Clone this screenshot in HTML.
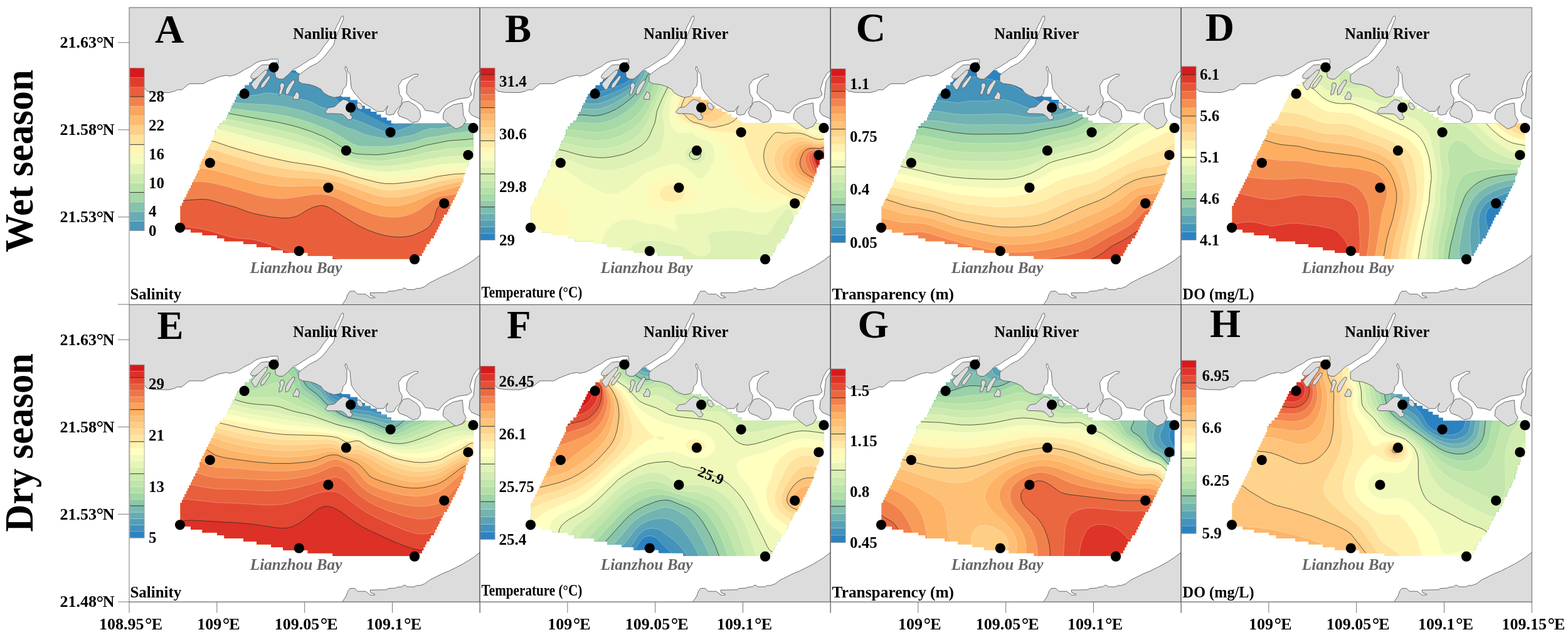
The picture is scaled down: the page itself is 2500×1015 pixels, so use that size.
<!DOCTYPE html>
<html><head><meta charset="utf-8"><title>Figure</title><style>html,body{margin:0;padding:0;background:#fff;overflow:hidden}svg{display:block}.l{stroke:#fff;stroke-opacity:.35;stroke-width:.8}</style></head><body>
<svg width="2500" height="1015" viewBox="0 0 2500 1015">
<defs>
<clipPath id="dc"><path d="M81.7 316.0 L81.7 353.5 L98.0 353.5 L98.0 353.6 L98.0 358.2 L116.7 358.2 L116.7 358.3 L116.7 362.9 L140.0 362.9 L140.1 363.0 L140.1 367.6 L151.7 367.6 L151.7 372.3 L182.0 372.3 L182.1 372.4 L182.1 377.0 L203.0 377.0 L203.1 377.0 L203.1 381.7 L226.4 381.7 L226.4 381.7 L226.4 386.4 L245.0 386.4 L245.1 386.4 L245.1 391.1 L284.7 391.1 L284.8 391.1 L284.8 395.8 L324.4 395.8 L324.4 395.8 L324.4 400.4 L462.1 400.4 L462.2 395.8 L466.8 395.8 L466.8 391.1 L466.9 391.1 L469.1 391.1 L469.1 386.4 L469.2 386.4 L471.5 386.4 L471.5 381.7 L473.8 381.7 L473.8 377.0 L473.9 377.0 L478.5 377.0 L478.5 372.3 L478.5 372.3 L480.8 372.3 L480.8 367.6 L485.5 367.6 L485.5 362.9 L485.5 362.9 L487.8 362.9 L487.8 358.3 L487.9 358.2 L490.1 358.2 L490.1 353.6 L490.2 353.5 L492.5 353.5 L492.5 348.9 L492.5 348.9 L494.8 348.9 L494.8 344.2 L494.9 344.2 L497.1 344.2 L497.1 339.5 L497.2 339.5 L499.5 339.5 L499.5 334.8 L501.8 334.8 L501.8 330.1 L501.9 330.1 L506.5 330.1 L506.5 325.4 L506.5 325.4 L508.8 325.4 L508.8 320.7 L511.2 320.7 L511.2 316.1 L511.2 316.0 L513.5 316.0 L513.5 311.3 L515.8 311.3 L515.8 306.7 L515.9 306.6 L518.2 306.6 L518.2 302.0 L518.2 301.9 L520.5 301.9 L520.5 297.3 L520.5 297.3 L522.8 297.3 L522.8 292.6 L525.2 292.6 L525.2 287.9 L525.2 287.9 L527.5 287.9 L527.5 283.2 L527.5 283.2 L529.8 283.2 L529.8 278.5 L529.9 278.5 L532.2 278.5 L532.2 269.2 L532.2 269.1 L534.5 269.1 L534.5 264.4 L536.8 264.4 L536.8 255.1 L536.9 255.1 L539.2 255.1 L539.2 250.4 L541.5 250.4 L541.5 241.0 L541.5 241.0 L548.5 241.0 L548.5 184.7 L417.8 184.7 L417.8 184.7 L417.8 180.0 L410.8 180.0 L410.8 175.3 L401.5 175.3 L401.5 175.3 L401.5 170.6 L394.5 170.6 L394.5 165.9 L385.1 165.9 L385.1 165.9 L385.1 161.2 L375.8 161.2 L375.8 161.2 L375.8 156.6 L368.8 156.6 L368.8 156.5 L368.8 151.9 L364.2 151.9 L364.1 151.8 L364.1 147.2 L352.5 147.2 L352.4 147.1 L352.4 142.5 L340.0 142.5 L340.0 142.4 L340.0 141.9 L337.5 141.3 L336.1 140.6 L336.1 137.8 L333.8 137.8 L333.8 140.2 L333.7 140.2 L326.3 141.5 L322.1 140.1 L322.1 137.8 L316.3 137.8 L312.8 135.7 L312.8 135.6 L312.8 133.1 L309.4 133.1 L308.1 131.4 L308.1 128.4 L305.9 128.4 L305.6 128.0 L301.1 125.7 L301.1 125.7 L301.1 123.7 L297.2 123.7 L296.8 123.5 L291.8 121.8 L291.8 121.8 L291.8 119.0 L276.3 119.0 L276.0 119.0 L271.0 118.0 L271.0 118.0 L271.9 105.6 L266.1 102.5 L266.1 100.3 L261.6 100.3 L254.0 99.0 L252.1 97.9 L252.1 95.6 L247.8 95.6 L242.8 92.8 L242.8 90.9 L239.3 90.9 L235.8 89.0 L235.7 86.2 L233.4 86.2 L233.4 88.2 L233.4 88.2 L226.0 90.9 L219.4 90.9 L219.4 93.3 L219.4 93.3 L213.1 95.6 L210.1 95.6 L210.1 99.1 L209.3 100.3 L207.7 100.3 L207.7 102.8 L206.4 105.0 L205.4 105.0 L205.4 106.6 L203.5 109.6 L200.7 109.7 L200.7 113.1 L199.3 114.3 L196.1 114.3 L196.1 117.1 L193.7 119.0 L191.4 119.0 L191.4 123.7 L184.4 123.7 L184.4 128.4 L184.4 128.4 L182.1 128.4 L182.1 133.1 L177.4 133.1 L177.4 137.8 L177.4 137.8 L172.7 137.8 L172.7 142.5 L172.7 142.5 L170.4 142.5 L170.4 147.2 L170.3 147.2 L168.1 147.2 L168.1 151.8 L168.0 151.9 L165.7 151.9 L165.7 156.5 L165.7 156.6 L163.4 156.6 L163.4 161.2 L163.3 161.2 L161.1 161.2 L161.1 165.9 L161.0 165.9 L158.7 165.9 L158.7 170.6 L158.7 170.6 L156.4 170.6 L156.4 175.3 L154.1 175.3 L154.1 180.0 L154.0 180.0 L149.4 180.0 L149.4 184.7 L149.3 184.7 L144.7 184.7 L144.7 189.3 L144.7 189.4 L140.1 189.4 L140.0 194.1 L140.0 194.1 L137.7 194.1 L137.7 203.4 L137.7 203.5 L135.4 203.5 L135.4 208.1 L135.3 208.2 L133.1 208.2 L133.1 212.8 L133.0 212.8 L130.7 212.8 L130.7 217.5 L128.4 217.5 L128.4 222.2 L128.3 222.2 L126.1 222.2 L126.0 226.9 L126.0 226.9 L123.7 226.9 L123.7 231.6 L123.7 231.6 L121.4 231.6 L121.4 236.3 L121.3 236.3 L119.0 236.3 L119.0 240.9 L119.0 241.0 L116.7 241.0 L116.7 245.6 L116.7 245.7 L114.4 245.7 L114.4 250.3 L114.3 250.4 L112.0 250.4 L112.0 259.7 L112.0 259.7 L109.7 259.7 L109.7 264.4 L109.7 264.4 L107.4 264.4 L107.4 269.1 L107.3 269.1 L105.0 269.1 L105.0 273.8 L102.7 273.8 L102.7 278.5 L102.7 278.5 L100.4 278.5 L100.4 283.2 L100.3 283.2 L98.0 283.2 L98.0 287.9 L98.0 287.9 L95.7 287.9 L95.7 292.5 L95.6 292.6 L93.4 292.6 L93.4 297.2 L93.3 297.3 L91.0 297.3 L91.0 301.9 L91.0 301.9 L88.7 301.9 L88.7 306.6 L88.6 306.6 L86.4 306.6 L86.4 311.3 L86.3 311.3 L84.0 311.3 L84.0 316.0 L84.0 316.0 L81.7 316.0Z"/></clipPath>
<clipPath id="fc"><rect x="0" y="0" width="559.4" height="473.5"/></clipPath>
<g id="land" fill="#dcdcdc" stroke="#5a5a5a" stroke-width="0.9" stroke-linejoin="round"><path d="M0.0 0.0 L559.4 0.0 L559.4 100.5 L553.5 105.0 L547.6 115.3 L543.0 130.0 L546.0 139.0 L540.2 143.5 L524.0 145.8 L510.6 151.2 L501.8 157.5 L493.0 168.5 L484.0 165.5 L472.2 164.0 L466.3 155.2 L457.4 149.3 L448.6 144.8 L442.0 136.0 L442.7 124.0 L447.0 116.8 L454.5 110.9 L459.7 109.4 L460.4 106.4 L454.5 106.4 L445.6 110.9 L435.3 115.3 L429.4 124.0 L430.8 137.5 L435.3 144.8 L433.8 155.2 L425.0 164.0 L422.0 170.0 L414.6 171.4 L410.0 170.0 L409.4 164.0 L412.4 156.7 L410.0 159.6 L405.7 165.5 L395.4 165.5 L383.6 158.0 L371.7 150.8 L362.9 140.4 L359.0 136.0 L354.4 128.6 L353.0 118.0 L352.2 106.4 L348.5 102.0 L346.3 94.6 L344.8 93.9 L344.0 97.6 L347.0 103.5 L347.0 118.0 L345.6 125.6 L341.0 130.0 L339.6 137.5 L335.0 142.0 L326.3 143.4 L317.5 140.4 L310.0 136.0 L305.6 130.0 L296.8 125.6 L288.0 122.7 L276.0 121.2 L270.0 118.0 L270.0 107.9 L277.6 102.0 L288.0 94.6 L299.7 88.7 L308.6 81.3 L314.5 74.0 L320.4 66.5 L326.3 59.0 L327.8 51.7 L330.8 44.3 L335.0 34.0 L338.0 26.6 L341.9 17.7 L341.0 13.3 L338.0 14.8 L335.0 22.0 L330.8 29.6 L326.3 40.0 L320.4 47.3 L316.0 54.7 L310.0 62.0 L304.0 71.0 L296.8 78.3 L288.0 82.8 L279.0 88.7 L270.0 94.6 L261.3 99.0 L252.4 108.0 L245.0 114.0 L239.0 114.0 L233.5 111.0 L232.5 103.5 L237.6 88.0 L237.6 85.3 L236.7 82.1 L225.9 82.1 L221.5 83.7 L210.7 84.8 L202.0 88.0 L193.4 94.0 L184.7 98.3 L176.0 103.8 L169.5 107.0 L160.8 109.2 L154.3 108.1 L145.7 109.7 L139.0 111.8 L130.7 115.2 L125.2 117.3 L118.3 121.4 L96.2 121.4 L92.1 124.2 L83.8 131.1 L76.2 131.1 L72.8 133.2 L63.1 135.6 L39.7 135.2 L28.7 133.2 L24.5 129.0 L0.0 129.0Z"/><path d="M339.5 474.0 L345.7 464.5 L348.8 456.2 L351.9 452.1 L359.2 451.9 L364.3 456.7 L376.8 456.7 L385.0 462.9 L391.8 462.4 L391.2 460.9 L385.0 459.0 L384.0 454.7 L410.9 454.2 L413.0 452.1 L424.3 451.6 L427.4 450.0 L434.7 449.5 L437.8 446.9 L440.9 447.5 L443.0 449.5 L454.3 449.5 L458.5 447.4 L463.7 447.4 L470.9 444.8 L479.2 438.6 L489.5 433.5 L499.9 428.3 L510.2 424.2 L520.5 419.0 L530.9 413.8 L541.2 407.6 L548.5 402.9 L559.4 394.5 L559.4 474.0Z"/><path d="M193.4 110.3 L195.5 106.0 L202.0 99.4 L210.7 91.8 L220.5 90.8 L223.7 93.0 L221.5 98.3 L210.7 107.0 L199.9 113.5 L194.4 112.4Z"/><path d="M195.5 124.4 L199.9 130.9 L203.0 130.3 L208.5 120.0 L219.4 104.8 L220.5 100.5 L217.2 99.4 L206.4 109.2 L197.7 117.9 L194.4 122.2Z"/><path d="M210.7 128.7 L215.0 126.5 L223.7 113.5 L225.3 109.7 L222.6 108.1 L217.2 114.6 L210.7 122.2 L209.6 126.5Z"/><path d="M238.9 139.5 L243.2 137.4 L244.3 133.0 L247.6 124.4 L246.5 120.6 L242.1 120.0 L240.0 124.4 L241.0 128.7 L238.9 135.2Z"/><path d="M249.7 139.5 L254.0 137.4 L258.4 128.7 L263.8 119.0 L263.8 115.7 L260.6 115.7 L254.0 123.3 L249.7 130.9 L249.2 136.3Z"/><path d="M261.6 146.0 L270.3 146.6 L271.4 139.5 L269.2 135.2 L266.0 134.1 L263.8 139.5 L261.1 142.8Z"/><path d="M312.4 166.5 L317.4 159.8 L327.5 158.1 L334.2 151.4 L340.9 146.4 L347.6 148.0 L352.0 153.0 L353.0 163.0 L352.6 171.5 L356.0 174.0 L354.3 178.2 L349.3 179.0 L344.2 173.2 L339.2 169.8 L327.5 169.0 L315.8 169.0Z"/><path d="M362.7 153.0 L366.0 151.4 L370.0 154.0 L372.7 160.0 L370.0 163.1 L365.0 161.0 L363.0 157.0Z"/><path d="M436.8 150.8 L445.6 149.3 L457.4 156.7 L463.4 164.0 L464.8 174.4 L460.4 181.8 L451.5 183.3 L442.7 177.4 L430.8 173.0 L427.9 167.0 L432.3 158.0Z"/><path d="M504.0 162.5 L516.5 155.0 L531.3 152.0 L532.8 171.4 L537.2 180.3 L531.3 189.2 L521.0 193.6 L510.6 186.2 L500.3 177.4 L501.0 168.5Z"/><path d="M559.4 106.4 L552.0 118.0 L550.5 130.0 L549.0 144.8 L543.0 153.7 L541.7 165.5 L546.0 171.4 L559.4 177.4Z"/></g>
<g id="dots" fill="#000"><circle cx="230.5" cy="95.3" r="8.1"/><circle cx="183.6" cy="137.4" r="8.1"/><circle cx="353.1" cy="159.4" r="8.1"/><circle cx="416.6" cy="198.8" r="8.1"/><circle cx="548.5" cy="191.9" r="8.1"/><circle cx="345.9" cy="227.9" r="8.1"/><circle cx="540.4" cy="235.0" r="8.1"/><circle cx="128.8" cy="247.5" r="8.1"/><circle cx="317.4" cy="287.1" r="8.1"/><circle cx="502.2" cy="312.1" r="8.1"/><circle cx="81.0" cy="350.8" r="8.1"/><circle cx="270.8" cy="388.0" r="8.1"/><circle cx="455.0" cy="401.2" r="8.1"/></g>
</defs>
<rect width="2500" height="1015" fill="#fff"/>
<g transform="translate(206,12)">
<g clip-path="url(#fc)">
<rect x="0" y="0" width="559.4" height="473.5" fill="#fff"/>
<g clip-path="url(#dc)"><rect x="60" y="70" width="510" height="350" fill="#2c82c0"/><path fill="#4a97b9" d="M70 90l0-2.2 12.5 4.1 25 9.2 45 18.4 7.5 2.4 7.5 1.5 7.5-.1 7.5-2 5-2.3 12.5-7.7 10-5.3 8.5-3.5 9-2.3 7.5-.6 6.5 .4 26.4 5 7.8 2.5 12.3 5 17 7.8 7.5 4.3 5 3.6 4.3 4.3 11.4 15 4.3 3.6 5 3.2 10 4.7 20 8 37.5 18.9 5 1.9 2.5 0 5-1.7 20-10.4 12.5-5.7 10-3.6 7.5-1.9 15-1.8 45-1.2 25-2.8 0 248.8-487.5 0z"/><path fill="#68adb3" class="l" d="M70 105l0-1.2 27.5 9.5 20 7.9 37.5 16.2 12.5 3.9 5 .7 7.5-.4 22.5-2.4 15-2.9 7.5-.2 25 3.7 17.3 5.2 15.2 2.7 10 3.8 10.4 6 17.1 5.6 22.5 10.3 27.5 9.1 32.5 13.6 5 1.7 5 1 5 .1 7.5-1.4 22.5-8.1 20-8.8 10-2.8 7.5-.7 12.5 .3 10-.4 35-2.6 15-2 0 235.1-487.5 0z"/><path fill="#86c2ac" class="l" d="M70 120l0-1.4 22.5 7.2 20 7.3 35 13.7 15 4.6 5 .7 17.5 1 32.5 1.5 22.5 2.2 10 1.6 27.5 6.7 7.5 2.2 17.5 6.9 20 6.2 17.5 8.3 7.5 2.9 12.5 3.8 15 6.5 7.5 2.1 25 5 5 .4 7.5-.2 30-5.5 5-1.5 15-6.7 10-2.8 2.5-.2 10 .8 22.5-4 42.5-4.7 0 222.9-487.5 0z"/><path fill="#a4d8a6" class="l" d="M70 132.5l22.5 6.4 48.2 16.1 16.8 4.7 10 1.7 70 8.9 17.5 3.5 20 5.1 15 5.1 25 9.5 15 7.8 25 15.3 7.5 3.1 5 1 10 .7 22.5 .3 10-.3 10-1 30-5.2 7.5-2 12.5-4.2 7.5-1.9 15-2.1 22.5-4.4 17.5-1.9 15-2.3 10-.6 0 211.7-487.5 0z"/><path fill="#bae3a9" stroke="#2a2a2a" stroke-opacity=".85" stroke-width=".9" d="M70 147.5l0-2 25 6.2 45 12.8 15 3.7 82.5 14.7 17.5 3.9 15 4 20 6.6 20 8.2 12.5 6.5 25 15.5 10 4.4 5 1.3 10 .7 22.5 .6 12.5-1 15-2.3 25-4.7 10-2.5 15-4.5 37.5-7.4 27.5-1.9 20-2.2 0 199.4-487.5 0z"/><path fill="#ceebaf" class="l" d="M70 160l0-1.9 20 4 62.5 14.8 85 18 27.5 6.8 22.5 7.1 17.5 6.7 12.5 5.8 22.5 11.9 10 4.6 7.5 2.5 10 2 27.5 2 7.5-.1 10-.9 32.5-5.4 32.5-7.6 27.5-4.8 10-1.1 25-1.3 17.5-2.3 0 186.7-487.5 0z"/><path fill="#e1f3b5" class="l" d="M70 172.5l0-2.1 25 3.9 25 4.7 135 32 25 6.8 20 6.5 12.5 4.9 27.5 12 12.5 4.6 12.5 3.3 15 2.3 20 1.6 10-.1 10-.8 27.5-4 32.5-6.5 15-2.4 15-1.6 27.5-1.6 20-3.1 0 174.6-487.5 0z"/><path fill="#f5fbbc" class="l" d="M70 185l0-2.4 15 1.6 30 3.9 22.3 4.4 57.7 15.5 97.5 24 15 4.6 37.3 13.4 15.2 4.7 15 3.3 20 3.1 15 .9 17.5-1.1 27.5-3.6 40-7.1 15-1.4 27.2-1.3 20.3-3.7 0 163.7-487.5 0z"/><path fill="#fff5b4" class="l" d="M70 197.5l0-2.3 15 .8 27.5 2.4 20 3.1 10 2.6 32.5 10 30 8.1 45 10.8 50 10.5 17.5 4.9 45 13.9 27.5 6.2 12.5 2.1 15 .6 20-1.7 27.5-3.7 22.5-4.6 10-1.6 20-1.9 20-.7 20-3.6 0 154.1-487.5 0z"/><path fill="#fee29e" stroke="#2a2a2a" stroke-opacity=".85" stroke-width=".9" d="M70 210l0-1.6 25 .5 20 1.1 15 2.1 7.5 1.9 20 6.9 17.5 5.3 37.5 10.2 42.5 9.4 37.5 5.6 15 2.8 32.5 8.1 17.5 6.1 10 2.9 27.5 7.1 12.5 2.2 15 .1 22.5-2.3 22.5-3.4 22.5-5.5 10-1.7 20-2.6 17.5-.6 20-2.8 0 145.7-487.5 0z"/><path fill="#fecf88" class="l" d="M76.3 222.5l31.2 0 10 .7 10 1.5 10 2.6 45 14.2 35 9.2 17.5 3.7 15 2.6 15 1.9 32.5 3 22.5 3.9 17.8 4.2 24.7 8.4 30 9.2 10 2.3 7.5 1 7.5 .3 10-.4 20-2.7 20-4.2 27.5-7.4 25-4.6 17.5-1.6 20-.7 0 137.9-487.5 0 0-184.8z"/><path fill="#fdbc72" class="l" d="M70 240l0-1.4 27.5-1.1 15 .5 12.5 1.6 15 3.6 55 16.3 17.5 4.4 15 3.1 12.5 2 15 1.5 45 2 12.5 1.5 12.5 2.3 15 4.1 50 17.8 12.5 3 10 1.2 15-.2 17.5-2.7 15-4 32.5-10.6 32.5-7.3 15-1.4 17.5 1.3 0 130-487.5 0z"/><path fill="#fba55d" class="l" d="M70 257.5l0-.5 10-.8 20-.8 12.5 .5 12.5 1.4 20 4.5 42.5 12.3 17.5 4.6 15 3.2 12.5 1.9 10 .9 12.5 .4 42.5-1.3 10 .6 10 1.4 10 2.2 12.5 4 35 14.4 12.5 4.5 12.5 3.3 12.5 1.8 7.5 .2 7.5-.4 10-1.5 7.5-1.8 12.5-4.4 23.2-10.6 9.3-3.6 37.5-9.8 5-.6 7.5 .2 17.5 2.7 0 121.1-487.5 0z"/><path fill="#f2824d" class="l" d="M90.3 277.5l22.2-.3 10 .8 10 1.5 20 4.8 52.5 15 12.5 2.7 12.5 1.8 12.5 .6 12.5-.6 32.5-5.4 10-1 10 .1 7.5 .9 10 2.6 10 3.8 35 17 15 6 15 4.3 15 2 10 0 7.5-.8 10-2.2 7.5-2.6 5-2.2 7.5-4.1 16.6-12.2 7.7-5 5.7-2.7 5-1.5 17.5-2.5 12.5-4 5-.8 10 .8 15 3.5 0 109.7-487.5 0 0-128.4z"/><path fill="#e95f3c" stroke="#2a2a2a" stroke-opacity=".85" stroke-width=".9" d="M70 307.5l7.5-.5 12.5 .2 25-1.8 10 .5 7.5 1.6 22.5 6.9 15 3.8 17.5 6.7 12.5 3.7 25 4.9 20 2 10-.3 10-1.9 5-2.1 14.3-8.7 8.2-3.9 10-2.8 5-.4 2.5 .3 5 1.5 6.1 2.8 36.4 22.9 10 5.5 12.5 6 12.5 4.6 15 4.2 12.5 2.1 10 .5 10-.4 10-1.9 7.5-2.7 10-4.4 7.5-4.3 5-5 5-7.5 1.9-4.6 2.2-10 2.1-5 3.7-5 4-2.5 3.6-.2 10 4 5 .5 5-.7 10-2.8 5-.9 7.5 .1 7.5 1.1 5 1.2 0 92.7-487.5 0z"/><path fill="#e03c2c" class="l" d="M550.2 345l7.3-.7 0 63.2-72.5 0 10.3-7.5 10.2-10 7.7-10 11.8-18.6 5.3-6.4 4.7-3.9 5-2.9 5-2zM70 347.5l0-2.1 25 4.5 20 2.8 15 3.5 25 7.6 10 2.5 10 1.5 20 1.5 7.5 1.4 15 4.4 40 15.2 12.5 3.7 12.5 3 12.5 1.7 25-.8 10 .6 15 3.2 17.8 5.8-292.8 0z"/><path fill="#d7191c" class="l" d="M70 385l0-1.1 65 15.1 40 8.5-105 0zM555.6 395l1.9-1.3 0 13.8-17.7 0z"/></g>
<use href="#land"/>
<use href="#dots"/>
<rect x=".9" y="340.35" width="23.2" height="15.55" fill="#4a97b9"/><rect x=".9" y="325.09" width="23.2" height="15.55" fill="#68adb3"/><rect x=".9" y="309.84" width="23.2" height="15.55" fill="#86c2ac"/><rect x=".9" y="294.59" width="23.2" height="15.55" fill="#a4d8a6"/><rect x=".9" y="279.34" width="23.2" height="15.55" fill="#bae3a9"/><rect x=".9" y="264.08" width="23.2" height="15.55" fill="#ceebaf"/><rect x=".9" y="248.83" width="23.2" height="15.55" fill="#e1f3b5"/><rect x=".9" y="233.58" width="23.2" height="15.55" fill="#f5fbbc"/><rect x=".9" y="218.32" width="23.2" height="15.55" fill="#fff5b4"/><rect x=".9" y="203.07" width="23.2" height="15.55" fill="#fee29e"/><rect x=".9" y="187.82" width="23.2" height="15.55" fill="#fecf88"/><rect x=".9" y="172.56" width="23.2" height="15.55" fill="#fdbc72"/><rect x=".9" y="157.31" width="23.2" height="15.55" fill="#fba55d"/><rect x=".9" y="142.06" width="23.2" height="15.55" fill="#f2824d"/><rect x=".9" y="126.81" width="23.2" height="15.55" fill="#e95f3c"/><rect x=".9" y="111.55" width="23.2" height="15.55" fill="#e03c2c"/><rect x=".9" y="96.30" width="23.2" height="15.55" fill="#d7191c"/><line x1=".9" x2="24.1" y1="340.35" y2="340.35" stroke="#fff" stroke-opacity="0.35" stroke-width="0.8"/><line x1=".9" x2="24.1" y1="325.09" y2="325.09" stroke="#fff" stroke-opacity="0.35" stroke-width="0.8"/><line x1=".9" x2="24.1" y1="309.84" y2="309.84" stroke="#fff" stroke-opacity="0.35" stroke-width="0.8"/><line x1=".9" x2="24.1" y1="294.59" y2="294.59" stroke="#333" stroke-width="1"/><line x1=".9" x2="24.1" y1="279.34" y2="279.34" stroke="#fff" stroke-opacity="0.35" stroke-width="0.8"/><line x1=".9" x2="24.1" y1="264.08" y2="264.08" stroke="#fff" stroke-opacity="0.35" stroke-width="0.8"/><line x1=".9" x2="24.1" y1="248.83" y2="248.83" stroke="#fff" stroke-opacity="0.35" stroke-width="0.8"/><line x1=".9" x2="24.1" y1="233.58" y2="233.58" stroke="#fff" stroke-opacity="0.35" stroke-width="0.8"/><line x1=".9" x2="24.1" y1="218.32" y2="218.32" stroke="#333" stroke-width="1"/><line x1=".9" x2="24.1" y1="203.07" y2="203.07" stroke="#fff" stroke-opacity="0.35" stroke-width="0.8"/><line x1=".9" x2="24.1" y1="187.82" y2="187.82" stroke="#fff" stroke-opacity="0.35" stroke-width="0.8"/><line x1=".9" x2="24.1" y1="172.56" y2="172.56" stroke="#fff" stroke-opacity="0.35" stroke-width="0.8"/><line x1=".9" x2="24.1" y1="157.31" y2="157.31" stroke="#fff" stroke-opacity="0.35" stroke-width="0.8"/><line x1=".9" x2="24.1" y1="142.06" y2="142.06" stroke="#333" stroke-width="1"/><line x1=".9" x2="24.1" y1="126.81" y2="126.81" stroke="#fff" stroke-opacity="0.35" stroke-width="0.8"/><line x1=".9" x2="24.1" y1="111.55" y2="111.55" stroke="#fff" stroke-opacity="0.35" stroke-width="0.8"/><rect x=".9" y="96.30" width="23.2" height="259.30" fill="none" stroke="#999" stroke-width="0.8"/>
<text x="31.0" y="150.4" font-family="'Liberation Serif','Times New Roman',serif" font-weight="bold" font-size="25">28</text>
<text x="31.0" y="196.1" font-family="'Liberation Serif','Times New Roman',serif" font-weight="bold" font-size="25">22</text>
<text x="31.0" y="241.9" font-family="'Liberation Serif','Times New Roman',serif" font-weight="bold" font-size="25">16</text>
<text x="31.0" y="287.6" font-family="'Liberation Serif','Times New Roman',serif" font-weight="bold" font-size="25">10</text>
<text x="31.0" y="333.4" font-family="'Liberation Serif','Times New Roman',serif" font-weight="bold" font-size="25">4</text>
<text x="31.0" y="363.9" font-family="'Liberation Serif','Times New Roman',serif" font-weight="bold" font-size="25">0</text>
<text x="41.0" y="55.6" font-family="'Liberation Serif','Times New Roman',serif" font-weight="bold" font-size="64">A</text>
<text x="261.3" y="49.5" font-family="'Liberation Serif','Times New Roman',serif" font-weight="bold" font-size="24.5" textLength="135" lengthAdjust="spacingAndGlyphs">Nanliu River</text>
<text x="192.8" y="422.6" font-family="'Liberation Serif','Times New Roman',serif" font-weight="bold" font-style="italic" font-size="25" fill="#666" textLength="146.6" lengthAdjust="spacingAndGlyphs">Lianzhou Bay</text>
<text x="1.5" y="465" font-family="'Liberation Serif','Times New Roman',serif" font-weight="bold" font-size="26" textLength="81.8" lengthAdjust="spacingAndGlyphs">Salinity</text>
</g>
</g>
<g transform="translate(765,12)">
<g clip-path="url(#fc)">
<rect x="0" y="0" width="559.4" height="473.5" fill="#fff"/>
<g clip-path="url(#dc)"><rect x="60" y="70" width="510" height="350" fill="#2c82c0"/><path fill="#2c82c0" d="M249.1 80l308.4 0 0 327.5-487.5 0 0-287.6 35 2 65 5.5 7.5 .1 5-.7 12.5-3.8 22.5-4.7 7.5-3 5-2.9 5-4.5 3.7-5.4z"/><path fill="#4091bc" class="l" d="M256.7 80l300.8 0 0 327.5-487.5 0 0-277.1 40 1.8 42.5 3 25 2.3 7.5-.4 37.5-12.7 9.4-4.4 5.6-3.7 3.7-3.8 3-5z"/><path fill="#559fb7" class="l" d="M264.1 80l293.4 0 0 327.5-487.5 0 0-266.8 30 .8 57.5 2.7 20 1.5 7.5-.3 7.5-1.6 20-7.7 12.5-5.4 10-5.2 7.9-5.5 2.5-2.5 2.1-3.4 11.2-24.1z"/><path fill="#69aeb3" class="l" d="M269.9 82.5l1.6-2.5 286 0 0 327.5-487.5 0 0-256.4 22.5 .1 42.5 1.5 27.5 0 17.5 .9 7.5-.4 10-2.5 12.5-5 15-7.5 12.5-7.5 7.6-5.7 2.6-2.5 3.6-5 11.2-22.3z"/><path fill="#7dbcae" class="l" d="M277.5 82.5l1.8-2.5 278.2 0 0 327.5-487.5 0 0-246.1 25-.2 42.5 1.2 25-1.1 20 1 10-1.2 10-3.1 12.5-5.6 15-9.1 10-7.2 10-8.6 4-5 11-20.8z"/><path fill="#92cbaa" stroke="#2a2a2a" stroke-opacity=".85" stroke-width=".9" d="M285.6 82.5l2-2.5 269.9 0 0 327.5-487.5 0 0-235.6 27.5-.7 45 1.3 7.5-.2 12.5-1.4 15 1.5 7.5 .1 10-1.6 12.5-4.4 10-4.7 10-6.5 12.5-9.7 15-14.6 4.2-6 8.6-17.5z"/><path fill="#a6d9a5" class="l" d="M294.3 82.5l2-2.5 229 0 9.7 6.1 7.5 3.6 7.5 2.3 7.5 .9 0 314.6-487.5 0 0-225 17.5-1 17.5-.2 37.5 2 20 0 15 1.4 7.5 .2 7.5-.7 5-1 7.5-2.2 7.5-2.9 10-4.9 10-6.3 10-8 7.5-7.8 12.7-16.1 2.9-5 5.1-12.5 3.7-7.5 10.3-15z"/><path fill="#b5e1a7" class="l" d="M303.4 82.5l2.2-2.5 193.2 0 26.2 24 10 7.7 5 2.8 5 2 5 1 7.5-.2 0 290.2-487.5 0 0-214 22.5-1.8 20 .1 42.5 4 22.5 2.9 7.5 .3 10-.8 10-1.9 7.5-2.2 7.5-3.1 11.4-6 11.1-6.8 7.4-5.7 4.4-5 10.7-15.1 9.3-17.4 2.3-5 5-15 3.6-7.5 8.2-12.5z"/><path fill="#c3e7ac" class="l" d="M313.1 82.5l2.5-2.5 162.3 0 13.5 12.5 31.1 33.8 10 9 7.5 4.2 5 1.4 5 .1 7.5-1.7 0 268.2-487.5 0 0-202.5 22.5-2.6 12.5-.4 10 .3 17.5 2.1 40 7 12.5 1.1 12.5-.9 12.5-2.2 10-3 8.7-3.9 8.8-5 10-7 7.5-6.6 5-5.8 12.8-23.1 9.9-20 6.6-17.5 4.6-10 8.3-12.5z"/><path fill="#d0ecb0" class="l" d="M323.6 82.5l3.1-2.5 131.3 0 12 9.8 10.6 10.2 11.3 12.5 25.6 30.6 7.5 7.8 5 4.3 7.5 4.4 5 1.2 2.5 .1 5-.8 7.5-3 0 250.4-487.5 0 0-190.1 12.5-2.3 12.5-1.6 10-.6 10 .2 15 1.9 37.5 8.4 12.5 1.4 10 .3 12.5-.9 12.5-2.3 12.5-3.8 10-4.6 7.5-4.6 7.5-5.9 5-5.2 5.9-7.8 5.9-10 6.8-17.5 24.6-52.5 4.7-7.5 5.8-7.5 6.3-6.9z"/><path fill="#ddf1b4" stroke="#2a2a2a" stroke-opacity=".85" stroke-width=".9" d="M336 82.5l3.9-2.5 96.9 0 8.1 5 6.8 5 14.2 12.5 14 15 30.1 35.5 9.2 9.5 8.5 7.5 7.3 4.6 2.5 .9 5 .6 7.5-1.7 7.5-3.8 0 236.9-487.5 0 0-176.2 12.5-3.2 12.5-2.3 12.5-1.1 10 .1 17.5 3.2 20 5.9 12.5 2.9 17.5 2.2 12.5 .4 12.5-1.3 17.5-3.8 10-3.4 12-5.9 7.9-5 5.1-4.4 4.7-5.6 3-5 8.5-20 1.3-5 2.5-15.2 8.3-19.8 12.3-25 4.4-8 5-7.4 7.5-8.8 7.5-7zM342.5 227.4l-2.5 .5-3.8 2.1-1.7 2.5-.4 2.5 .7 2.5 2.7 2.9 2.5 1.2 2.5 .5 2.5-.1 2.5-.7 2.5-1.6 1.7-2.2 .6-2.5-.4-2.5-1.9-2.6-2.5-1.6-2.5-.8z"/><path fill="#ebf7b9" class="l" d="M352.8 82.5l7-2.5 49.7 0 13 5 7.5 4 7.5 4.8 13.9 11.2 12.4 12.5 26.6 30 11.9 12.5 13.5 12.5 12.5 10 6.7 4 5 1 7.5-1.6 10-5.1 0 226.7-91.6 0 6-22.5 2.9-7.5 1.7-2.5 2.7-2.5 8.3-4.4 5-3.8 5-6.3 2.6-5.5 1.3-5 .5-5-.3-5-1-5-3.1-7.8-2.5-3.3-2.5-.8-2.5 .5-2.5 1.3-5.6 5.1-9.5 12.5-9.9 17.3-2.5 2.5-2.5 1.1-5 .6-5-.3-27.5-5.3-15-1.1-12.5 .4-12.5 1.2-7.5 1.1-5 1.9-2.8 3.1-.8 2.5-.1 2.5 3.2 12.5 .6 5-.3 2.5-1 2.5-2.5 2.5-3.8 2.1-2.5 .8-5 .3-4.4-.7-3.1-1.1-7.3-3.9-10.8-7.5-6.9-2.8-17.5-3.7-12.5-3.8-10-1-12.5 0-7.5 .7-7.5 2.2-6.8 3.4-6.7 5-4.7 5-3.3 5-3.3 7.5-1.9 7.5-155.8 0 0-159.7 15-5.1 12.5-3 10-1.3 10 .1 17.5 2.1 2.5 .7 25 10.3 7.5 2.6 10 2.7 15 2.6 12.5 0 12.5-1.7 15-4.1 27.8-11.2 15.2-7.5 7-4.9 2.5-2.5 1.5-2.6 1.9-5 2.9-17.5 1.3-12.5-.2-2.5-2.8-12.5-.2-5 .6-5 4.9-17.5 9.1-20 4-7.5 4.5-7.2 5-6.5 5-5.4 5-4.6 7.5-5.6 7.5-4.5zM335 222.4l-4.3 2.6-2.3 2.5-2 5 .5 5 1.1 2.5 2 2.6 2.9 2.4 4.6 2.3 5 1 2.5 0 5-1 2.5-1.1 4.5-3.7 1.7-2.5 1-2.5 .2-5-.7-2.5-1.5-2.5-2.4-2.5-5.3-3-5-1.1-5 .1z"/><path fill="#f8fcbd" class="l" d="M365.7 87.5l6.8-1.1 7.5-.5 12.5 .8 12.5 3 12.7 5.3 12.2 7.5 12 10 10 10 25.4 27.5 18.7 17.5 9.4 7.5 24.6 17.3 5 2.7 2.5 .5 5-.1 7.5-2.5 7.5-4.1 0 218.7-52.9 0 6.6-20 3.9-15 1.6-12.5-.5-12.5-1.6-7.5-1.7-5-2.5-5-3.4-5-9.5-10.7-2.5-.9-5-.4-5 .7-3.8 1.3-8.7 5.1-10 4.4-10 2.4-5 .3-7.5-.6-7.5-1.6-17.5-5-7.5-1.3-7.5-.5-10 .9-22.5 5.2-12.5 2.1-20 2.3-15 .3-5 .6-3.5 2.9-1.3 2.5-.4 2.5 .4 2.5 4.1 7.5 .5 2.5-.5 2.5-1.8 2.5-2.5 .4-2.5-.2-2.5-.8-10-5.6-5-1.7-7.5-1.5-15-2-20-5.6-7.5-.6-10 .5-5 .9-7.5 2.8-5 3-5 4.3-5 6.1-5 9.5-4.3 10.5-6.3 17.5-4.2 15-112.7 0 0-137.2 5.8-2.8 16.7-7.4 10-3.4 12.5-2.5 5-.4 5 .3 5 1.5 8.7 4.4 26.3 18.2 20 12.1 7.5 3.1 7.5 2.3 7.5 1.4 5 .2 5-.6 5-1.6 10-5.7 10-7.1 15-13.3 10-6.7 12.5-4.7 27.5-8 5-.3 2.5 .3 5 1.8 6.7 3.6 7.9 5 3.2 2.5 4.8 5 2.4 3.4 2.5 2 2.5 .3 3.3-.7 4.1-2.5 2.6-2.5 5-6.8 4.6-8.2 2.9-6.6 1.7-5.9 .8-5-.4-5-1.2-5-2.1-5-3.8-4.8-2.5-1.9-2.5-1.3-12.4-4.5-4.8-2.5-2.6-2.5-1.3-2.5-1.4-1.4-2.5-.5-10 1.6-5 .2-5-.6-5-2.3-5-4.8-2.7-4.7-2.3-10-.4-7.5 1.8-17.5 2.9-10 6.8-15 3.9-6.5 4.3-6 8.2-8.9 5-4.3 6.1-4.3 11.4-5.9 7.5-2.7z"/><path fill="#fff9b7" class="l" d="M362.2 97.5l10.3-1.7 12.5 .2 12.5 2.6 10.1 3.9 9.9 5.7 8.9 6.8 10.4 10 18.2 20.5 9.5 9.5 15 12.5 17.6 12.5 20.4 10.7 12.5 7.6 5 2.2 5 .9 5-.5 5-1.7 7.5-4 0 212.3-31.5 0 2.5-15 1.2-12.5 .2-12.5-.7-10-1.9-10-3.2-10-3.7-7.5-5.7-7.5-4.7-3.9-7.5-4.2-5-4.2-5-2-7.5-1.5-5-.3-17.5 1.8-5-.3-10-3.2-7.5-3.7-5-3.2-6-5.3-4.6-5-11.3-15-3.1-4.9-2.5-5.4-4.6-12.2-6.8-15-3.7-15-2.7-5-2.2-2.5-6.6-5-4.7-2.5-6.2-2.6-7.5-1.5-5-1.6-5-2.6-7.5-4.8-5-1.4-12.5-1.3-5.7-1.7-4.7-2.5-2.1-1.8-2.5-3.1-2.2-5.1-.8-5 .8-15 1-5 2.3-7.5 3.2-7.5 3.2-5.8 7.5-10.3 5-5.2 5-4.3 5-3.5 7.5-4.1 5-2.1zM293.7 270l8.8-1.4 7.5 .3 7.5 2.1 7.5 4.6 6.9 6.9 6.5 7.5 3.7 5 2.1 5 .2 2.5-.7 2.5-1.5 2.5-2.4 2.5-3.7 2.5-6.1 2.7-7.5 2-25 5.2-7.5 .3-5-.7-5-1.7-5-2.9-5-4.9-1.7-2.5-2.2-5-.5-2.5-.1-5 1.9-7.5 4.7-7.5 5.3-5 7.6-4.5zM89.2 302.5l8.3-1.7 5-.3 5 .5 5 1.6 12.5 6.2 5 3.4 5.5 5.3 2 2.6 2.8 4.9 2.4 7.5 .8 7.5 0 7.5-1 12.5-2 10-4.6 12.5-2.2 7.5-3.4 17.5-60.3 0 0-99.8z"/><path fill="#ffeca8" class="l" d="M359.8 107.5l10.2-1.7 7.5-.1 5 .5 6.3 1.3 6.2 2 10 5 10 7.5 7.5 7.6 6.4 7.9 13.6 19.1 8 8.4 4.5 3.5 6.4 4 28.6 15.1 6.3 2.4 18.7 5.6 15 7.5 7.5 2.6 5 .5 5-.9 10-4.8 0 207-15.1 0 .7-12.5-.1-12.5-1-12.5-1.5-10-2.4-10-3.3-10-3.4-7.5-4.4-7.5-7-8.5-7.5-6.4-2.5-1.4-5-1-7.5-2.8-25-12.4-15-9.9-5.7-5.1-4-5-3.1-5-13.8-27.5-6.5-17.5-2.3-7.5-2.4-10-2.2-4-2.5-1.9-2.5-.4-17.5 .3-22.5-2.1-7.5-1.2-5-1.6-12.5-5.6-10-2.5-7.5-3-8.3-5.5-4.9-5-1.8-4.2-.4-3.3 1.3-10 4.3-12.5 5.5-10 6.8-8.6 7.5-6.7 10-6.1zM299.9 282.5l5.1-.8 5 .3 5 1.6 5.7 3.9 3.9 5 1.4 5-.3 2.5-1 2.5-2.2 2.5-4 2.5-3.5 1.3-5 1-5 .3-7.5-.9-4.3-1.7-3.3-2.5-2-2.5-1-2.5-.4-2.5 .9-5 1.4-2.5 3.7-3.8 2.5-1.7z"/><path fill="#fedf99" stroke="#2a2a2a" stroke-opacity=".85" stroke-width=".9" d="M359.2 117.5l5.8-1.1 7.5-.2 7.5 .9 7.5 2.4 6.2 3 6.3 4.4 5.7 5.6 3.9 5 3 5 3.1 7.5 1.5 7.5-.1 5-1.3 5-2.9 5-4.2 5-3.7 3.3-7.8 4.2-7.8 2.5-14.4 3.2-7.5 .3-15-5.3-12.6-3.2-4.9-3-2.4-2-7.1-7.5-4.1-2.5-1.6-2.5 .2-2.5 2.5-9.2 4.9-10.8 5-7.5 5.1-5.5 7.5-5.9 7.5-3.9zM470.7 200l1.8-.8 2.5-.4 12.5 1.7 12.5-.8 10 .5 7.5 1.7 12.7 5.6 4.8 1.6 5 1.1 5-.1 2.5-.6 10-4.6 0 202.6-.8 0-.6-15-1.4-12.5-3.9-20-3-10-3.8-10-4.8-10-4.4-7.5-4.8-6.7-5-5.7-8.8-7.6-6.2-3.6-10-2.8-5-2.3-15-10.6-7-5.7-5.4-5-4.3-5-3.1-5-3.6-7.5-2.5-7.5-1.4-7.5 .1-7.5 1.3-7.5 2.8-7.5 2.9-5 7.7-10z"/><path fill="#fed28a" class="l" d="M353.1 130l6.9-1.9 5-.5 7.5 .6 5.9 1.8 4.9 2.5 6 5 3.7 5 2.2 5 1.1 5-.1 5-1.2 5-2.5 5-2.5 3.1-4.9 4.4-7.9 5-4.7 2.1-2.5 .7-5 0-17.5-3.6-5-1.6-3.6-2.6-2.4-2.5-3.8-5-3-5-.6-2.5 .6-5 1.9-5 3.4-5.8 3.5-4.2 4-3.8 5-3.5zM501.6 207.5l5.9-.9 7.5 .2 5 1.2 15 4.8 7.5 1.1 6.4-1.4 8.6-3.8 0 142-5.7-13.2-6.7-12.5-7.6-11.6-6.8-8.4-5.7-5.6-5.9-4.4-6.6-3.7-14.1-6.3-10.3-7.5-5.4-5-4.4-5-3.5-5-3.5-7.5-1.9-7.5-.2-7.5 1.5-7.5 3.6-7.5 3.8-5 5.8-5 8.6-4.5z"/><path fill="#fec57b" class="l" d="M353.5 142.5l6.5-1.2 5 .5 2.5 .9 3.9 2.3 2.3 2.5 1.5 2.5 .8 2.5 .2 2.5-.8 5-2.9 5-5 5-5 2.4-7.5 .5-2.9-.4-4.6-1.6-4.5-3.4-3.2-5-.3-5 .5-2.5 2.5-4.5 5-4.9zM512.2 212.5l7.8 .2 17.5 4 5 .4 5-1 10-4.1 0 119.7-12.1-19.2-7.5-10-5.4-6.2-5-4.5-5-3.4-17-8.4-7.5-5-7.6-7.5-3.6-5-2.5-5-2.2-7.5-.2-7.5 1.7-7.5 2.4-5 3.5-5 2.4-2.5 5.6-4.4 7.5-3.9z"/><path fill="#fdb86c" class="l" d="M557.3 215l.2 103.1-15-20.3-5-6-5-5.1-6.1-4.2-16.4-7.9-5-3.5-3.9-3.6-4-5-2.6-5-1.6-5-.6-5 .9-7.5 3.1-7.5 3.5-5 2.4-2.5 6.8-5 6-2.2 5-.7 5 .2 12.5 2.3 5 .4 5-1.2z"/><path fill="#fba85e" class="l" d="M551 220l6.5-2.4 0 89.5-15-18.7-7.5-8.2-3.9-2.7-15.9-7.5-6.3-5-2.1-2.5-3-5-2.1-7.5 .6-7.5 2.9-7.5 5.1-7.5 4.7-3.8 2.5-1.3 5-1.3 5-.2 15 1.6z"/><path fill="#f59053" stroke="#2a2a2a" stroke-opacity=".85" stroke-width=".9" d="M550.1 222.5l7.4-2.4 0 77.7-20.1-22.8-2.4-1.9-11.2-5.6-7.1-5-3.5-5-2.1-5-.5-2.5-.1-2.5 .7-5 2.5-7.5 2.8-5 3.5-3.2 5-2.2 5-.4 12.5 .4z"/><path fill="#ef7848" class="l" d="M557 222.5l.5-.1 0 67.3-16.6-17.2-3.4-2.8-7-4.7-5.3-5-3.1-5-2-5-1.3-5-.2-2.5 .7-5 .8-2.5 1.3-2.5 3.6-3.4 5-1.8 15-1.4z"/><path fill="#e9613d" class="l" d="M555.5 225l2-.4 0 58.1-25.3-22.7-3.3-5-3.1-7.5-1.5-5-.1-2.5 1.4-5 1.9-2.5 2.5-1.7 5-1.6 10-1.6z"/><path fill="#e34932" class="l" d="M552.7 227.5l4.8-.7 0 49.7-17.2-14-4.9-5-1.8-2.5-2.5-5-2.4-7.5 .4-5 1.3-2.5 3-2.5 7.7-2.5z"/><path fill="#dd3127" class="l" d="M548.4 230l9.1-1 0 42-10-7.2-7.5-6.4-3.7-4.9-3.3-7.5-.5-5 .7-2.5 1.8-2.5 4.5-2.5z"/><path fill="#d7191c" stroke="#2a2a2a" stroke-opacity=".85" stroke-width=".9" d="M544.9 232.5l5.1-1 7.5-.1 0 34.3-7.5-4.7-5-3.8-4.6-4.7-3-5-1.3-5 .1-2.5 1-2.5 2.6-2.5z"/></g>
<use href="#land"/>
<use href="#dots"/>
<rect x=".9" y="359.95" width="23.2" height="10.85" fill="#2c82c0"/><rect x=".9" y="349.41" width="23.2" height="10.85" fill="#4091bc"/><rect x=".9" y="338.86" width="23.2" height="10.85" fill="#559fb7"/><rect x=".9" y="328.32" width="23.2" height="10.85" fill="#69aeb3"/><rect x=".9" y="317.77" width="23.2" height="10.85" fill="#7dbcae"/><rect x=".9" y="307.22" width="23.2" height="10.85" fill="#92cbaa"/><rect x=".9" y="296.68" width="23.2" height="10.85" fill="#a6d9a5"/><rect x=".9" y="286.13" width="23.2" height="10.85" fill="#b5e1a7"/><rect x=".9" y="275.58" width="23.2" height="10.85" fill="#c3e7ac"/><rect x=".9" y="265.04" width="23.2" height="10.85" fill="#d0ecb0"/><rect x=".9" y="254.49" width="23.2" height="10.85" fill="#ddf1b4"/><rect x=".9" y="243.95" width="23.2" height="10.85" fill="#ebf7b9"/><rect x=".9" y="233.40" width="23.2" height="10.85" fill="#f8fcbd"/><rect x=".9" y="222.85" width="23.2" height="10.85" fill="#fff9b7"/><rect x=".9" y="212.31" width="23.2" height="10.85" fill="#ffeca8"/><rect x=".9" y="201.76" width="23.2" height="10.85" fill="#fedf99"/><rect x=".9" y="191.22" width="23.2" height="10.85" fill="#fed28a"/><rect x=".9" y="180.67" width="23.2" height="10.85" fill="#fec57b"/><rect x=".9" y="170.12" width="23.2" height="10.85" fill="#fdb86c"/><rect x=".9" y="159.58" width="23.2" height="10.85" fill="#fba85e"/><rect x=".9" y="149.03" width="23.2" height="10.85" fill="#f59053"/><rect x=".9" y="138.48" width="23.2" height="10.85" fill="#ef7848"/><rect x=".9" y="127.94" width="23.2" height="10.85" fill="#e9613d"/><rect x=".9" y="117.39" width="23.2" height="10.85" fill="#e34932"/><rect x=".9" y="106.85" width="23.2" height="10.85" fill="#dd3127"/><rect x=".9" y="96.30" width="23.2" height="10.85" fill="#d7191c"/><line x1=".9" x2="24.1" y1="359.95" y2="359.95" stroke="#fff" stroke-opacity="0.35" stroke-width="0.8"/><line x1=".9" x2="24.1" y1="349.41" y2="349.41" stroke="#fff" stroke-opacity="0.35" stroke-width="0.8"/><line x1=".9" x2="24.1" y1="338.86" y2="338.86" stroke="#fff" stroke-opacity="0.35" stroke-width="0.8"/><line x1=".9" x2="24.1" y1="328.32" y2="328.32" stroke="#fff" stroke-opacity="0.35" stroke-width="0.8"/><line x1=".9" x2="24.1" y1="317.77" y2="317.77" stroke="#333" stroke-width="1"/><line x1=".9" x2="24.1" y1="307.22" y2="307.22" stroke="#fff" stroke-opacity="0.35" stroke-width="0.8"/><line x1=".9" x2="24.1" y1="296.68" y2="296.68" stroke="#fff" stroke-opacity="0.35" stroke-width="0.8"/><line x1=".9" x2="24.1" y1="286.13" y2="286.13" stroke="#fff" stroke-opacity="0.35" stroke-width="0.8"/><line x1=".9" x2="24.1" y1="275.58" y2="275.58" stroke="#fff" stroke-opacity="0.35" stroke-width="0.8"/><line x1=".9" x2="24.1" y1="265.04" y2="265.04" stroke="#333" stroke-width="1"/><line x1=".9" x2="24.1" y1="254.49" y2="254.49" stroke="#fff" stroke-opacity="0.35" stroke-width="0.8"/><line x1=".9" x2="24.1" y1="243.95" y2="243.95" stroke="#fff" stroke-opacity="0.35" stroke-width="0.8"/><line x1=".9" x2="24.1" y1="233.40" y2="233.40" stroke="#fff" stroke-opacity="0.35" stroke-width="0.8"/><line x1=".9" x2="24.1" y1="222.85" y2="222.85" stroke="#fff" stroke-opacity="0.35" stroke-width="0.8"/><line x1=".9" x2="24.1" y1="212.31" y2="212.31" stroke="#333" stroke-width="1"/><line x1=".9" x2="24.1" y1="201.76" y2="201.76" stroke="#fff" stroke-opacity="0.35" stroke-width="0.8"/><line x1=".9" x2="24.1" y1="191.22" y2="191.22" stroke="#fff" stroke-opacity="0.35" stroke-width="0.8"/><line x1=".9" x2="24.1" y1="180.67" y2="180.67" stroke="#fff" stroke-opacity="0.35" stroke-width="0.8"/><line x1=".9" x2="24.1" y1="170.12" y2="170.12" stroke="#fff" stroke-opacity="0.35" stroke-width="0.8"/><line x1=".9" x2="24.1" y1="159.58" y2="159.58" stroke="#333" stroke-width="1"/><line x1=".9" x2="24.1" y1="149.03" y2="149.03" stroke="#fff" stroke-opacity="0.35" stroke-width="0.8"/><line x1=".9" x2="24.1" y1="138.48" y2="138.48" stroke="#fff" stroke-opacity="0.35" stroke-width="0.8"/><line x1=".9" x2="24.1" y1="127.94" y2="127.94" stroke="#fff" stroke-opacity="0.35" stroke-width="0.8"/><line x1=".9" x2="24.1" y1="117.39" y2="117.39" stroke="#fff" stroke-opacity="0.35" stroke-width="0.8"/><line x1=".9" x2="24.1" y1="106.85" y2="106.85" stroke="#333" stroke-width="1"/><rect x=".9" y="96.30" width="23.2" height="274.20" fill="none" stroke="#999" stroke-width="0.8"/>
<text x="31.0" y="125.7" font-family="'Liberation Serif','Times New Roman',serif" font-weight="bold" font-size="25">31.4</text>
<text x="31.0" y="210.1" font-family="'Liberation Serif','Times New Roman',serif" font-weight="bold" font-size="25">30.6</text>
<text x="31.0" y="294.4" font-family="'Liberation Serif','Times New Roman',serif" font-weight="bold" font-size="25">29.8</text>
<text x="31.0" y="378.8" font-family="'Liberation Serif','Times New Roman',serif" font-weight="bold" font-size="25">29</text>
<text x="40.0" y="54.8" font-family="'Liberation Serif','Times New Roman',serif" font-weight="bold" font-size="63">B</text>
<text x="261.3" y="49.5" font-family="'Liberation Serif','Times New Roman',serif" font-weight="bold" font-size="24.5" textLength="135" lengthAdjust="spacingAndGlyphs">Nanliu River</text>
<text x="192.8" y="422.6" font-family="'Liberation Serif','Times New Roman',serif" font-weight="bold" font-style="italic" font-size="25" fill="#666" textLength="146.6" lengthAdjust="spacingAndGlyphs">Lianzhou Bay</text>
<text x="2.6" y="462" font-family="'Liberation Serif','Times New Roman',serif" font-weight="bold" font-size="26" textLength="160.8" lengthAdjust="spacingAndGlyphs">Temperature (°C)</text>
</g>
</g>
<g transform="translate(1324,12)">
<g clip-path="url(#fc)">
<rect x="0" y="0" width="559.4" height="473.5" fill="#fff"/>
<g clip-path="url(#dc)"><rect x="60" y="70" width="510" height="350" fill="#2c82c0"/><path fill="#2c82c0" d="M429.9 82.5l3.1-2.5 124.5 0 0 327.5-487.5 0 0-310.4 25 3 20 1.5 20 .5 27.5-.3 10-.8 10-1.6 25-6.6 10-2 12.5-.9 12.5 .8 10 1.9 25 6 12.5 4.3 9.3 4.6 8.4 5 32.3 22.5 7.5 3.4 5 1 2.5-.1 2.5-.4 5-1.9 5-2.8 7.5-5.2z"/><path fill="#4393bb" class="l" d="M452.5 82.5l3.4-2.5 101.6 0 0 327.5-487.5 0 0-292.1 30 5.1 20 2.5 27.5 1.3 20 1.5 10 .2 7.5-.7 5-1.3 17.5-8.1 10-3.4 10-2.1 5-.4 5 .3 17.5 4.3 17.5 2.8 7.5 2.1 5 2.2 7.5 4.1 20 12 12.5 8.7 6.1 3.5 6.4 2.5 5 1.2 7.5 .8 5-.1 5-1.1 7.5-3.2 12.5-7.9 15.4-12.2 37.1-31.7z"/><path fill="#5aa3b6" class="l" d="M475.2 82.5l3.8-2.5 78.5 0 0 327.5-487.5 0 0-274.5 75 16.9 17.5-1.7 7.5 0 10 .7 22.5 3.1 22.5-3.3 25 .3 17.5-2.1 7.5-.1 7.5 1.3 7.5 2.2 10 3.6 17.5 7.3 10 3 5 .7 5 .1 15-1.1 10-1.8 7.5-2.4 9.7-4.7 8-5 16.9-12.5 45.4-36.8z"/><path fill="#71b4b1" class="l" d="M499.3 82.5l4.2-2.5 54 0 0 327.5-487.5 0 0-257.9 52.5 13 11.8 2.4 8.2 1 7.5 .3 12.5-1.3 5-.1 7.5 .8 22.5 4 15 1.1 22.5-.2 32.5-1.1 10 .1 10 .9 25 3.9 10 .8 12.5-.2 12.5-1.5 17.5-3.1 7.5-2.1 8.3-3.3 9.4-5 11.8-7.5 10.6-7.5 37.4-29.1 15-11.1 17.5-11.9z"/><path fill="#88c4ac" class="l" d="M526.1 82.5l4.9-2.5 26.5 0 0 327.5-487.5 0 0-242.5 37.5 9.1 17.5 3.3 27.5 2.8 17.5 .4 30 4.4 17.5 1.6 17.5 .4 35-.6 40 .7 10-.7 20-2.5 20-3.1 10-2.1 10-3.1 10-4.5 10.8-6.1 19.4-12.5 37.3-27.8 20-13.9 22.5-14z"/><path fill="#9fd5a7" stroke="#2a2a2a" stroke-opacity=".85" stroke-width=".9" d="M557.1 82.5l.4-.2 0 325.2-487.5 0 0-228 30 6.8 17.5 3.2 17.5 1.6 12.5-.9 47.5 8.6 17.5 2.1 15 1 60-.4 15-.6 12.5-1.5 20-4.4 30-5 10-2.2 7.5-2.3 7.5-3.1 7.5-3.9 25-14.8 42.5-30.6 25-16.2 15-8.7 17.5-9.3z"/><path fill="#b3e0a6" class="l" d="M556.4 97.5l1.1-.5 0 310.5-487.5 0 0-214.3 22.5 4.9 17.5 3.2 17.5 2 22.5 1.1 37.5 8.1 12.5 1.9 12.5 1.3 25 1 45-.6 20-1.1 15-2.2 7.5-1.7 22.5-6.4 35-7.9 7.5-2.4 7.5-3.3 12.5-6.9 15-9.1 40-28.6 25-15.8 15-8.5 17.5-9.1z"/><path fill="#c2e6ab" class="l" d="M555.5 112.5l2-.8 0 295.8-487.5 0 0-201.1 40 7.7 40 5.3 37.5 8.3 17.5 2.2 30 1.2 45-.6 20-1.3 20-3.1 12.5-3.1 15-6.1 10-3.4 32.5-7.3 10.2-3.7 14-7.5 15.8-9.7 35-25.6 22.5-14.2 15-8.3 17.5-8.8z"/><path fill="#d1ecb0" class="l" d="M554.5 127.5l3-1.2 0 281.2-487.5 0 0-188.4 32.5 6.4 42.5 7.6 35 8 17.5 2.5 27.5 1.5 40 .2 22.5-1 17.5-2.4 12.5-2.8 12.5-3.7 7.5-2.7 15-6.7 7.5-2.7 10-2.6 25-5.4 7.5-2.5 6.6-2.8 13.4-7 12.5-7.6 30.5-22.9 19.5-12.2 15-8.1 17.5-8.7 17.5-7.9z"/><path fill="#e0f3b5" class="l" d="M554 142.5l3.5-1.3 0 266.3-487.5 0 0-175.8 67.5 13.7 37.5 8.7 17.5 2.7 27.5 2 42.5 .9 20-.7 15-2 12.5-3 10-3.4 10-4.2 17.5-8.4 10-3.8 45-11.3 9.1-2.9 8.4-3.4 10-5 10-6.1 10-7.1 20-15.5 12.5-7.9 17.5-9 17.5-8.3 17.5-7.6z"/><path fill="#f0f9ba" stroke="#2a2a2a" stroke-opacity=".85" stroke-width=".9" d="M554.5 157.5l3-1.1 0 251.1-487.5 0 0-163.5 37.5 7.9 65 14.9 20 3.2 25 2.3 40 1.5 20-.1 15-1.6 15-3.5 12.5-4.5 10-5 17.5-10.5 5-2.3 10-2.9 50-12.3 7.5-2.2 7.5-3 10-4.9 12.5-7.7 27.1-20.8 5.4-3.4 40-18.8z"/><path fill="#ffffbf" class="l" d="M557.2 172.5l.3 235-487.5 0 0-151.4 105 23.5 25 4.3 22.5 2.2 37.5 1.9 17.5-.3 17.5-2 15-3.3 12.5-4.3 11.2-5.6 18.8-11.3 8.4-3.7 9.1-2.6 45-10.7 10-3.1 7.5-3.1 10-4.8 12.5-7.3 27.5-19.1 11.2-6.8 33.8-15.9z"/><path fill="#fff0ae" class="l" d="M557 190l.5-.2 0 217.7-487.5 0 0-139.6 30 7.2 55 11.7 30 7.2 25 4.5 37.5 3.3 17.5 .8 17.5-.8 20-2.5 15-3.1 12.5-4.2 10.2-4.5 22.3-11.5 10-4 12.5-3.4 25-5.3 12.5-4.3 15-7.1 17.7-9.4 39.8-23 15-8 27.5-13.8z"/><path fill="#fee29d" class="l" d="M553.5 212.5l4-2 0 197-487.5 0 0-128.1 12.5 2.6 47.5 11.6 27.5 5.9 40 10.3 17.5 3.3 37.5 4 15 .9 17.5-.5 25-2.5 12.5-2.3 10-2.8 12.5-4.7 25-11.5 10-4.1 10-3.2 22.5-5.8 8.7-3.1 10.2-5 28.6-16.1 15-7.5 17.5-7.7 27.5-10 8.8-3.7z"/><path fill="#fed38c" class="l" d="M557.3 235l.2 172.5-487.5 0 0-116.7 20 3.8 37.5 10.6 37.5 8.3 35 10.3 15 3.4 37.5 5.3 17.5 1.7 20 0 25-1.8 12.5-2 12.5-3.7 12.5-5.1 35-16 27.5-9.4 10-3.9 12.5-6.2 30-17.8 17.5-7.8 12.5-3.9 27.5-4.9 10-3 10-5.3z"/><path fill="#fec47b" stroke="#2a2a2a" stroke-opacity=".85" stroke-width=".9" d="M555.9 255l1.6-.9 0 153.4-487.5 0 0-104.8 10 1.2 7.5 1.4 27.5 8.9 12.5 3.5 37.5 7.6 12.5 3.8 25 8.6 12.5 2.8 40.1 7 14.9 2.1 22.5 .5 27.5-1.7 12.5-1.7 13.3-4.2 17.9-7.5 33.8-15.6 30-11.6 10-4.7 7.5-4.2 25.1-16.4 7.4-3.9 7.5-3.4 12.5-3.8 27.5-4.1 10-2.1 7.5-3z"/><path fill="#fdb56a" class="l" d="M554.1 270l3.4-1.5 0 139-487.5 0 0-91 15 2.5 25 7.3 10 2.4 27.5 4.1 10 2 10 2.8 25 8.8 10 3.1 17.5 4.2 32.5 6.8 15 2.5 15 1.2 17.5-.1 17.5-1.2 10-1.2 10-1.8 20-6 23.2-8.9 44.3-19.1 15-6.9 12.1-6.5 7.9-5.3 15.7-12.2 6.8-4.1 5-2.4 10-3.2 15-2.4 7.5-1.7 20.7-6.2z"/><path fill="#faa05b" class="l" d="M552.2 282.5l5.3-1.6 0 126.6-487.5 0 0-74.7 42.5 9.1 10 1 20 .6 9.8 1.5 8.8 2.5 26.4 9.2 12.5 3.7 32.5 8.5 25 5.2 15 2.3 12.5 .9 15 0 17.5-1.2 17.5-2.4 20-4.5 22.5-6.4 20-7.3 17.5-7.7 36.5-17.8 9.4-5 9.1-6.2 13.7-13.8 7.7-5 3.6-1.5 5-1.2 12.5-.6 5-.9 17.5-8.2z"/><path fill="#f3854e" class="l" d="M550.6 295l6.9-1.8 0 114.3-487.5 0 0-56.8 30 6.4 12.5 1.8 7.5 .1 20-1.8 10 .8 10 2.6 30 9.3 35 9.6 20 4.6 17.5 3.1 15 1.9 15 .9 17.5-.5 17.5-1.6 20-3 27.5-5.7 15-4.2 15-5.5 12.5-5.9 20-10.9 22.5-11.4 10-5.7 5-3.5 5-4.4 10.4-12.7 2.6-2.5 4.5-3.2 5-1.6 12.5 .5 5-.6 6.9-2.6 13.1-6.8z"/><path fill="#ec6a42" class="l" d="M555.8 307.5l1.7-.5 0 100.5-487.5 0 0-39.2 25 4.9 15 2 10 .2 22.5-1.4 12.5 1 12.5 2.6 52.5 13.7 17.5 4 20 3.5 25 3.1 20 .7 22.5-1.1 27.5-2.9 27.5-4.6 17.5-4.5 15-5.9 10-5.4 20-12.4 25-13 7.5-4.7 7.6-5.6 5.6-5 11.8-12.4 5-3.4 5-1.3 10-1.1 7.5-1.7 20-7.4z"/><path fill="#e54f35" stroke="#2a2a2a" stroke-opacity=".85" stroke-width=".9" d="M550 325l7.5-2.5 0 85-163.7 0 18.7-5.1 7.5-3 7.5-4 7.5-5 13.7-10.4 18.8-9.6 10-6 12.5-8.9 15-11.8 7.5-4.9 8.3-3.8zM70 387.5l0-2.2 20 3.2 15 1.7 12.5 .6 25-.2 15 1.1 20 3.5 54.9 12.3-162.4 0z"/><path fill="#de3429" class="l" d="M556.5 340l1-.3 0 67.8-110.1 0 10.1-5.5 45-34 15-10.4 15-8.1zM70 402.5l0-.9 20 2.6 17.5 1.5 45.7 1.8-83.2 0z"/><path fill="#d7191c" class="l" d="M554.5 360l3-1.3 0 48.8-75.1 0 25.8-20 14.3-10.2 15-9.1z"/></g>
<use href="#land"/>
<use href="#dots"/>
<rect x=".9" y="362.36" width="23.2" height="12.34" fill="#2c82c0"/><rect x=".9" y="350.32" width="23.2" height="12.34" fill="#4393bb"/><rect x=".9" y="338.28" width="23.2" height="12.34" fill="#5aa3b6"/><rect x=".9" y="326.24" width="23.2" height="12.34" fill="#71b4b1"/><rect x=".9" y="314.20" width="23.2" height="12.34" fill="#88c4ac"/><rect x=".9" y="302.17" width="23.2" height="12.34" fill="#9fd5a7"/><rect x=".9" y="290.13" width="23.2" height="12.34" fill="#b3e0a6"/><rect x=".9" y="278.09" width="23.2" height="12.34" fill="#c2e6ab"/><rect x=".9" y="266.05" width="23.2" height="12.34" fill="#d1ecb0"/><rect x=".9" y="254.01" width="23.2" height="12.34" fill="#e0f3b5"/><rect x=".9" y="241.97" width="23.2" height="12.34" fill="#f0f9ba"/><rect x=".9" y="229.93" width="23.2" height="12.34" fill="#ffffbf"/><rect x=".9" y="217.89" width="23.2" height="12.34" fill="#fff0ae"/><rect x=".9" y="205.85" width="23.2" height="12.34" fill="#fee29d"/><rect x=".9" y="193.81" width="23.2" height="12.34" fill="#fed38c"/><rect x=".9" y="181.77" width="23.2" height="12.34" fill="#fec47b"/><rect x=".9" y="169.73" width="23.2" height="12.34" fill="#fdb56a"/><rect x=".9" y="157.70" width="23.2" height="12.34" fill="#faa05b"/><rect x=".9" y="145.66" width="23.2" height="12.34" fill="#f3854e"/><rect x=".9" y="133.62" width="23.2" height="12.34" fill="#ec6a42"/><rect x=".9" y="121.58" width="23.2" height="12.34" fill="#e54f35"/><rect x=".9" y="109.54" width="23.2" height="12.34" fill="#de3429"/><rect x=".9" y="97.50" width="23.2" height="12.34" fill="#d7191c"/><line x1=".9" x2="24.1" y1="362.36" y2="362.36" stroke="#fff" stroke-opacity="0.35" stroke-width="0.8"/><line x1=".9" x2="24.1" y1="350.32" y2="350.32" stroke="#fff" stroke-opacity="0.35" stroke-width="0.8"/><line x1=".9" x2="24.1" y1="338.28" y2="338.28" stroke="#fff" stroke-opacity="0.35" stroke-width="0.8"/><line x1=".9" x2="24.1" y1="326.24" y2="326.24" stroke="#fff" stroke-opacity="0.35" stroke-width="0.8"/><line x1=".9" x2="24.1" y1="314.20" y2="314.20" stroke="#333" stroke-width="1"/><line x1=".9" x2="24.1" y1="302.17" y2="302.17" stroke="#fff" stroke-opacity="0.35" stroke-width="0.8"/><line x1=".9" x2="24.1" y1="290.13" y2="290.13" stroke="#fff" stroke-opacity="0.35" stroke-width="0.8"/><line x1=".9" x2="24.1" y1="278.09" y2="278.09" stroke="#fff" stroke-opacity="0.35" stroke-width="0.8"/><line x1=".9" x2="24.1" y1="266.05" y2="266.05" stroke="#fff" stroke-opacity="0.35" stroke-width="0.8"/><line x1=".9" x2="24.1" y1="254.01" y2="254.01" stroke="#333" stroke-width="1"/><line x1=".9" x2="24.1" y1="241.97" y2="241.97" stroke="#fff" stroke-opacity="0.35" stroke-width="0.8"/><line x1=".9" x2="24.1" y1="229.93" y2="229.93" stroke="#fff" stroke-opacity="0.35" stroke-width="0.8"/><line x1=".9" x2="24.1" y1="217.89" y2="217.89" stroke="#fff" stroke-opacity="0.35" stroke-width="0.8"/><line x1=".9" x2="24.1" y1="205.85" y2="205.85" stroke="#fff" stroke-opacity="0.35" stroke-width="0.8"/><line x1=".9" x2="24.1" y1="193.81" y2="193.81" stroke="#333" stroke-width="1"/><line x1=".9" x2="24.1" y1="181.77" y2="181.77" stroke="#fff" stroke-opacity="0.35" stroke-width="0.8"/><line x1=".9" x2="24.1" y1="169.73" y2="169.73" stroke="#fff" stroke-opacity="0.35" stroke-width="0.8"/><line x1=".9" x2="24.1" y1="157.70" y2="157.70" stroke="#fff" stroke-opacity="0.35" stroke-width="0.8"/><line x1=".9" x2="24.1" y1="145.66" y2="145.66" stroke="#fff" stroke-opacity="0.35" stroke-width="0.8"/><line x1=".9" x2="24.1" y1="133.62" y2="133.62" stroke="#333" stroke-width="1"/><line x1=".9" x2="24.1" y1="121.58" y2="121.58" stroke="#fff" stroke-opacity="0.35" stroke-width="0.8"/><line x1=".9" x2="24.1" y1="109.54" y2="109.54" stroke="#fff" stroke-opacity="0.35" stroke-width="0.8"/><rect x=".9" y="97.50" width="23.2" height="276.90" fill="none" stroke="#999" stroke-width="0.8"/>
<text x="31.0" y="129.9" font-family="'Liberation Serif','Times New Roman',serif" font-weight="bold" font-size="25">1.1</text>
<text x="31.0" y="214.2" font-family="'Liberation Serif','Times New Roman',serif" font-weight="bold" font-size="25">0.75</text>
<text x="31.0" y="298.4" font-family="'Liberation Serif','Times New Roman',serif" font-weight="bold" font-size="25">0.4</text>
<text x="31.0" y="382.7" font-family="'Liberation Serif','Times New Roman',serif" font-weight="bold" font-size="25">0.05</text>
<text x="40.5" y="53.6" font-family="'Liberation Serif','Times New Roman',serif" font-weight="bold" font-size="66">C</text>
<text x="261.3" y="49.5" font-family="'Liberation Serif','Times New Roman',serif" font-weight="bold" font-size="24.5" textLength="135" lengthAdjust="spacingAndGlyphs">Nanliu River</text>
<text x="192.8" y="422.6" font-family="'Liberation Serif','Times New Roman',serif" font-weight="bold" font-style="italic" font-size="25" fill="#666" textLength="146.6" lengthAdjust="spacingAndGlyphs">Lianzhou Bay</text>
<text x="2.6" y="465" font-family="'Liberation Serif','Times New Roman',serif" font-weight="bold" font-size="26" textLength="194.4" lengthAdjust="spacingAndGlyphs">Transparency (m)</text>
</g>
</g>
<g transform="translate(1883,12)">
<g clip-path="url(#fc)">
<rect x="0" y="0" width="559.4" height="473.5" fill="#fff"/>
<g clip-path="url(#dc)"><rect x="60" y="70" width="510" height="350" fill="#2c82c0"/><path fill="#2c82c0" d="M70 80l487.5 0 0 238.3-10-2.1-10-1.1-10 .1-7.5 .9-10 2.3-7.5 2.9-2.5 1.6-2.1 2.1-1.5 2.5-.7 2.5 0 5 1.7 5 4.4 10 2.4 7.5 11.4 50-445.6 0z"/><path fill="#4594ba" class="l" d="M70 80l487.5 0 0 225-10-1.3-10-.5-10 .8-7.5 1.5-10 3.3-12.5 5.8-5 3.6-3.6 4.3-1.4 2.5-1.6 5-.2 7.5 4 17.5 3 22.5 5 30-427.7 0z"/><path fill="#5fa6b5" class="l" d="M70 80l487.5 0 0 213.9-10-1-10-.2-10 1-10 2.2-12.5 4.8-12.5 6.5-6.9 5.3-4.2 5-2.9 5-1.9 5-1.6 7.5-.4 7.5 2 32.5 4.8 32.5-411.4 0z"/><path fill="#78b9af" class="l" d="M70 80l487.5 0 0 203.9-12.5-1-10 .1-10 1.2-12.5 3-12.5 4.8-10 5.1-7.7 5.4-7.4 7.5-4.8 7.5-4.2 10-2.4 10-1.7 12.5-1.1 15 .1 10 1.1 10 2.7 15 .7 7.5-395.3 0z"/><path fill="#92cbaa" class="l" d="M70 80l487.5 0 0 194.7-15-1.1-10 .2-12.5 1.7-15 3.5-12.5 4.6-10 5.3-8.1 6.1-6.9 7.1-5.4 7.9-4.7 10-4.3 12.5-3.6 15-4.3 22.5-1.5 12.5-.1 12.5 1.8 12.5-375.4 0z"/><path fill="#abdda4" stroke="#2a2a2a" stroke-opacity=".85" stroke-width=".9" d="M70 80l487.5 0 0 186.1-17.5-1-7.5 0-22.5 2.3-15 2.9-10 3.1-10 4.7-7.5 5.1-7.5 6.9-5 6.3-3.3 6.1-6.5 17.5-3.8 12.5-11.8 47.5-2.7 17.5 .2 5 .9 5-358 0z"/><path fill="#bce4a9" class="l" d="M70 80l487.5 0 0 177.9-52.5-.6-20 .9-12.6 1.8-11.4 2.5-6 2.4-5 3.7-3.3 3.9-4.2 6.6-2.7 5.9-2.5 7.5-5.2 30-12.1 52.5-2.2 17.5-.1 15-347.7 0z"/><path fill="#cdebaf" class="l" d="M70 80l487.5 0 0 169.7-20 .4-10-.6-15-2.3-20.1-4.7-9.9-3.3-8.5-4.2-6.3-5-12.7-12.5-3.4-2.5-4.1-2.1-5-1-2.5 .1-5 1.7-2.5 2-2.5 3-2.5 4.8-2.6 9-.1 7.5 2.6 15 0 10-1.1 7.5-3.8 15.8-.1 21.7-1.3 12.5-8.4 40-2.1 12.5-1.1 12.5-.6 20-338.9 0z"/><path fill="#ddf1b4" class="l" d="M70 80l216.2 0-8.7 4.8-7.5 5.9-7.5 7.3-8.1 9.5-2.8 5-.4 2.5 .5 2.5 1.3 2.5 2.3 2.5 3.3 2.5 3.9 2.2 5 1.4 5 .2 22.5-2.5 15 .4 12.5 2 25 7.1 7.5 1.1 2.5-.2 3.8-1.7 2-2.5 .7-2.5 .1-2.5-.8-5-1.9-5-2.5-5-6.8-10-9.4-10-9.8-7.5-9.6-5 234.2 0 0 161.1-17.5 1.2-7.5-.3-5-1.1-7.5-2.3-14.1-6.1-10.9-6.2-8.5-6.3-6.5-6-13.5-14-6.5-5.7-7.5-5.1-10-4.8-7.5-2.1-7.5-.3-5 1.5-2.5 1.6-2.5 2.3-2.5 3.3-2 4.3-1.1 5-.4 5 .4 30 .6 5.2 2.9 14.8 .8 10-.6 7.5-3 17.5-.1 22.5-1.6 12.5-6.2 30-2.6 15-1.3 12.5-.7 17.5-.7 7.5-329.4 0z"/><path fill="#eef8ba" class="l" d="M70 80l167.8 0-4.5 10-3.3 4.2-2.5 1.2-2.5 .3-10-.4-2.5 .2-2.5 1-1.3 1-1.5 2.5-.2 2.5 .9 2.5 8.8 12.5 5.8 6.5 7.5 6.2 10 6 5 2.2 7.5 2.5 10 1.9 17.5 .8 7.5 .9 10 2 12.5 3.9 15 6.1 25 12 21.9 9 8.1 4.8 5 4.4 4.7 5.8 2.8 4.7 3.5 7.8 2.4 7.5 2.5 10 3.3 17.5 2.7 17.5 .6 10-.5 7.5-2.1 15-.7 17.5-.8 7.5-9.8 50-2.1 15-3 27.5-318.5 0zM379 80l178.5 0 0 151.5-7.5 0-12.5 .9-5-1-10-4.5-10-5.5-10-6.6-7.5-5.8-7.5-6.9-22.5-22.5-28.8-24.6-10.3-10-10.1-12.5-23.3-34.8z"/><path fill="#ffffbf" stroke="#2a2a2a" stroke-opacity=".85" stroke-width=".9" d="M70 80l92.8 0 2.4 7.5 3.7 7.5 5.2 7.5 4.5 5 5.5 5 6.7 5 21.7 13.3 12.5 11.7 7.4 5 5.5 2.5 7.1 2 10 1.1 15-.2 7.5 1.9 7.6 2.7 47.4 20.5 25 12 12.5 7.3 5 3.8 4 3.9 4.2 5 4.3 7.1 3.4 7.9 4.1 11.9 1.9 10.6 2 17.5 .3 7.5-2.3 17.5-1.5 20-10.6 50-6.3 37.5-1.2 10-307.3 0zM407.6 80l149.9 0 0 141.6-27.5-5.3-7.5-2.7-5-2.7-9.1-5.9-10.9-8.9-10.8-11.1-20-22.5-21-25-12.5-17.5z"/><path fill="#ffefac" class="l" d="M70 80l46.2 0 3.7 7.5 4.5 7.5 9.3 12.5 4.7 5 6.6 6.1 5 3.9 7.5 4.7 10 4.4 17.5 5.4 6.5 3 11 6.4 17.5 12.7 10 5 5 1.5 7.5 1.3 25 1 5 1.1 7.5 2.8 25 11.9 27.5 11.7 20.7 9.6 6.8 3.7 5 3.4 7.5 6.8 4.6 6.1 2.9 4.9 2.5 5.4 2.5 7.2 2.5 15.9 1 16.6-1.7 25-1.2 10-2.8 15-8 35-6 32.5-2.1 15-296.7 0zM430 80l127.5 0 0 133.2-20-4.1-10-3.4-6.2-3.2-6.3-4.3-6.9-5.7-5.2-5-6.8-7.5-10.1-12.5-20.1-27.5-14.4-22.5z"/><path fill="#fedf99" class="l" d="M70 80l.4 0 7.4 12.5 7.1 10 8.1 10 9.2 10 10.5 10 14.8 12.4 15 11.2 10 6.4 5 2.4 5 1.5 20 2.1 10 2.1 10 3.5 17.5 7.3 7.5 2.4 7.5 1 25 .8 7.5 1.2 7.5 2 25 10.3 20 7.4 10 4.5 23.9 11.5 3.6 2.5 5 4.9 3.6 5.1 2.6 5 3.2 10 4.1 30 .4 15-1 12.5-2.2 15-9.2 40-4.7 25-3.1 20-286.2 0zM449.3 80l108.2 0 0 125.6-15-2.5-7.5-2.4-5-2.4-5.2-3.3-6.3-5-9.7-10-13.2-17.5-14.4-22.5-14.1-25z"/><path fill="#fece87" class="l" d="M466.9 80l90.6 0 0 117.9-12.5-1.4-7.5-2.7-5-3.2-5-4.1-5-5-5.5-6.5-10.4-15-12.7-22.5-12.3-25zM70 135l0-.6 16.8 13.1 18.8 12.5 25.7 15 9.3 5 9.4 4.2 10 2.8 22.5 2.1 10 1.7 32.5 9.3 7.5 .9 25 1.3 10 1.5 7.5 1.9 32.5 10.7 12.5 4.9 12.5 7 12.5 8 4.4 3.7 3.1 3.9 2.1 3.6 3.7 10 6.3 27.5 .8 7.5 .1 7.5-1 12.5-1.8 12.5-10.8 45-6.6 37.5-275.3 0z"/><path fill="#fdbe74" class="l" d="M483.9 80l73.6 0 0 109-10-.9-2.5-.7-4.6-2.4-7.9-7-8.2-10.5-9.1-15-8.7-17.5-9.8-22.5zM70 170l0-1 17.8 8.5 19.1 7.5 38.1 12.9 10 2.9 10 1.8 25 3.2 32.5 7.9 32.5 3.6 12.5 1.8 12.5 2.5 12.5 3.2 15 4.9 10 4.1 10 5.7 7 5.5 4.7 5 3.3 4.7 5 10.8 3.1 9.5 2.7 10 1.5 10 .3 7.5-.7 10-2.1 12.5-2.9 12.5-8.9 32.5-6.7 37.5-263.8 0z"/><path fill="#fdae61" stroke="#2a2a2a" stroke-opacity=".85" stroke-width=".9" d="M500.9 80l56.6 0 0 96.9-7.5-1.9-4.4-2.5-3.1-2.5-5-5.5-6.4-9.5-6.5-12.5-7.1-16.2-7.1-18.8zM70 200l0-1.2 15 4.5 15 3.2 32.5 4.5 17.5 5.3 10 2.2 27.5 2.6 22.5 5.7 10 2 65 8.4 12.5 3.3 12.5 4.2 7.5 3.5 5 3.2 3.8 3.6 4.1 5 3.1 5 4 8.3 2.6 6.7 2.1 7.5 1.3 7.5 .4 7.5-1 10-5.3 25-6.5 20-3.3 12.5-6.5 37.5-251.3 0z"/><path fill="#f59053" class="l" d="M518.8 80l38.7 0 0 77.9-5-3.4-5-5.1-4.8-6.9-4.1-7.5-3.6-7.8-5-12.7zM70 230l22.5 5.5 15 2.6 25 2 27.5 3.5 25 .7 7.5 .7 45 8 30 2 12.5 1.5 12.5 2.4 10 2.6 7.5 2.9 5 3 5.6 5.1 5.1 7.5 2.5 7.5 .6 7.5-1.3 9.2-5.2 18.3-1.7 7.5-12.9 77.5-237.7 0z"/><path fill="#ee7245" class="l" d="M539.3 80l18.2 0 0 43.9-5-8.5-3.6-7.9-3.9-10zM70 262.5l37.5 7.8 27.5 2.9 22.5 .9 32.5-2.4 15 .7 27.5 4.4 22.5 1.6 7.5 1.1 10 2.9 7.5 3.9 4.7 3.7 2.4 2.5 5.4 7.6 4.7 9.9 2.2 10 1.7 20-.1 15-2.2 25-4.6 27.5-224.2 0z"/><path fill="#e65538" class="l" d="M70 295l17.5 .9 7.5 .8 27.5 6.5 15 2.2 7.5 .2 10-.6 10-1.6 20-4.1 10-.7 27.5 2.2 27.5 1.5 10 2.3 7.5 3.2 5 3.4 5 5.7 4.2 8.1 1.2 5 2.1 32.7 .5 17.3-1 10-3.5 17.5-211 0z"/><path fill="#df372a" class="l" d="M97.5 342.5l10-1 7.5 .3 10 1.8 15 4.2 5 .5 27.5-4.2 7.5-.4 7.5 .2 30 3.9 22.5 4.4 5 2 4.7 3.3 10.3 11.4 2.5 3.6 2.6 5 .8 2.5 .6 5 1 2.2 2.5 1.6 .6 1.2-.2 2.5-7.6 15-192.8 0 0-64.3 12.5 1.5 5-.4z"/><path fill="#d7191c" stroke="#2a2a2a" stroke-opacity=".85" stroke-width=".9" d="M109.4 387.5l8.1-1 10 .1 22.5 2.4 10 1.9 7.5 2.7 6.8 3.9 5.9 5 4.3 5-114.5 0 0-11.9 12.5-2z"/></g>
<use href="#land"/>
<use href="#dots"/>
<rect x=".9" y="357.33" width="23.2" height="13.47" fill="#2c82c0"/><rect x=".9" y="344.16" width="23.2" height="13.47" fill="#4594ba"/><rect x=".9" y="330.99" width="23.2" height="13.47" fill="#5fa6b5"/><rect x=".9" y="317.81" width="23.2" height="13.47" fill="#78b9af"/><rect x=".9" y="304.64" width="23.2" height="13.47" fill="#92cbaa"/><rect x=".9" y="291.47" width="23.2" height="13.47" fill="#abdda4"/><rect x=".9" y="278.30" width="23.2" height="13.47" fill="#bce4a9"/><rect x=".9" y="265.13" width="23.2" height="13.47" fill="#cdebaf"/><rect x=".9" y="251.96" width="23.2" height="13.47" fill="#ddf1b4"/><rect x=".9" y="238.79" width="23.2" height="13.47" fill="#eef8ba"/><rect x=".9" y="225.61" width="23.2" height="13.47" fill="#ffffbf"/><rect x=".9" y="212.44" width="23.2" height="13.47" fill="#ffefac"/><rect x=".9" y="199.27" width="23.2" height="13.47" fill="#fedf99"/><rect x=".9" y="186.10" width="23.2" height="13.47" fill="#fece87"/><rect x=".9" y="172.93" width="23.2" height="13.47" fill="#fdbe74"/><rect x=".9" y="159.76" width="23.2" height="13.47" fill="#fdae61"/><rect x=".9" y="146.59" width="23.2" height="13.47" fill="#f59053"/><rect x=".9" y="133.41" width="23.2" height="13.47" fill="#ee7245"/><rect x=".9" y="120.24" width="23.2" height="13.47" fill="#e65538"/><rect x=".9" y="107.07" width="23.2" height="13.47" fill="#df372a"/><rect x=".9" y="93.90" width="23.2" height="13.47" fill="#d7191c"/><line x1=".9" x2="24.1" y1="357.33" y2="357.33" stroke="#fff" stroke-opacity="0.35" stroke-width="0.8"/><line x1=".9" x2="24.1" y1="344.16" y2="344.16" stroke="#fff" stroke-opacity="0.35" stroke-width="0.8"/><line x1=".9" x2="24.1" y1="330.99" y2="330.99" stroke="#fff" stroke-opacity="0.35" stroke-width="0.8"/><line x1=".9" x2="24.1" y1="317.81" y2="317.81" stroke="#fff" stroke-opacity="0.35" stroke-width="0.8"/><line x1=".9" x2="24.1" y1="304.64" y2="304.64" stroke="#333" stroke-width="1"/><line x1=".9" x2="24.1" y1="291.47" y2="291.47" stroke="#fff" stroke-opacity="0.35" stroke-width="0.8"/><line x1=".9" x2="24.1" y1="278.30" y2="278.30" stroke="#fff" stroke-opacity="0.35" stroke-width="0.8"/><line x1=".9" x2="24.1" y1="265.13" y2="265.13" stroke="#fff" stroke-opacity="0.35" stroke-width="0.8"/><line x1=".9" x2="24.1" y1="251.96" y2="251.96" stroke="#fff" stroke-opacity="0.35" stroke-width="0.8"/><line x1=".9" x2="24.1" y1="238.79" y2="238.79" stroke="#333" stroke-width="1"/><line x1=".9" x2="24.1" y1="225.61" y2="225.61" stroke="#fff" stroke-opacity="0.35" stroke-width="0.8"/><line x1=".9" x2="24.1" y1="212.44" y2="212.44" stroke="#fff" stroke-opacity="0.35" stroke-width="0.8"/><line x1=".9" x2="24.1" y1="199.27" y2="199.27" stroke="#fff" stroke-opacity="0.35" stroke-width="0.8"/><line x1=".9" x2="24.1" y1="186.10" y2="186.10" stroke="#fff" stroke-opacity="0.35" stroke-width="0.8"/><line x1=".9" x2="24.1" y1="172.93" y2="172.93" stroke="#333" stroke-width="1"/><line x1=".9" x2="24.1" y1="159.76" y2="159.76" stroke="#fff" stroke-opacity="0.35" stroke-width="0.8"/><line x1=".9" x2="24.1" y1="146.59" y2="146.59" stroke="#fff" stroke-opacity="0.35" stroke-width="0.8"/><line x1=".9" x2="24.1" y1="133.41" y2="133.41" stroke="#fff" stroke-opacity="0.35" stroke-width="0.8"/><line x1=".9" x2="24.1" y1="120.24" y2="120.24" stroke="#fff" stroke-opacity="0.35" stroke-width="0.8"/><line x1=".9" x2="24.1" y1="107.07" y2="107.07" stroke="#333" stroke-width="1"/><rect x=".9" y="93.90" width="23.2" height="276.60" fill="none" stroke="#999" stroke-width="0.8"/>
<text x="30.0" y="115.4" font-family="'Liberation Serif','Times New Roman',serif" font-weight="bold" font-size="25">6.1</text>
<text x="30.0" y="181.2" font-family="'Liberation Serif','Times New Roman',serif" font-weight="bold" font-size="25">5.6</text>
<text x="30.0" y="247.1" font-family="'Liberation Serif','Times New Roman',serif" font-weight="bold" font-size="25">5.1</text>
<text x="30.0" y="312.9" font-family="'Liberation Serif','Times New Roman',serif" font-weight="bold" font-size="25">4.6</text>
<text x="30.0" y="378.8" font-family="'Liberation Serif','Times New Roman',serif" font-weight="bold" font-size="25">4.1</text>
<text x="38.8" y="53.0" font-family="'Liberation Serif','Times New Roman',serif" font-weight="bold" font-size="64">D</text>
<text x="261.3" y="49.5" font-family="'Liberation Serif','Times New Roman',serif" font-weight="bold" font-size="24.5" textLength="135" lengthAdjust="spacingAndGlyphs">Nanliu River</text>
<text x="192.8" y="422.6" font-family="'Liberation Serif','Times New Roman',serif" font-weight="bold" font-style="italic" font-size="25" fill="#666" textLength="146.6" lengthAdjust="spacingAndGlyphs">Lianzhou Bay</text>
<text x="2.6" y="465" font-family="'Liberation Serif','Times New Roman',serif" font-weight="bold" font-size="26" textLength="114.0" lengthAdjust="spacingAndGlyphs">DO (mg/L)</text>
</g>
</g>
<g transform="translate(206,485.5)">
<g clip-path="url(#fc)">
<rect x="0" y="0" width="559.4" height="473.5" fill="#fff"/>
<g clip-path="url(#dc)"><rect x="60" y="70" width="510" height="350" fill="#2c82c0"/><path fill="#2c82c0" d="M70 80l233.7 0 7.5 20 4.3 10 11.8 22.5 2.7 3.5 1.8 1.5 4.4 2.5 11.3 4.8 12.5 4.4 12.5 3 25 4.8 5 .6 5-.3 5-1.3 7.5-3.3 7.5-4.2 25-15.9 42.5-29.3 12.5-7.6 10-5.3 12.5-5.9 10.9-4.5 16.6 0 0 327.5-487.5 0z"/><path fill="#4090bc" class="l" d="M70 80l224.4 0 11.9 30 11.2 19 5.2 11 2.3 3 5 3 20 9.4 5 1.9 10.5 2.7 19.5 2.9 15 4.6 5 .6 2.5-.1 5-1.3 5-2.1 7.5-4.3 30-18.3 40-27.3 17.5-10.6 10-5.2 12.5-5.5 22.5-8 0 322.1-487.5 0z"/><path fill="#539eb7" class="l" d="M70 80l215.4 0 4.5 10 6.4 17.5 3.5 7.5 3.3 5 9.4 11.7 7 13.3 3 3.1 24.2 14.4 8.3 3.7 6.1 1.3 21.4 2.5 17.5 5.5 5 1 7.5-.9 7.5-3.1 42.6-25 37.4-25.2 17.5-10.3 10-4.9 10-4.2 20-6.6 0 311.2-487.5 0z"/><path fill="#67acb3" class="l" d="M70 80l206.3 0 6.2 12.1 7.5 20.4 3.7 7.5 4 5 10.8 10 2 2.5 5.7 10 5.1 5 18 12.5 8.2 4.8 5 2.1 5 1.2 25 3.5 17.5 4.9 7.5 1.4 7.5-.3 2.5-.8 5-2.4 12.5-7.8 22.5-11.6 13.3-7.5 34.2-22.9 15-8.7 17.5-7.8 20-6.2 0 300.6-487.5 0z"/><path fill="#7abaaf" class="l" d="M70 80l196.3 0 5.2 7.5 4.1 7.5 3.3 7.5 5.1 15 4.1 7.5 4.4 4.6 12.5 9.5 10 13.4 11.9 10 11.3 7.5 11.8 6.1 5 1.3 27.5 4.7 30 8 5-.4 5-1.9 10-7.1 5-3 22.6-10.2 12.4-6.3 12.5-7.6 25-17.1 12.5-7.1 7.5-3.4 10-3.9 17.5-4.8 0 290.2-487.5 0z"/><path fill="#8ec8aa" stroke="#2a2a2a" stroke-opacity=".85" stroke-width=".9" d="M70 80l184.1 0 8.4 8.9 5.9 8.6 4.8 10 5 15 4.3 6.7 5 4.9 12.5 8.9 11.2 12 11.5 10 11.3 7.5 9.5 5 6 2.5 18 3.5 25 6.2 15 6.6 2.5 .6 7.5 0 6.9-1.9 4.1-2.5 9.3-7.5 24.5-10 15.2-7.1 12.5-7.4 25-17.2 12.5-6.7 15-5.6 15-3.5 0 280-487.5 0z"/><path fill="#a1d6a6" class="l" d="M70 80l57.6 0 14.9 5.5 12.5 3.9 10 2.3 7.5 .7 7.5-.6 5-1.1 21.2-8.2 9.9-2.5 13.6 0 7.8 2.2 5.7 2.8 6.8 4.7 5 4.6 5 5.6 3.6 5.1 2.8 5 6.1 17.5 2.5 4.1 2.8 3.4 5.6 5 14.1 9.7 14.8 12.8 9.9 7.5 12.9 7.5 11.7 5 18.2 4.2 12.5 3.4 14.4 4.9 13.1 5.9 7.5 1.7 7.5-.2 7.5-2 5-2.5 7.5-5.1 5-2.6 37.5-15.6 12.3-7.1 22.7-16 12.5-6.7 12.5-4.3 15-2.8 0 269.8-487.5 0z"/><path fill="#b1e0a6" class="l" d="M70 80l16.4 0 28.6 11.7 50 22.6 10 3.6 7.5 1.6 7.5-.6 7.5-3.2 5-3.4 12.5-10.9 7.5-4.5 5-1.4 2.5-.2 5 1 5 2.2 5 3.1 5 4 5 5.1 2.5 3.4 1.8 3.4 3.5 10 2.4 5 3.4 5 3.9 4.1 5 4 17.5 10.7 23.1 16.2 9.4 5.4 12.5 5.5 7.5 2.5 22.5 5.7 9.5 3.4 23 9.8 10 2.4 10 .1 5-.9 5-1.6 20-9.7 31.6-12.6 8.4-3.8 7.5-4.7 20-14.3 10-5.6 5-2 7.5-2.2 7.5-1.2 7.5-.6 0 259.4-487.5 0z"/><path fill="#bee5aa" class="l" d="M70 90l0-1.6 25 9.7 20 8.8 42.5 20.3 25 9.9 7.5 .6 7.5-.9 12.5-3.4 20-7.8 5-.5 5 1 5 3.1 13 13.3 9.5 7.7 8.3 4.8 19.2 9.3 28.1 15.7 9.4 4.1 7.5 2.6 27.5 7.4 8.5 3.4 16.5 7.9 12.5 4.4 7.5 1.7 7.5 .6 5-.1 5-.6 7.5-2 25-10.6 32.5-12.8 10.7-6 19.3-13.5 7.5-4.1 5-1.9 7.5-1.5 5-.3 7.5 .6 0 248.2-487.5 0z"/><path fill="#cbeaae" class="l" d="M70 102.5l0-.5 7.5 2.7 20 8 52.5 23.7 7.5 2.8 22.5 7 7.5 1.6 7.5 .7 7.5 .1 25-1.5 7.5 .8 5 1.3 7.5 3.1 17.5 8.5 27.5 9.6 32.5 14.6 12.5 4.3 17.5 4.3 10 2.9 8.6 3.5 11.4 6.5 5 2.1 15 5.1 10 2.2 10 .8 7.5-.4 7.5-1.5 7.5-2.4 61.2-24.9 9.7-5 11.6-8.3 7.5-3.9 5-1.1 5 .1 5 1.5 3.3 1.7 1.7 1.3 0 233.7-487.5 0z"/><path fill="#d8efb3" stroke="#2a2a2a" stroke-opacity=".85" stroke-width=".9" d="M70 115l22.5 8.2 45.6 19.3 14.4 5.3 5 1.4 10 1.7 12.5 3.9 10 2.3 12.5 1.6 25 1.6 12.5 2.4 22.5 7.4 20 4.3 10 2.8 37.5 13.4 10 2.7 12.5 2.7 10 2.9 10 4 10 6.1 7.5 3.4 17.5 5.7 12.5 2.6 7.5 .7 7.5-.1 8.2-1.3 9.5-2.5 22.3-8 22.5-10.2 32.5-9.1 4.2-2.7 3.3-3.6 2.5-1.9 2.5-.7 2.5 .7 1.5 3-.9 2.5-3.3 2.5-1.4 2.5 .7 2.5 2.4 2.5 3.5 1.5 5 .5 5-1 0 209-487.5 0z"/><path fill="#e5f5b7" class="l" d="M70 127.5l0-.5 20 6.9 47.5 18.3 15 4.5 15 3.2 22.5 5.7 10 1.7 30 3.7 30 6.8 27.5 4.6 12.5 3.1 30 8.8 25 5.7 10 3 5 2 12.5 7.5 7.5 3.3 20 6.6 12.5 2.9 7.5 .9 7.5 .1 7.5-.7 10-1.8 12.5-3.3 10-3.3 25-10.7 10-2.5 10-2 10-.6 15 2.5 5 .3 5-.4 0 203.7-487.5 0z"/><path fill="#f2fabb" class="l" d="M70 140l0-1.4 10 3 47.5 16.4 14.2 4.5 43.3 10.3 12.5 2.5 30 4.5 29.7 5.2 35.3 4.7 67.5 15.1 10 3.5 12.5 7.5 10 4.3 22.5 7.5 7.5 1.9 7.5 1.3 15 .6 17.5-1.8 10-2 9.1-2.6 25.9-10.4 17.5-5.1 7.5-1.3 5-.4 20 .3 0 199.4-487.5 0z"/><path fill="#ffffbf" class="l" d="M70 150l0-.4 17.5 4.9 50 15.5 52.5 12.1 57.5 9.2 40 3.8 15 2 25 4.5 20 4.7 15 2.6 7.5 2.6 12.5 7.7 10 4.4 27.5 9.7 15 3 10 .9 12.5 .1 10-.7 10.4-1.6 7.1-1.6 7.5-2.5 22.5-9.9 20-7.5 10-1.5 12.5 .3 0 195.2-487.5 0z"/><path fill="#fff3b1" class="l" d="M70 162.5l0-2.2 25 6.2 42.5 12 42.5 9.7 20 3.9 25 4 20 2.6 50 3.3 20 2.1 17.5 2.9 15 4.6 17.5 1.4 5 1.9 10 6.6 5 2.6 15.4 5.9 14.6 6.2 7.5 2.6 7.5 1.8 17.5 2.9 10 .7 10-.1 10-.8 10-1.8 5-1.4 5-2 41.7-20.6 3.3-1 5-.5 10 .5 0 191-487.5 0z"/><path fill="#fee6a2" stroke="#2a2a2a" stroke-opacity=".85" stroke-width=".9" d="M70 172.5l0-1.7 15 2.9 20 4.6 30 8 42.5 9.8 15 3 27.5 4.6 15 2 15 1.3 52.5 1.4 17.5 1.3 7.5 1.1 6.6 1.7 10.9 6.1 2.5 .7 2.5 0 10-2.2 5-.1 2.5 .6 10 6.5 7.5 4.1 15 5.8 17.5 8.3 7.5 2.5 12.5 3.2 17.5 3 10 .5 7.5-.3 10-1.1 10-2.1 5-1.7 17.5-9.5 14.8-6.8 12.7-8.2 2.5-1 2.5-.3 10 .7 0 186.3-487.5 0z"/><path fill="#feda94" class="l" d="M70 182.5l0-1.3 30 5 80 19.2 17.5 3.3 22.5 3.6 17.5 2 15 .8 25 .1 30-.7 12.5 .6 7.5 1.4 5 1.9 12.4 9.1 2.6 .4 2.8-.4 9.7-4 5-.6 5 1.8 12.5 7 15 6.3 15 8 7.5 3.2 20 6.1 7.5 1.6 10 1.3 7.5 .4 10-.5 10-1.4 7.5-1.9 7.5-2.9 17.5-9.8 17.5-7.9 10-6.1 5-1.5 7.5 0 0 180.9-487.5 0z"/><path fill="#fecd85" class="l" d="M70 192.5l0-.7 12.5 1.3 27.5 4 20 4.5 32.5 8.9 15 3.6 22.5 4.3 22.5 3.2 17.5 1.5 17.5 .5 22.5-.6 30-2.3 7.5 0 5 .6 7.5 2.3 10.4 6.4 4.6 2 6 .5 11.5-2.2 2.5 0 5 1.2 23.4 11 16.6 9.4 10 4.6 10 3.5 10 2.8 10 2 7.5 .8 7.5 .2 10-.6 10-1.7 7.5-2.1 10-4.3 16.5-9.6 8.5-4.3 22.5-9.2 7.5-1.2 0 174.7-487.5 0z"/><path fill="#fdc177" class="l" d="M70 205l0-2.2 25 1.6 17.5 2.1 16 3.5 29 9.2 17.5 4.4 25 4.6 25 3.2 20 1.1 22.5-.2 20-1.5 25-3.7 10 .2 7.5 1.9 15 6.7 5 1 12.5 .2 7.5 1.6 13.2 6.3 21.8 13.3 12.5 5.9 10 3.6 10 2.8 7.5 1.5 10 1.2 7.5 .2 10-.6 10-1.7 7.5-2 12.5-5.4 20-12.3 7.5-3.9 17.5-6.2 10-2 0 168.1-487.5 0z"/><path fill="#fdb468" class="l" d="M70 215l0-.4 5 0 22.2 .4 10.3 .7 10 1.3 10 2.5 22.5 9.1 12.5 3.5 32.5 6 30 3.4 22.5 .9 25-.8 20-2.4 22.5-5.6 7.5-.5 5 .6 5 1.2 12.5 5.1 17.5 3.9 7.5 3 9 5.6 11 9 5 3.4 7.5 3.9 7.5 3.1 12.5 4.3 10 2.7 10 2 10 1.1 7.5 .2 10-.8 10-1.7 10-2.8 7.5-3 5-2.7 22.5-15.1 7.5-4.2 5-1.9 7.5-2 12.5-2 0 161.5-487.5 0z"/><path fill="#faa35c" stroke="#2a2a2a" stroke-opacity=".85" stroke-width=".9" d="M80.2 227.5l22.3 0 12.5 .9 7.5 1.8 12.5 8.3 5 2.2 7.5 2.1 10 1.9 40 5.5 30 2.6 27.5 .2 25-2 10-1.5 8.7-2 13.8-5.6 6.2-1.9 6.3-.8 7.5 .5 10 4.2 10.3 3.6 10.4 5 4.3 3.1 4.8 4.4 10.6 12.5 3.6 2.5 5 2.5 13.5 5 20 5.7 12.5 2.6 12.5 1.4 10 .1 7.5-.7 10-1.9 12.5-3.4 7.5-3.3 7.5-4.5 22.5-17 7.5-4.7 5-1.7 5-.9 12.5-1.3 0 154.6-487.5 0 0-179.6z"/><path fill="#f48c51" class="l" d="M70 245l0-1.5 7.5-.3 12.5 .2 10 1.1 5 1.1 5 1.9 12.5 6.9 5 2.1 10 2.2 35 2.3 37.5 3.3 22.5 1 25-.8 12.5-1.3 12.5-1.8 10-2.2 7.5-2.3 17.5-8 5-1.8 5-.9 5 .2 5 1.7 9.7 4.4 8.1 5 7.2 6.8 12.9 15.7 4.6 3.9 7.5 4.6 12.5 5.2 20 6 17.5 3.7 15 1.6 10-.1 10-1.1 10-2.1 10-3.4 5-2.6 7.5-5.2 20.4-18 9.6-7.3 7.5-3.1 7.5-1.1 7.5-.4 0 146.9-487.5 0z"/><path fill="#ee7546" class="l" d="M324.9 257.5l5.1-.7 5 .8 5 2 4.8 2.9 7.7 7 10.6 13 7 7.5 9.9 7.7 10 5.5 15 6.1 20 6.2 17.5 3.8 15 1.8 12.5 0 10-1.1 10-2.2 7.5-2.9 4.1-2.4 3.4-2.9 19.3-22.1 5.7-5.8 5-4.3 5-3.3 5-2.1 5-1.2 7.5-.6 0 137.3-487.5 0 0-145.4 12.5 .2 10 1.3 10 2.5 20 6.4 15 2.8 12.5 .9 30 .9 32.5 2 20 .3 12.5-.5 12.5-1.2 12.5-1.8 12.5-2.5 17.5-5.1 20-9.1z"/><path fill="#e95e3c" class="l" d="M324.7 275l2.8-.3 5 .5 5 2 2.5 1.6 5 4 14.7 14.7 8.6 7.5 11.7 8.1 12.5 6.7 20 8.4 22.5 7.6 15 3.8 7.5 1.2 7.5 .7 10-.4 10-1.8 10-3.5 7.5-4 7.5-5.4 5-4.7 5.7-6.7 11.8-15.8 7.5-7.9 7.5-5.1 5-1.9 5-1.1 0 124.3-487.5 0 0-123.3 10 0 10 .9 32.5 6.2 17.5 2.2 37.5 1.1 35 1.9 17.5 0 17.5-1.4 20-3.6 20-5.2 30-9.5z"/><path fill="#e34731" class="l" d="M314.1 297.5l10.9-.1 5 .9 5 1.9 5 2.7 5 3.5 15 11.9 10 7.3 10 6.3 12.5 6.7 27.5 12.6 20 8.2 15 4.7 10 1.4 10-.6 10-2.5 12.5-5.5 10-6.2 7.5-5.7 8.1-7.5 6.9-7.5 12.5-15.2 5-5.2 5-4 5-2.9 0 104.8-487.5 0 0-96.7 12.5-.9 10 .2 47.5 5.2 37.5 1.3 37.5 2.6 17.5 0 10-.9 12.5-2.5 12.5-3.9 30-10.9 7.5-2z"/><path fill="#dd3027" stroke="#2a2a2a" stroke-opacity=".85" stroke-width=".9" d="M307.5 322.5l5-1.2 5 .2 5 1 5 1.9 9.9 5.6 15.1 11.3 10 6.8 10 6.1 10 5.3 37.5 17.2 17.5 7.2 17.5 5.7 10 1.7 10-1.2 10-3.1 10-4.5 12.5-7.4 10-7.2 9.4-7.9 23.1-22.9 7.5-6.9 0 77.3-487.5 0 0-54.3 6.6-.7 3.4-1.2 5.2-6.3 7.3-1.3 10-.1 67.5 3.7 28.9 2.7 36.1 5.5 7.5 .5 7.5-.1 5-.8 5-1.6 10-4.9 10-6.7 18.2-14.4 4.3-2.7z"/><path fill="#d7191c" class="l" d="M555 362.5l2.5-2.2 0 47.2-68.5 0 13.5-5.8 15.5-9.2 16.7-12.5zM115.8 387.5l14.2-1 12.5-.2 12.5 .4 15 1.3 22.5 3.4 50 10.2 12.5 1.8 10 .8 12.5 .2 32.5-1.2 32.5 1.7 7.5-.5 20-2.5 12.5-.4 17.5 1.6 24.4 4.4-354.4 0 0-16.6 17.5-.5z"/></g>
<use href="#land"/>
<use href="#dots"/>
<rect x=".9" y="361.29" width="23.2" height="10.51" fill="#2c82c0"/><rect x=".9" y="351.07" width="23.2" height="10.51" fill="#4090bc"/><rect x=".9" y="340.86" width="23.2" height="10.51" fill="#539eb7"/><rect x=".9" y="330.64" width="23.2" height="10.51" fill="#67acb3"/><rect x=".9" y="320.43" width="23.2" height="10.51" fill="#7abaaf"/><rect x=".9" y="310.21" width="23.2" height="10.51" fill="#8ec8aa"/><rect x=".9" y="300.00" width="23.2" height="10.51" fill="#a1d6a6"/><rect x=".9" y="289.78" width="23.2" height="10.51" fill="#b1e0a6"/><rect x=".9" y="279.57" width="23.2" height="10.51" fill="#bee5aa"/><rect x=".9" y="269.35" width="23.2" height="10.51" fill="#cbeaae"/><rect x=".9" y="259.14" width="23.2" height="10.51" fill="#d8efb3"/><rect x=".9" y="248.92" width="23.2" height="10.51" fill="#e5f5b7"/><rect x=".9" y="238.71" width="23.2" height="10.51" fill="#f2fabb"/><rect x=".9" y="228.49" width="23.2" height="10.51" fill="#ffffbf"/><rect x=".9" y="218.28" width="23.2" height="10.51" fill="#fff3b1"/><rect x=".9" y="208.06" width="23.2" height="10.51" fill="#fee6a2"/><rect x=".9" y="197.85" width="23.2" height="10.51" fill="#feda94"/><rect x=".9" y="187.63" width="23.2" height="10.51" fill="#fecd85"/><rect x=".9" y="177.42" width="23.2" height="10.51" fill="#fdc177"/><rect x=".9" y="167.20" width="23.2" height="10.51" fill="#fdb468"/><rect x=".9" y="156.99" width="23.2" height="10.51" fill="#faa35c"/><rect x=".9" y="146.77" width="23.2" height="10.51" fill="#f48c51"/><rect x=".9" y="136.56" width="23.2" height="10.51" fill="#ee7546"/><rect x=".9" y="126.34" width="23.2" height="10.51" fill="#e95e3c"/><rect x=".9" y="116.13" width="23.2" height="10.51" fill="#e34731"/><rect x=".9" y="105.91" width="23.2" height="10.51" fill="#dd3027"/><rect x=".9" y="95.70" width="23.2" height="10.51" fill="#d7191c"/><line x1=".9" x2="24.1" y1="361.29" y2="361.29" stroke="#fff" stroke-opacity="0.35" stroke-width="0.8"/><line x1=".9" x2="24.1" y1="351.07" y2="351.07" stroke="#fff" stroke-opacity="0.35" stroke-width="0.8"/><line x1=".9" x2="24.1" y1="340.86" y2="340.86" stroke="#fff" stroke-opacity="0.35" stroke-width="0.8"/><line x1=".9" x2="24.1" y1="330.64" y2="330.64" stroke="#fff" stroke-opacity="0.35" stroke-width="0.8"/><line x1=".9" x2="24.1" y1="320.43" y2="320.43" stroke="#333" stroke-width="1"/><line x1=".9" x2="24.1" y1="310.21" y2="310.21" stroke="#fff" stroke-opacity="0.35" stroke-width="0.8"/><line x1=".9" x2="24.1" y1="300.00" y2="300.00" stroke="#fff" stroke-opacity="0.35" stroke-width="0.8"/><line x1=".9" x2="24.1" y1="289.78" y2="289.78" stroke="#fff" stroke-opacity="0.35" stroke-width="0.8"/><line x1=".9" x2="24.1" y1="279.57" y2="279.57" stroke="#fff" stroke-opacity="0.35" stroke-width="0.8"/><line x1=".9" x2="24.1" y1="269.35" y2="269.35" stroke="#333" stroke-width="1"/><line x1=".9" x2="24.1" y1="259.14" y2="259.14" stroke="#fff" stroke-opacity="0.35" stroke-width="0.8"/><line x1=".9" x2="24.1" y1="248.92" y2="248.92" stroke="#fff" stroke-opacity="0.35" stroke-width="0.8"/><line x1=".9" x2="24.1" y1="238.71" y2="238.71" stroke="#fff" stroke-opacity="0.35" stroke-width="0.8"/><line x1=".9" x2="24.1" y1="228.49" y2="228.49" stroke="#fff" stroke-opacity="0.35" stroke-width="0.8"/><line x1=".9" x2="24.1" y1="218.28" y2="218.28" stroke="#333" stroke-width="1"/><line x1=".9" x2="24.1" y1="208.06" y2="208.06" stroke="#fff" stroke-opacity="0.35" stroke-width="0.8"/><line x1=".9" x2="24.1" y1="197.85" y2="197.85" stroke="#fff" stroke-opacity="0.35" stroke-width="0.8"/><line x1=".9" x2="24.1" y1="187.63" y2="187.63" stroke="#fff" stroke-opacity="0.35" stroke-width="0.8"/><line x1=".9" x2="24.1" y1="177.42" y2="177.42" stroke="#fff" stroke-opacity="0.35" stroke-width="0.8"/><line x1=".9" x2="24.1" y1="167.20" y2="167.20" stroke="#333" stroke-width="1"/><line x1=".9" x2="24.1" y1="156.99" y2="156.99" stroke="#fff" stroke-opacity="0.35" stroke-width="0.8"/><line x1=".9" x2="24.1" y1="146.77" y2="146.77" stroke="#fff" stroke-opacity="0.35" stroke-width="0.8"/><line x1=".9" x2="24.1" y1="136.56" y2="136.56" stroke="#fff" stroke-opacity="0.35" stroke-width="0.8"/><line x1=".9" x2="24.1" y1="126.34" y2="126.34" stroke="#fff" stroke-opacity="0.35" stroke-width="0.8"/><line x1=".9" x2="24.1" y1="116.13" y2="116.13" stroke="#333" stroke-width="1"/><line x1=".9" x2="24.1" y1="105.91" y2="105.91" stroke="#fff" stroke-opacity="0.35" stroke-width="0.8"/><rect x=".9" y="95.70" width="23.2" height="275.80" fill="none" stroke="#999" stroke-width="0.8"/>
<text x="31.0" y="134.6" font-family="'Liberation Serif','Times New Roman',serif" font-weight="bold" font-size="25">29</text>
<text x="31.0" y="216.4" font-family="'Liberation Serif','Times New Roman',serif" font-weight="bold" font-size="25">21</text>
<text x="31.0" y="298.1" font-family="'Liberation Serif','Times New Roman',serif" font-weight="bold" font-size="25">13</text>
<text x="31.0" y="379.8" font-family="'Liberation Serif','Times New Roman',serif" font-weight="bold" font-size="25">5</text>
<text x="44.5" y="54.0" font-family="'Liberation Serif','Times New Roman',serif" font-weight="bold" font-size="63">E</text>
<text x="261.3" y="51.1" font-family="'Liberation Serif','Times New Roman',serif" font-weight="bold" font-size="24.5" textLength="135" lengthAdjust="spacingAndGlyphs">Nanliu River</text>
<text x="192.8" y="422.6" font-family="'Liberation Serif','Times New Roman',serif" font-weight="bold" font-style="italic" font-size="25" fill="#666" textLength="146.6" lengthAdjust="spacingAndGlyphs">Lianzhou Bay</text>
<text x="1.5" y="466" font-family="'Liberation Serif','Times New Roman',serif" font-weight="bold" font-size="26" textLength="81.8" lengthAdjust="spacingAndGlyphs">Salinity</text>
</g>
</g>
<g transform="translate(765,485.5)">
<g clip-path="url(#fc)">
<rect x="0" y="0" width="559.4" height="473.5" fill="#fff"/>
<g clip-path="url(#dc)"><rect x="60" y="70" width="510" height="350" fill="#2c82c0"/><path fill="#2c82c0" d="M70 80l487.5 0 0 327.5-262.2 0-5-7.5-12.8-16.9-2.5-2.2-2.5-1.4-2.5-.6-2.5-.1-2.5 .7-2.5 1.9-3 3.6-5.5 10-5 12.5-179 0z"/><path fill="#4393bb" class="l" d="M70 80l186.6 0 3.4 3.6 5 3.4 2.5 .9 5 .7 7.5-.9 20-4.8 15.1-2.9 242.4 0 0 327.5-242.4 0-5.1-7.1-4.8-5.4-12.7-11.9-10-10.5-5-3.1-2.5-.8-5-.5-5 1-2.5 1.2-2.5 1.7-2.9 2.9-13.5 20-7.2 12.5-166.4 0z"/><path fill="#5aa3b6" class="l" d="M70 80l175.1 0 4.6 7.5 5.3 6 5.5 4 4.5 1.8 2.5 .4 5-.3 22.5-6.6 17.5-3.1 20-2 57.5-3.8 30-.4 77.5 3.2 60 .5 0 320.3-222.7 0-4.8-8.5-6.2-9-6.3-7.2-7.5-7.1-7.5-5.8-15-10.7-5-2-7.5-1-5 .5-5 1.5-5 2.6-5 4-4.3 5.2-6.1 10-14.6 17.5-6.5 10-153.5 0z"/><path fill="#71b4b1" class="l" d="M70 80l166.8 0 3.2 6.7 2.5 4.2 3.1 4.1 4.4 4.6 5 4 5 2.9 2.5 1 5 .9 5-.8 17.5-6.2 7.5-1.6 10-1.4 12.5-.8 32.5-.6 37.5-1.4 15 0 15 .6 50 4.1 25 1.5 62.5 1.3 0 304.4-204.8 0-6.9-15-8.3-14.7-10-14.5-7.1-8.3-7.9-7-7.5-4.5-7.5-2.6-7.5-.7-10 1-10 2.6-10 4.5-7.5 5.3-6.2 6.4-11.3 15.7-15.1 16.8-5.5 7.5-4.5 7.5-139.9 0z"/><path fill="#88c4ac" class="l" d="M70 80l159.9 0 2.6 6.5 3.1 6 3.5 5 4.6 5 6.3 5.2 7.5 4.4 5 1.8 5 .8 2.5-.3 12.5-4.7 10-2.6 10-1.2 10-.2 37.5 2 37.5-.6 15 .3 17.5 1.5 40 5.2 22.5 2.2 27.5 1.4 47.5 1.1 0 288.7-188.5 0-6.9-17.5-8.5-17.5-9.9-17.5-8.7-12.1-7.5-7.2-9.3-5.7-11.1-5-4.6-1.4-5-.7-5 .3-5 1-16.4 5.8-13.6 6.5-10 6.9-7.5 7.2-13.9 16.9-16.1 17.9-7.5 10.5-6.3 11.6-126.2 0z"/><path fill="#9fd5a7" stroke="#2a2a2a" stroke-opacity=".85" stroke-width=".9" d="M70 80l153.8 0 3.7 9.6 2.7 5.4 3.2 5 4.1 4.6 6.5 5.4 7.6 5 5.9 2.8 5 1.3 5 .2 2.5-.4 12.5-4.2 7.5-1.6 7.5-.5 7.5 .1 10 1 25 4 10 1.1 10 .3 27.5-.6 17.5 1.1 15 2.2 35 6.7 22.5 2.8 22.5 1.2 57.5 1.8 0 273.2-173.4 0-8.3-22.5-8.3-17.9-11.2-19.6-5.4-7.5-4.2-5-8.3-7.5-5.9-3.6-28.2-11.4-4.3-1-5-.2-7.5 .8-7.5 1.9-17.5 6.9-12.5 6.6-10.3 7.5-9.7 9.4-30 33.3-8.5 12.3-4.1 7.5-4.6 10-112.8 0z"/><path fill="#b3e0a6" class="l" d="M70 80l148.3 0 3.7 10 3.3 7.5 3 5 4.2 5 6.3 5 11.2 7.2 5 2.5 5 1.5 7.5 .2 12.5-4 5-1 5-.4 7.5 .3 12.5 2.2 27.5 7.6 12.5 2.3 10 .4 25-1.3 7.5 .3 10 1.2 12.5 2.7 32.5 9 17.5 2.9 17.5 1.3 40 .7 35 1.4 0 258-159.1 0-9.9-27.5-8.9-20-5.6-10-4.8-7.5-5.8-7.5-5.9-6.2-5-4.3-6.6-4.5-10.7-5-32.7-10.7-7.5-1.5-7.5-.4-7.5 .6-7.5 1.6-15 5.5-7.5 3.8-6 3.6-6.5 4.6-6.5 5.4-8.5 8.3-23 24.2-11 12.5-5.3 7.5-4.4 7.5-3.8 7.7-5.2 12.3-99.8 0z"/><path fill="#c2e6ab" class="l" d="M70 80l143.2 0 7.8 20 2.6 5 3.9 5 5 4.1 15 9.8 5 2.8 5 1.9 5 .8 5-.3 5-1.5 7.5-3 2.5-.4 5 0 5 .5 12.5 3.4 27.5 11.5 12.5 4.2 5 1 5 .3 5-.3 20-2.8 7.5-.1 7.5 .9 7.5 1.8 7.5 2.6 27.5 11.2 7.5 2.2 10 1.8 10 .8 10 .2 30-1 15-.1 37.5 2 0 243.2-144.8 0-12.7-35.5-3.9-9.5-4.8-10-5.8-10-5.2-7.5-6.4-7.5-5.2-5-6.2-4.8-5-3.2-5-2.6-7.5-2.9-27.5-6.7-22.5-7.6-7.5-1.6-7.5-.5-7.5 .5-7.5 1.5-7.5 2.4-7.5 3.3-12.5 7.4-7.5 5.8-7.2 6.5-37.3 37.5-10.5 12.2-5.1 7.8-3.9 7.5-8.9 22.5-87.1 0z"/><path fill="#d1ecb0" class="l" d="M70 80l138.4 0 9.1 23.4 2.5 5 2.8 4.1 4.7 4.2 10 6 12.5 8.8 7.5 3.6 2.5 .6 5 .4 5-.7 12.5-3.7 7.5 .8 6.9 2.5 5.2 2.5 17.9 10 10 4.9 10 3.9 10 2.7 2.5 .3 5-.2 22.5-4.4 5-.2 5 .8 6.4 2.2 6.1 2.9 25 16.2 5 2.2 7.5 1.8 10 .8 10-.4 17.5-1.5 22.5-2.8 15-.8 15 .5 27.5 2.4 0 228.7-129.7 0-5-12.5-10.3-30-7.7-17.5-5.6-10-5.1-7.5-6.6-8-7.5-7.2-6.3-4.8-6.2-3.7-5-2.5-7.5-2.7-10-2.4-20-2-7.5-1.4-7.5-2.7-12.5-6.3-7.5-3.1-7.5-1.8-7.5-.6-10 1.2-10 2.9-10 4.4-10 6-12.5 10.1-30 29.7-21.8 19.9-8.2 9.1-5.3 8.4-3.3 7.5-9.5 27.5-74.4 0z"/><path fill="#e0f3b5" class="l" d="M70 80l133.8 0 11.2 28 2.5 5.1 2.5 3.6 5 4.1 11.3 6.7 13.7 11.6 5 3.4 5 2.2 5 .9 5 .2 10-.7 7.5 1.1 7.5 3.5 12.5 7.8 7.5 3.8 10 3.6 10 2.6 10 1.9 7.5 .8 25 0 5 .7 5 1.4 5.3 2.7 6.6 5 4.9 5 10.8 12.5 4.9 3.3 5 1.7 7.5 .7 10-.9 50-10.9 17.5-2.5 15 .1 32.5 3.7 0 214.8-112.1 0-3.1-5-3.4-7.5-11.9-35-5.2-12.5-5-10-5.9-10-5.9-8.3-7.5-8.7-7.5-7-7.5-5.5-7.5-4.1-7.5-3.2-7.5-2.2-7.5-1.4-7.5-.6-20 1.2-5-.1-2.5-.5-3.9-2.1-13.6-11-5-3.2-7.5-2.8-10-1-10 1-12.5 3.7-12.5 5.6-12.5 7.6-10 8.2-26.9 26.9-10.6 9.8-7.5 6.1-18.9 14.1-5.6 5-4.2 5-3.7 7.5-4.8 22.5-2.8 8.8-3.6 8.7-61.4 0z"/><path fill="#f0f9ba" stroke="#2a2a2a" stroke-opacity=".85" stroke-width=".9" d="M70 80l129.3 0 13.2 31.6 2.5 5 2.3 3.4 2.7 2.5 14.4 10 5 5 10.6 11.9 5 4.5 7.5 3.9 20 7.1 15 8.2 5 2.3 7.5 1.7 15 2.5 30 2.8 12.5 2.6 10 3.3 5 2.7 5 4 20 21.6 5 3.5 7.5 2.9 7.5 .7 12.5-2.2 15-4.3 32.5-11 10-2.7 10-1.9 7.5-.6 10 .5 32.5 4.4 0 201.6-68.8 0-8.7-9.5-4.1-3-3.4-1-5-.3-3.7-1.2-2.6-2.5-3-5-7.1-15-18.7-37.5-9.9-17.4-5.2-7.6-6-7.5-6.3-6.7-7.5-7-10-7.3-7.5-4-7.5-3-36.8-12-13.2-1.9-15-6.4-5-1.6-2.5-.3-20 1.5-12.5 2.2-7.5 2.6-7.5 3.2-15 8.1-10 6.4-8.2 6.2-29.3 28.9-15 13.2-10 6.9-23.3 13.5-6.8 5-4.9 5-2.5 4.2-1.1 3.3-.3 2.5 1.4 12.5-.2 5-.8 5-3.2 10-6.6 12.5-46.7 0z"/><path fill="#ffffbf" class="l" d="M70 80l124.8 0 15.2 34.1 3.1 5.9 4.4 5.1 9.2 7.4 5.4 5 6 7.5 9.4 13.4 5 5.6 5 4.6 7.5 5.6 7.5 4.6 10 4.9 10 4 30 9.3 7.5 1.7 17.5 2.3 7.5 2.2 5 2.3 5 3.3 2.5 2.3 3.3 3.9 1.5 2.5 1.1 2.5 1.2 5-.3 5-.9 2.5-3.4 4.6-3.7 2.9-6.3 2.8-7.5 1.6-7.5 .1-7.5-1.1-7.5-2.3-15-6.2-7.5-1-25 2.3-12.5 2-10 3.4-10 5.1-17.5 11.5-15 11.3-7.5 6.6-25 23.9-15 12.1-12.5 7.6-21.5 10.3-8.5 4.5-5 3.3-5.4 4.7-3.7 5-2 5-.5 2.5 .6 7.5 3.5 12.5-.9 5-2.1 5-4.4 7.5-11.7 15-25.9 0zM505.7 215l9.3-1.1 10 .2 32.5 4.9 0 188.5-36.9 0-18.1-21.6-10-10.8-10-9.3-12.5-9.4-7.5-6.6-6.2-7.3-6.3-10-4.9-10-8.4-20-4.2-8.3-4.6-6.7-10.2-12.5-3.5-5-2.8-5-1.7-5-.2-5 .8-2.5 1.6-2.5 2.7-2.5 4.2-2.5 11.2-4 20-4.2 7.5-2.3 7.5-3 24.2-11.5 8.3-2.9z"/><path fill="#fff0ae" class="l" d="M70 80l120.3 0 18 37.5 2.9 5 3.8 4.7 10.5 10.3 5.9 7.5 16.1 28.4 12.5 18.5 10 11.5 7.5 6.3 1.7 .3-2.8 2.5-3.9 1.4-7.5 4.4-10 7.5-42.5 36.2-27.5 25.3-15 11.8-7.5 4.9-10 5.4-31.7 13.1-10.6 5-12.2 7.5-9.5 7.5-5.1 5-3.2 5-1.7 7.5-.6 12.5-1 7.5-2.4 7.5-4.5 8.9zM282.5 210l5-.4 3.9 .4 3.6 2.3 0 .8-1.1 1.9-1.4 .4-4.7-.4-6.6-2.5zM336.4 215l3.6-.9 5-.2 5 1.1 4.6 2.5 2.5 2.5 1.4 2.5 .5 2.5-.2 2.5-1 2.5-2.2 2.5-3.1 2-5 1.4-2.5 .1-5-.7-6-2.8-2.8-2.5-1.7-2.5-.9-2.5 0-2.5 .9-2.5 2.2-2.5zM510.2 227.5l7.3-.8 7.5 .3 32.5 5.5 0 175-6.4 0-16.1-14.2-34.7-33.3-9.3-7.5-13.5-9-5-4.1-5-5.3-4.5-6.6-2.4-5-2.5-7.5-1.4-7.5-.3-5 1-10 2.4-7.5 5-10 2.9-12.5 3.2-7.5 3.4-5 4.4-5 8.8-7.5 7.5-4.7 5-2.3z"/><path fill="#fee29d" class="l" d="M70 80l115.7 0 9.3 17.1 12.8 25.4 3.5 5 12.6 15 5.7 10 5 12.5 4.9 15 2.5 10 1.3 10-.5 7.5-2.2 7.5-3.9 7.5-5.3 7.5-9 10-12.8 12.5-19.6 18.3-12.5 10.5-12.5 8.8-12.5 7-15 6.4-32.5 11-10 4.1-12.9 6.4-7.1 4.6-5 3.9zM507.5 242.5l7.5-2.2 7.5-.2 7.5 1.1 27.5 5.6 0 139.3-20-13.4-29.8-22.7-23.6-15-4.1-3.6-3.4-3.9-3.1-5-2-5-1.1-5-.3-5 .5-5 1.1-5 2.9-7.5 10.4-22.4 5-9 5-6.6 5-4.8z"/><path fill="#fed38c" class="l" d="M70 80l110.8 0 14.2 24 11.2 21 11 15 5.6 10 3.6 10 2.4 10 1.3 10 .3 10-.6 10-2 10-2.8 7.5-4.2 7.5-7.7 10-11.8 12.5-12.8 12.5-11 9.1-15.8 10.9-9.2 5.1-7.5 3.5-17.5 6.5-40 12-10 3.9-7.5 3.8zM517.2 257.5l5.3-.5 5 .3 30 4.7 0 102.2-17.5-8-10-5.5-20-12.2-17.5-8.7-5.8-4.8-2-2.5-2.7-5-.8-2.5-.6-5 1.1-7.5 2.9-7.5 5.4-10.3 7.5-11.1 7.5-8.5 7.5-5.8z"/><path fill="#fec47b" stroke="#2a2a2a" stroke-opacity=".85" stroke-width=".9" d="M70 80l105.7 0 19.3 30 9.8 17.5 6.8 10 4 7.5 3 7.5 2 7.5 1 7.5 .4 7.5-.7 10-2.6 15-3 10-3.3 7.5-4.9 7.5-6.2 7.5-13.8 14.6-8.5 7.9-10 7.5-11.5 7.5-9.2 5-8.3 3.7-15 5.2-40 10.1-15 5.1zM515 277.5l7.5-1.6 17.5-.4 10 1.1 7.5 1.8 0 65.9-12.5-2.2-15-5-20-9.1-10-3.3-5-3.1-3.5-4.1-1.8-5 .1-5 1.6-5 4.1-7.5 4.5-6.5 5-4.9 5-3.7z"/><path fill="#fdb56a" class="l" d="M70 80l100.2 0 9.8 13.3 17.5 25.7 10.4 18.5 3.4 7.5 2.3 7.5 1.3 7.5 .4 7.5-.9 10-2.9 12.5-4 11.7-5 10.1-5 7.2-7.5 8.6-10 9.9-10 8.7-19 13.8-8.5 4.9-7.5 3.4-12.5 3.8-37.5 7.9-15 4.1zM515.6 290l4.4-1.3 5-.6 10 .6 7.5 1.9 4.5 1.9 4.2 2.5 3 2.5 3.3 3.8 0 17.5-2.5 2.3-5 2.6-5 1.4-7.5 .5-5-.4-7.5-1.4-17.5-4.5-5-1.9-2.9-2.4-1.3-2.5-.4-2.5 1.4-5 3.2-5 4.8-5 3.4-2.5z"/><path fill="#faa05b" class="l" d="M70 80l94 0 13.5 16.5 17.5 23.2 3.5 5.3 5 10 2.9 7.5 2 7.5 1 10-.5 7.5-2 10-2.5 7.5-4.4 9.6-5 8.2-5 6.3-5 5.1-7.5 6.4-23.4 16.9-16.6 13.9-6 3.6-8.9 2.5-15.1 2.2-12.5 2.4-25 6.6zM522.4 305l3 0-.4 .9z"/><path fill="#f3854e" class="l" d="M70 80l87.1 0 15.4 16.9 23.3 28.1 2.8 5 3.5 10 1.5 7.5 .4 7.5-.3 5-1.4 7.5-2.4 7.5-3.5 7.5-3.9 6.3-5 6.3-5 4.8-5 3.9-7.5 4.4-7.5 3.4-20 7.9-20 6.7-6.5 3.8-8.5 6-7.5 4.3-10.8 4.7-19.2 7z"/><path fill="#ec6a42" class="l" d="M70 80l78.9 0 18.6 18 17.1 19.5 7.9 7.3 2.5 3.3 1.9 4.4 1.6 7.5 .6 7.5-.5 7.5-1 5-2.5 7.5-2.6 5.3-2.9 4.7-4.6 5.8-7.5 6.6-7.5 4.4-5 2-17.5 5.4-30.4 10.8-11.2 5-20.9 10.4-15 6.6z"/><path fill="#e54f35" stroke="#2a2a2a" stroke-opacity=".85" stroke-width=".9" d="M70 80l68.8 0 23.7 20.2 10 9.7 10 11.2 7.5 5.7 2.9 3.2 1.2 5 .4 5-.8 10-1.2 5-1.9 5-3.1 5.8-2.8 4.2-7.2 7.5-5 3.6-5 2.5-7.5 2.5-15 3.3-10 4-25 8-40 15.8z"/><path fill="#de3429" class="l" d="M70 80l55.7 0 6.8 4.8 17.5 12.8 12.5 10.1 7.5 6.8 9.7 10.5 6.4 5 2.2 2.5 .8 5-1.5 10-2.6 6.9-3.4 5.6-4.1 5-5 4.4-5 3.1-5 2.2-7.5 2.1-14.5 3.2-36.5 10-34 10.7z"/><path fill="#d7191c" class="l" d="M70 80l37.1 0 25.4 15.4 15 9.8 10 7.2 6.1 5.1 6.4 6.7 6.8 8.3 2.2 5 .2 5-1.3 5-2.7 5-2.7 3.3-5 4.5-5 3-5 2.1-8.3 2.1-54.2 10.6-25 5.8z"/></g>
<use href="#land"/>
<use href="#dots"/>
<rect x=".9" y="361.80" width="23.2" height="12.30" fill="#2c82c0"/><rect x=".9" y="349.80" width="23.2" height="12.30" fill="#4393bb"/><rect x=".9" y="337.80" width="23.2" height="12.30" fill="#5aa3b6"/><rect x=".9" y="325.80" width="23.2" height="12.30" fill="#71b4b1"/><rect x=".9" y="313.80" width="23.2" height="12.30" fill="#88c4ac"/><rect x=".9" y="301.80" width="23.2" height="12.30" fill="#9fd5a7"/><rect x=".9" y="289.80" width="23.2" height="12.30" fill="#b3e0a6"/><rect x=".9" y="277.80" width="23.2" height="12.30" fill="#c2e6ab"/><rect x=".9" y="265.80" width="23.2" height="12.30" fill="#d1ecb0"/><rect x=".9" y="253.80" width="23.2" height="12.30" fill="#e0f3b5"/><rect x=".9" y="241.80" width="23.2" height="12.30" fill="#f0f9ba"/><rect x=".9" y="229.80" width="23.2" height="12.30" fill="#ffffbf"/><rect x=".9" y="217.80" width="23.2" height="12.30" fill="#fff0ae"/><rect x=".9" y="205.80" width="23.2" height="12.30" fill="#fee29d"/><rect x=".9" y="193.80" width="23.2" height="12.30" fill="#fed38c"/><rect x=".9" y="181.80" width="23.2" height="12.30" fill="#fec47b"/><rect x=".9" y="169.80" width="23.2" height="12.30" fill="#fdb56a"/><rect x=".9" y="157.80" width="23.2" height="12.30" fill="#faa05b"/><rect x=".9" y="145.80" width="23.2" height="12.30" fill="#f3854e"/><rect x=".9" y="133.80" width="23.2" height="12.30" fill="#ec6a42"/><rect x=".9" y="121.80" width="23.2" height="12.30" fill="#e54f35"/><rect x=".9" y="109.80" width="23.2" height="12.30" fill="#de3429"/><rect x=".9" y="97.80" width="23.2" height="12.30" fill="#d7191c"/><line x1=".9" x2="24.1" y1="361.80" y2="361.80" stroke="#fff" stroke-opacity="0.35" stroke-width="0.8"/><line x1=".9" x2="24.1" y1="349.80" y2="349.80" stroke="#fff" stroke-opacity="0.35" stroke-width="0.8"/><line x1=".9" x2="24.1" y1="337.80" y2="337.80" stroke="#fff" stroke-opacity="0.35" stroke-width="0.8"/><line x1=".9" x2="24.1" y1="325.80" y2="325.80" stroke="#fff" stroke-opacity="0.35" stroke-width="0.8"/><line x1=".9" x2="24.1" y1="313.80" y2="313.80" stroke="#333" stroke-width="1"/><line x1=".9" x2="24.1" y1="301.80" y2="301.80" stroke="#fff" stroke-opacity="0.35" stroke-width="0.8"/><line x1=".9" x2="24.1" y1="289.80" y2="289.80" stroke="#fff" stroke-opacity="0.35" stroke-width="0.8"/><line x1=".9" x2="24.1" y1="277.80" y2="277.80" stroke="#fff" stroke-opacity="0.35" stroke-width="0.8"/><line x1=".9" x2="24.1" y1="265.80" y2="265.80" stroke="#fff" stroke-opacity="0.35" stroke-width="0.8"/><line x1=".9" x2="24.1" y1="253.80" y2="253.80" stroke="#333" stroke-width="1"/><line x1=".9" x2="24.1" y1="241.80" y2="241.80" stroke="#fff" stroke-opacity="0.35" stroke-width="0.8"/><line x1=".9" x2="24.1" y1="229.80" y2="229.80" stroke="#fff" stroke-opacity="0.35" stroke-width="0.8"/><line x1=".9" x2="24.1" y1="217.80" y2="217.80" stroke="#fff" stroke-opacity="0.35" stroke-width="0.8"/><line x1=".9" x2="24.1" y1="205.80" y2="205.80" stroke="#fff" stroke-opacity="0.35" stroke-width="0.8"/><line x1=".9" x2="24.1" y1="193.80" y2="193.80" stroke="#333" stroke-width="1"/><line x1=".9" x2="24.1" y1="181.80" y2="181.80" stroke="#fff" stroke-opacity="0.35" stroke-width="0.8"/><line x1=".9" x2="24.1" y1="169.80" y2="169.80" stroke="#fff" stroke-opacity="0.35" stroke-width="0.8"/><line x1=".9" x2="24.1" y1="157.80" y2="157.80" stroke="#fff" stroke-opacity="0.35" stroke-width="0.8"/><line x1=".9" x2="24.1" y1="145.80" y2="145.80" stroke="#fff" stroke-opacity="0.35" stroke-width="0.8"/><line x1=".9" x2="24.1" y1="133.80" y2="133.80" stroke="#333" stroke-width="1"/><line x1=".9" x2="24.1" y1="121.80" y2="121.80" stroke="#fff" stroke-opacity="0.35" stroke-width="0.8"/><line x1=".9" x2="24.1" y1="109.80" y2="109.80" stroke="#fff" stroke-opacity="0.35" stroke-width="0.8"/><rect x=".9" y="97.80" width="23.2" height="276.00" fill="none" stroke="#999" stroke-width="0.8"/>
<text x="30.5" y="130.1" font-family="'Liberation Serif','Times New Roman',serif" font-weight="bold" font-size="25">26.45</text>
<text x="30.5" y="214.1" font-family="'Liberation Serif','Times New Roman',serif" font-weight="bold" font-size="25">26.1</text>
<text x="30.5" y="298.1" font-family="'Liberation Serif','Times New Roman',serif" font-weight="bold" font-size="25">25.75</text>
<text x="30.5" y="382.1" font-family="'Liberation Serif','Times New Roman',serif" font-weight="bold" font-size="25">25.4</text>
<text x="43.0" y="53.3" font-family="'Liberation Serif','Times New Roman',serif" font-weight="bold" font-size="63">F</text>
<text x="261.3" y="51.1" font-family="'Liberation Serif','Times New Roman',serif" font-weight="bold" font-size="24.5" textLength="135" lengthAdjust="spacingAndGlyphs">Nanliu River</text>
<text x="192.8" y="422.6" font-family="'Liberation Serif','Times New Roman',serif" font-weight="bold" font-style="italic" font-size="25" fill="#666" textLength="146.6" lengthAdjust="spacingAndGlyphs">Lianzhou Bay</text>
<text x="2.6" y="463" font-family="'Liberation Serif','Times New Roman',serif" font-weight="bold" font-size="26" textLength="160.8" lengthAdjust="spacingAndGlyphs">Temperature (°C)</text>
<text transform="translate(365.6,279.7) rotate(21.4)" font-family="'Liberation Serif','Times New Roman',serif" font-weight="bold" font-size="24" text-anchor="middle">25.9</text>
</g>
</g>
<g transform="translate(1324,485.5)">
<g clip-path="url(#fc)">
<rect x="0" y="0" width="559.4" height="473.5" fill="#fff"/>
<g clip-path="url(#dc)"><rect x="60" y="70" width="510" height="350" fill="#2c82c0"/><path fill="#2c82c0" d="M70 80l310.7 0 26.8 6 47.5 8.7 17.5 4.1 12.5 3.9 10 3.8 10 4.7 10.7 6.3 6.9 5 7.4 6.4 5.8 6.1 5.9 7.5 4.6 7.5 3.6 7.5 2.7 7.5 2.2 10 1 12.5-.7 20 .5 5 1.9 6.8 0 188.2-487.5 0z"/><path fill="#4292bb" class="l" d="M70 80l202.4 0 5.1 3.3 5 1.2 5-.4 15-2.4 7.5-.8 10-.2 10 .7 10 1.5 10 2.2 32.5 9.2 15 3.6 52.5 9 20 4.3 12.5 3.7 10 3.7 10 4.7 10 6.1 10 8 7.1 7.6 5.4 7.5 5.1 10 3.1 10 1.1 10-.4 7.5-3.3 15-.2 5 .3 2.5 3.1 7.5 8.5 15 1.9 2.5 3.3 2.8 0 167.2-487.5 0z"/><path fill="#58a2b6" class="l" d="M70 80l180.9 0 6.6 4.7 4.7 5.3 2.6 5 2.7 7.6 2.5 3.2 2.5 .6 2.5-.7 15-8.3 5-2.1 7.5-2.2 12.5-1.5 7.5 .1 7.5 .8 7.5 1.4 10 2.6 30 10.2 15 4.1 15 2.8 40 6 24.6 5.4 10.4 3.2 10 3.9 7.5 3.8 6.6 4.1 8.4 6.6 7.8 8.4 4.8 7.5 2.4 5 1.7 5 1.3 7.5-.3 7.5-1.3 5-4.6 10-1.4 5 .1 5 1.7 5 3.6 5 9.9 10 5.1 10 4.2 3.3 7.5 3 0 158.7-487.5 0z"/><path fill="#6eb1b1" class="l" d="M70 80l31.9 0 23.1 8 17.5 5.3 15 3.5 10 1.1 5 0 7.5-1 22.5-5.9 12.5-2.2 12.5-.5 10 1.1 7.5 2.1 5 2.5 2.5 1.7 2.5 2.5 1.1 1.8 2.8 7.5 1.7 2.5 1.9 1.9 2.5 1.5 5 1.2 2.5-.2 5-1.4 15-7.4 10-3.2 10-1.2 12.5 .9 7.5 1.5 10 3 32.5 13.1 12.5 3.8 10 1.9 42.5 6.1 17.3 3.5 12.7 3.2 10 3.2 7.5 2.9 6.5 3.2 6 3.6 7.5 6 5 5.4 5 7.5 3 7.5 .9 5 0 5-1.4 4.3-4.1 8.2-1.7 7.5 .7 7.5 2.6 6.3 2.7 3.7 12.3 10 2.5 3 4.1 7 2.2 2.5 4.2 2.5 12 4.4 0 153.1-487.5 0z"/><path fill="#84c1ad" class="l" d="M70 85l75.3 27.5 17.2 5.5 12.5 2.8 5 .2 5-.8 5-1.9 15-7.9 7.5-2.1 7.5-.9 10 .1 7.5 1.6 5 2.3 12.5 8 5 1.8 5 .8 5-.2 5-1.2 15-6.7 10-2.9 10-1 10 .9 7.5 1.7 10 3.5 10 4.4 20 10 11.7 4.5 10.8 2.2 32.5 3.6 17.5 3.6 17.5 4.8 15 4.9 10 4 7.5 4.2 5 3.8 3.8 3.9 1.9 2.5 2.5 5 .8 2.5 .5 5-2 12.5 .3 7.5 3.4 10 5.3 10 4.5 5 9 5.5 5 4 8.1 10.5 4.4 2.7 15 6.1 0 148.7-487.5 0z"/><path fill="#9ad1a8" stroke="#2a2a2a" stroke-opacity=".85" stroke-width=".9" d="M70 102.5l0-2 45.4 17 28.5 10 28.6 9.1 5 1.3 5 .6 10-1.1 20-6.6 10-1.7 10 0 22.5 2 10-.4 10-2.6 12.5-6.2 5-1.7 10-1.6 10 .5 10 2.4 10 3.8 10 4.9 22.5 12.4 10 4.3 5 1.2 5 .6 17.5 .7 10 .9 15 3 10 3.1 12.5 4.9 12.7 6.2 8.4 5 6.8 5 2.7 2.5 2 2.5 .9 2.5-.1 2.5-3.4 6.9-.6 3.1 .4 2.5 2 2.5 8.2 5.4 5 4.3 12 15.3 4.7 5 3.8 2.5 7 3.5 5 3.4 10 10.9 7.5 4.2 12.5 5.8 0 144.7-487.5 0z"/><path fill="#afdea5" class="l" d="M70 117.5l0-1.8 42.5 15.1 30 9.2 25 6 10 1.7 7.5 .7 12.5-.3 25-3.3 35-3.1 7.5-1.5 7.5-2.2 20-8.5 7.5-1.2 7.5 .3 10 2.3 10 3.9 12.5 6.2 25 13.8 7.5 3.1 7.5 1.3 20-.6 12.5 1.3 7.5 1.8 7.5 2.6 7.5 3.2 9.4 5 8.1 5.6 6.8 6.9 3.3 5 6.5 12.5 4.3 5 4.1 2.8 10 5.4 5 3.5 16.7 15.8 3.3 2.2 12.5 6.4 5 4.2 4.3 4.7 3.2 2.7 7.5 4.8 12.5 6.7 0 140.8-487.5 0z"/><path fill="#bde4aa" class="l" d="M70 132.5l0-2.3 40 13.2 15 4.2 15 3.5 17.5 2.9 40 4.1 10 0 12.5-.6 27.5-2.9 17.5-3.7 27.5-9.3 7.5-1.2 7.5 .4 7.5 1.7 10 3.6 34.5 16.4 10.5 4 7.5 1.1 20-1 10 .9 5 1.2 7.5 2.6 12.5 6.2 10 6.1 5 3.9 5 4.8 12.9 15.2 5.9 5 18.7 11.4 17.5 13.8 17.5 8.9 5 3.9 10 9 7.5 5.1 10 5.9 0 137-487.5 0z"/><path fill="#cceaaf" class="l" d="M70 145l0-.9 37.5 11.3 15 3.8 12.5 2.5 17.5 2.1 22.5 .6 20 3.3 12.5 1.2 17.5-.1 20-2 17.5-3.5 30-8.3 7.5-.9 7.5 .3 7.5 1.3 7.5 2.1 32.4 12.2 10.1 3.1 10 1.4 20-.8 7.5 .5 5 1.2 5 1.7 10 4.9 12.5 7 7.5 5 17.8 16 10.1 7.5 19.6 11.9 17.5 11.8 15 6.7 5 2.9 15 13.3 15 10.4 0 133-487.5 0z"/><path fill="#daf0b3" class="l" d="M70 160l0-2.4 37.5 10.3 15 3.3 12.5 2.2 12.5 1.3 27.5 .6 22.5 3.6 10 1 17.5 .3 20-1.7 17.5-2.9 27.5-6.5 7.5-1.1 7.5-.3 7.5 .6 10 1.8 30 7.9 10 2.2 12.5 1.1 17.5-.9 5 .1 7.5 1.7 5 2.3 10 6 17.5 8.9 17.2 13.1 7.3 5 15.5 9.8 26.1 15.2 6.4 3.2 12.5 4.7 5 2.7 2.7 1.9 7.3 7.7 5 4.5 15 11.4 0 128.9-487.5 0z"/><path fill="#e9f6b8" stroke="#2a2a2a" stroke-opacity=".85" stroke-width=".9" d="M70 172.5l0-1.6 37.5 9.4 30 5.4 10 1 27.5 1 32.5 3.8 17.5 .2 20-1.5 20-2.9 27.5-5.7 15-1.2 15 1 40 6.4 12.5 .6 20-.8 5 .8 2.5 1.1 15 9.7 15.2 5.8 19.1 12.5 29.9 17.5 23.3 11.9 17.5 6 5 2.4 2.7 2.2 7.3 8.4 5 4.8 15 12.3 0 124.5-487.5 0z"/><path fill="#f8fcbd" class="l" d="M70 185l0-1 37.5 8.6 30 5.2 70 5.6 17.5 0 20-1.6 20-2.9 30-5.7 17.5-1.5 17.5 .6 37.5 3.6 22.5 .3 5 .7 5 1.7 12.5 7.1 20 8.2 42.5 23.2 7.5 3.7 22.5 9.9 15 4.1 6.7 2.7 2.8 2.5 10.5 12.1 17.5 15.6 0 119.8-487.5 0z"/><path fill="#fff8b7" class="l" d="M70 197.5l0-.4 42.5 8.9 27.5 4.5 40 3.8 25 1.5 20-.4 20-1.9 17.5-2.7 35-6.7 20-2.1 12.5-.3 12.5 .4 45 3.5 10 2.6 30 12.6 30 13.9 17.5 8.7 12.5 5.2 15 5.5 20 4.6 2.5 1.2 2.5 2 12.5 14.3 17.5 16.6 0 114.7-487.5 0z"/><path fill="#feeaa6" class="l" d="M70 212.5l0-2.1 45 8.7 42.5 6.8 25 2.4 20 .8 20-.7 20-2.4 17.5-3.1 37.5-8.1 22.5-3.2 12.5-.8 10-.2 26 1.9 16.5 2.4 12.5 3.5 55 22.2 25 10.6 15 5.4 10 2.4 15 2.1 4.6 1.4 2.9 1.8 2.5 2.4 12.5 14.3 17.5 17.5 0 109-487.5 0z"/><path fill="#fedc96" class="l" d="M329.5 220l13-.8 12.5 .5 15 2 15 3.1 15 4.8 32.6 12.9 54.9 19.6 10 2.3 17.5 .8 5 1.4 5 3.3 32.5 35 0 102.6-487.5 0 0-183.6 90 17 20 2.2 20 .6 17.5-.9 20-2.8 20-4.4 37.5-9.8 17.5-3.3z"/><path fill="#fece86" stroke="#2a2a2a" stroke-opacity=".85" stroke-width=".9" d="M323.8 230l13.7-1.8 10-.2 10 .9 12.5 2.2 20 5.4 41.7 16 23.3 6.7 32.5 10.5 5 1.2 5 .6 12.5-.9 5 .4 4.5 1.5 3 1.8 7.5 7 27.5 30.9 0 95.3-487.5 0 0-169.5 47.5 8.9 32.5 8.2 12.5 2.7 20 2.5 17.5 .4 15-1.2 15-2.8 17.5-5 45-15 12.5-3.1z"/><path fill="#fdc075" class="l" d="M334.9 237.5l7.6-.4 7.5 .3 16 2.6 21.5 6.3 40 14.9 50.9 13.8 14.1 2.8 20-.3 5 1.2 5 2.8 5 4.3 10 10.7 20 24.4 0 86.6-284.6 0 2.4-2.5 3.4-5 2.4-5 1.5-5 .8-5 0-5-.9-4.5-1.2-3-1.3-2.5-4.2-5-3.3-3-5-3.4-5-2.7-7.5-2.9-5-1.3-5-.5-5 .4-2.5 .8-5 3-2.5 2.7-2.5 4.3-2.5 8.2-.8 6.9 0 5 .6 5 1.2 5 3.3 7.5 3.2 4.5 2.9 3-165.4 0 0-154.7 27.5 5.5 17.5 4.1 40 12.5 17.5 4.7 17.5 3.4 7.5 .7 7.5 .1 10-1.4 10-3.2 10-4.6 33.1-17.1 14.4-6.5 10-3.9 10-3.2 10-2.5 12.5-2.5z"/><path fill="#fdb265" class="l" d="M328.3 247.5l14.2-.9 7.5 .5 7.5 1.2 15.4 4.2 39.6 14.4 20 5.9 37.5 8.6 12.5 2.4 10 1 15-.3 5 .5 5 1.5 5 2.9 7.5 6.7 8 8.9 9.6 12.5 9.9 14.2 0 75.8-264.4 0 2.4-10 1.6-12.5-.1-5-.8-5-2.6-7.5-3.6-6.5-5-6.4-7.5-7.6-16-14.5-8.9-10-4.3-7.5-1.5-5-.4-5 .8-5 1.7-5 2.7-5 5.7-7.5 7.8-7.5 10.1-7.5 12.3-7.1 12.5-5.5 15-4.7zM70 270l0-1.3 25 5.7 15 4.5 15 5.7 16.7 7.9 13.9 7.5 12 7.5 6.4 5 2.4 2.5 4.8 7.5 2.6 7.5 1.2 7.5 2.3 22.5 2 10 2.6 10 5 15 6.2 12.5-133.1 0z"/><path fill="#f89b58" class="l" d="M325.6 257.5l11.9-1.1 12.5 1.1 7.5 1.8 7.5 2.3 37.5 14 25 6.9 27.5 5.5 20 3.2 12.5 1.1 17.5 0 5 .4 5 1.2 5 2.4 7.5 6 8.8 10.2 8.6 12.5 12.6 20.8 0 61.7-246.9 0 1.5-12.5-.1-10-1.6-10-2.5-7.5-3.6-7.5-5-7.5-17.1-20-7.3-10-2.6-5-1.9-5-1-5-.1-5 1.4-7.5 3.7-7.5 5.6-7 6-5.5 9-6.1 10-5 10-3.8zM70 287.5l0-1.5 15 3.8 12.5 4.2 10 4.3 7.7 4.2 7.6 5 7.2 5.8 6.5 6.7 5.4 7.5 4.9 10 3.1 10 4.8 22.5 2.6 7.5 6.8 12.5 10.9 17.5-105 0z"/><path fill="#f1814c" class="l" d="M329 267.5l6-.4 5 .3 10 2.1 8.1 3 16.9 7.9 10 3.9 12.5 3.7 17.5 3.9 27.5 5 25 3.4 15 .9 25 .1 7.5 1.8 5 2.6 2.5 1.9 5 4.9 7.1 10 7.2 12.5 15.7 30.3 0 42.2-228 0 .6-10-.9-12.5-2.3-10-3.6-10-3.9-7.5-4.9-7.5-17.2-20-5.4-7.5-2.8-5-1.9-5-1.2-7.5 1-7.5 2.1-5 3.3-5 4.8-5 6.8-5 9-5 7-2.8zM70 307.5l0-1.9 6.8 1.9 10.7 3.8 7.5 3.6 5 3.1 6.1 4.5 5.4 5 3.5 4 5.9 8.5 5.4 10 4.4 10 10.8 27.5 4.9 10 5.5 10-81.9 0z"/><path fill="#eb6740" stroke="#2a2a2a" stroke-opacity=".85" stroke-width=".9" d="M325 282.5l5-1.8 2.5-.2 5 .6 4.3 1.4 9.2 5 11.5 8.5 5 3 5 1.8 7.5 1.7 80 9.3 17.5 .7 27.5-.4 5 .4 5 1.5 2.5 1.6 4.3 4.4 6.4 10 5 10 15.7 35 8.6 16.9 0 15.6-207.8 0 .7-12.5-1.3-12.5-3-12.5-4.7-12.5-4-7.5-5.4-7.5-4.5-5-12.5-11.7-5.5-5.8-2-2.7-2.5-4.8-1.3-5-.1-5 .6-2.5 3.3-5 5.8-5zM70 332.5l0-2.2 10 4 8.1 5.7 9.4 5.6 5 4.5 10.8 14.9 3 5 16.3 37.5-62.6 0z"/><path fill="#e44d34" class="l" d="M401.8 325l8.2-1 12.5 .1 42.5 4.3 10 .3 22.5-.2 5 .6 5 1.6 2.5 1.6 2.5 2.4 5 7.5 16.1 37.8 14.2 27.5-177.1 0 1.2-12.5 1.7-32.5 1.1-7.5 3.1-12.5 2.5-5 4.7-5.1 7.5-4.5zM70 362.5l0-1.7 7.5 2 12.5 1.4 2.5 1.3 2.1 2 3.7 5 4.1 7.5 11.5 27.5-43.9 0z"/><path fill="#de3328" class="l" d="M427.5 350l7.5 0 7.5 1.2 7.5 2.3 8.1 4 6.5 5 9.2 10 3.2 2.5 18 6 7.5 4.6 5 4.3 5 5.3 9.6 12.3-127.7 0 5.4-27.5 2.7-8.7 2.8-6.3 4.7-6.9 5-4.2 5-2.4zM70 385l0-1.2 5 2.7 4.7 3.5 2.5 2.5 5.3 7.2 4.5 7.8-22 0z"/><path fill="#d7191c" class="l" d="M440.8 400l4.2-.8 7.5 1.1 5 2.1 8.5 5.1-34.3 0 4.5-5z"/></g>
<use href="#land"/>
<use href="#dots"/>
<rect x=".9" y="367.38" width="23.2" height="11.83" fill="#2c82c0"/><rect x=".9" y="355.85" width="23.2" height="11.83" fill="#4292bb"/><rect x=".9" y="344.32" width="23.2" height="11.83" fill="#58a2b6"/><rect x=".9" y="332.80" width="23.2" height="11.83" fill="#6eb1b1"/><rect x=".9" y="321.27" width="23.2" height="11.83" fill="#84c1ad"/><rect x=".9" y="309.75" width="23.2" height="11.83" fill="#9ad1a8"/><rect x=".9" y="298.22" width="23.2" height="11.83" fill="#afdea5"/><rect x=".9" y="286.70" width="23.2" height="11.83" fill="#bde4aa"/><rect x=".9" y="275.17" width="23.2" height="11.83" fill="#cceaaf"/><rect x=".9" y="263.65" width="23.2" height="11.83" fill="#daf0b3"/><rect x=".9" y="252.12" width="23.2" height="11.83" fill="#e9f6b8"/><rect x=".9" y="240.60" width="23.2" height="11.83" fill="#f8fcbd"/><rect x=".9" y="229.07" width="23.2" height="11.83" fill="#fff8b7"/><rect x=".9" y="217.55" width="23.2" height="11.83" fill="#feeaa6"/><rect x=".9" y="206.02" width="23.2" height="11.83" fill="#fedc96"/><rect x=".9" y="194.50" width="23.2" height="11.83" fill="#fece86"/><rect x=".9" y="182.97" width="23.2" height="11.83" fill="#fdc075"/><rect x=".9" y="171.45" width="23.2" height="11.83" fill="#fdb265"/><rect x=".9" y="159.92" width="23.2" height="11.83" fill="#f89b58"/><rect x=".9" y="148.40" width="23.2" height="11.83" fill="#f1814c"/><rect x=".9" y="136.87" width="23.2" height="11.83" fill="#eb6740"/><rect x=".9" y="125.35" width="23.2" height="11.83" fill="#e44d34"/><rect x=".9" y="113.82" width="23.2" height="11.83" fill="#de3328"/><rect x=".9" y="102.30" width="23.2" height="11.83" fill="#d7191c"/><line x1=".9" x2="24.1" y1="367.38" y2="367.38" stroke="#fff" stroke-opacity="0.35" stroke-width="0.8"/><line x1=".9" x2="24.1" y1="355.85" y2="355.85" stroke="#fff" stroke-opacity="0.35" stroke-width="0.8"/><line x1=".9" x2="24.1" y1="344.32" y2="344.32" stroke="#fff" stroke-opacity="0.35" stroke-width="0.8"/><line x1=".9" x2="24.1" y1="332.80" y2="332.80" stroke="#fff" stroke-opacity="0.35" stroke-width="0.8"/><line x1=".9" x2="24.1" y1="321.27" y2="321.27" stroke="#333" stroke-width="1"/><line x1=".9" x2="24.1" y1="309.75" y2="309.75" stroke="#fff" stroke-opacity="0.35" stroke-width="0.8"/><line x1=".9" x2="24.1" y1="298.22" y2="298.22" stroke="#fff" stroke-opacity="0.35" stroke-width="0.8"/><line x1=".9" x2="24.1" y1="286.70" y2="286.70" stroke="#fff" stroke-opacity="0.35" stroke-width="0.8"/><line x1=".9" x2="24.1" y1="275.17" y2="275.17" stroke="#fff" stroke-opacity="0.35" stroke-width="0.8"/><line x1=".9" x2="24.1" y1="263.65" y2="263.65" stroke="#333" stroke-width="1"/><line x1=".9" x2="24.1" y1="252.12" y2="252.12" stroke="#fff" stroke-opacity="0.35" stroke-width="0.8"/><line x1=".9" x2="24.1" y1="240.60" y2="240.60" stroke="#fff" stroke-opacity="0.35" stroke-width="0.8"/><line x1=".9" x2="24.1" y1="229.07" y2="229.07" stroke="#fff" stroke-opacity="0.35" stroke-width="0.8"/><line x1=".9" x2="24.1" y1="217.55" y2="217.55" stroke="#fff" stroke-opacity="0.35" stroke-width="0.8"/><line x1=".9" x2="24.1" y1="206.02" y2="206.02" stroke="#333" stroke-width="1"/><line x1=".9" x2="24.1" y1="194.50" y2="194.50" stroke="#fff" stroke-opacity="0.35" stroke-width="0.8"/><line x1=".9" x2="24.1" y1="182.97" y2="182.97" stroke="#fff" stroke-opacity="0.35" stroke-width="0.8"/><line x1=".9" x2="24.1" y1="171.45" y2="171.45" stroke="#fff" stroke-opacity="0.35" stroke-width="0.8"/><line x1=".9" x2="24.1" y1="159.92" y2="159.92" stroke="#fff" stroke-opacity="0.35" stroke-width="0.8"/><line x1=".9" x2="24.1" y1="148.40" y2="148.40" stroke="#333" stroke-width="1"/><line x1=".9" x2="24.1" y1="136.87" y2="136.87" stroke="#fff" stroke-opacity="0.35" stroke-width="0.8"/><line x1=".9" x2="24.1" y1="125.35" y2="125.35" stroke="#fff" stroke-opacity="0.35" stroke-width="0.8"/><line x1=".9" x2="24.1" y1="113.82" y2="113.82" stroke="#fff" stroke-opacity="0.35" stroke-width="0.8"/><rect x=".9" y="102.30" width="23.2" height="276.60" fill="none" stroke="#999" stroke-width="0.8"/>
<text x="31.0" y="145.2" font-family="'Liberation Serif','Times New Roman',serif" font-weight="bold" font-size="25">1.5</text>
<text x="31.0" y="225.8" font-family="'Liberation Serif','Times New Roman',serif" font-weight="bold" font-size="25">1.15</text>
<text x="31.0" y="306.5" font-family="'Liberation Serif','Times New Roman',serif" font-weight="bold" font-size="25">0.8</text>
<text x="31.0" y="387.2" font-family="'Liberation Serif','Times New Roman',serif" font-weight="bold" font-size="25">0.45</text>
<text x="43.5" y="52.8" font-family="'Liberation Serif','Times New Roman',serif" font-weight="bold" font-size="63.5">G</text>
<text x="261.3" y="51.1" font-family="'Liberation Serif','Times New Roman',serif" font-weight="bold" font-size="24.5" textLength="135" lengthAdjust="spacingAndGlyphs">Nanliu River</text>
<text x="192.8" y="422.6" font-family="'Liberation Serif','Times New Roman',serif" font-weight="bold" font-style="italic" font-size="25" fill="#666" textLength="146.6" lengthAdjust="spacingAndGlyphs">Lianzhou Bay</text>
<text x="2.6" y="466" font-family="'Liberation Serif','Times New Roman',serif" font-weight="bold" font-size="26" textLength="194.4" lengthAdjust="spacingAndGlyphs">Transparency (m)</text>
</g>
</g>
<g transform="translate(1883,485.5)">
<g clip-path="url(#fc)">
<rect x="0" y="0" width="559.4" height="473.5" fill="#fff"/>
<g clip-path="url(#dc)"><rect x="60" y="70" width="510" height="350" fill="#2c82c0"/><path fill="#2c82c0" d="M70 80l487.5 0 0 327.5-487.5 0zM412.5 114.9l-7.5 1.1-5 2.1-5 3.3-5 4.9-4 6.2-2.1 5-1.3 7.5 .4 5 2.4 7.5 11.1 25 2.8 5 2 2.5 6.2 4.9 7.5 3.4 5 1 7.5-.4 5-1.5 5-3.2 3.5-4.2 2.2-5 1.6-7.5 .5-7.5-.3-10-1.4-10-1.8-7.5-2.8-7.5-2.6-5-3.9-5.4-5-4.7-5-2.9-5-1.6z"/><path fill="#4393bb" class="l" d="M70 80l487.5 0 0 327.5-487.5 0zM407.5 92.3l-5 1.4-5 2-7.5 4.4-7.5 6.5-6.8 8.4-5.3 10-2.9 8.5-2 11.5 .4 7.5 1.6 3.8 2.6 3.7 7.4 7.6 5 6 9.3 16.4 3.2 4.1 2.5 2.4 5 3.4 5 2.8 10 3.7 5 .9 5 .3 7.5-.7 7.5-2.7 5-3.7 2.4-3 1.3-2.5 1.7-5 2.1-12.5 1.2-20-.5-17.5-2-12.5-3.1-10-3.1-6.5-5-7.2-5-4.9-7.5-4.5-7.5-2.4-7.5-.6z"/><path fill="#5aa3b6" class="l" d="M70 80l319.5 0-9.5 7.1-7.5 7.5-6 7.9-5.6 10-3.4 8.6-2.5 10.1-2.6 18.8 .1 7.5 1 2.5 1.5 2.3 2.6 2.7 17.4 12.5 2.5 2.6 6.5 9.9 4.1 5 4.4 4.2 4.3 3.3 8.2 5 10 4.4 10 2.5 7.5 .5 7.5-.7 7.5-2.4 6.7-4.3 3.3-3.8 2.5-5.8 1.3-5.4 4.6-32.5 1.6-15 .6-12.5-.5-12.5-1.6-10-2.9-10-3.1-6.8-5-7.6-5.5-5.6 108 0 0 327.5-487.5 0z"/><path fill="#71b4b1" class="l" d="M70 80l297.3 0-7.3 9-5.5 8.5-4.9 10-3.4 10-2.3 12.5-1.4 20 .6 7.5 1.6 5 2.8 4.4 2.9 3.1 17.1 12.5 18.5 17.5 9.9 7.5 11.6 6.9 10 4.5 7.5 2.1 10 1.1 7.5-.6 5-1.1 5-2 5-3 5.5-5.4 2.9-5 1.6-4.7 4.4-25.3 7.6-35 2.7-20 .3-12.5-.9-10-2.2-10-2.6-7.5 80.7 0 0 327.5-487.5 0z"/><path fill="#88c4ac" class="l" d="M70 80l281.7 0-6.7 10.8-5 10.4-3.8 11.3-2.1 10-1 12.5 .5 15 2 10 3.4 7.5 4.1 5 5.9 5 11 8 11.7 9.5 16.6 12.5 16.7 11.2 10 5.4 7.5 2.9 7.5 1.8 10 .8 5-.4 5-1.1 5-1.8 5-2.6 5-3.7 2.5-2.5 3.6-5 2.4-5 2-7.5 2.1-15 1.7-7.5 13.3-40 5.1-20 1.6-10 .8-10 0-10-.8-7.5 58.2 0 0 327.5-487.5 0z"/><path fill="#9fd5a7" stroke="#2a2a2a" stroke-opacity=".85" stroke-width=".9" d="M70 80l268.8 0-6.3 12.1-4.1 10.4-2.8 10-1.6 12.5 0 12.5 1.6 12.5 2.7 10 4.7 10 4.1 5 5.7 5 23.5 17.5 11.2 7.3 32.5 23.3 7.5 4.1 7.5 2.9 10 2.3 7.5 .7 7.5-.5 5-1.3 5-2 5-2.8 5-3.4 3.3-3.1 4-5 2.7-4.8 2-5.2 1.2-5 2-17.5 2.3-7.5 19.5-42.5 5-12.5 3.4-10 4.4-17.5 1.6-10 .6-7.5 35.5 0 0 327.5-487.5 0z"/><path fill="#b3e0a6" class="l" d="M70 80l257.4 0-5.7 12.5-4.2 12.5-1.9 10-.7 12.5 1 12.5 2 10 4.7 12.5 5.6 10 4.3 5.4 7.5 6.6 37.7 25.5 12.9 10 14.4 11.9 7.5 5.5 7.5 4.4 10 4.1 10 2.6 7.5 .7 7.5-.4 5-1.1 5-1.7 5-2.5 8-6 4.5-4.9 2.5-3.5 3.6-6.6 2.8-7.5 1.7-7.5 2.4-15 1.3-5 1.9-5 6.3-12.1 18.2-30.4 10.3-20 8.1-20 3.1-10 2.4-10 10.4 0 0 327.5-487.5 0z"/><path fill="#c2e6ab" class="l" d="M70 80l247.1 0-6.1 15-3.4 12.5-1.1 10 .4 12.5 1.6 12.5 2.7 10 4.7 10 9.1 14.1 5 5.9 7.5 6.4 29.6 18.6 13.6 10 8.5 7.5 18.3 18.3 10 8 10 6.1 10 4.4 10 2.9 10 1.4 10-.2 5-1 5-1.8 5-3 2.5-2.1 5-5.8 5-8.5 4.7-11.2 3.9-12.5 5.7-22.5 4.1-10 6.6-11.2 24.3-33.8 13.2-20.7 0 285.7-487.5 0z"/><path fill="#d1ecb0" class="l" d="M70 80l237.6 0-5.7 15-2 7.5-1.3 7.5-.4 5 .2 7.5 2.7 20 2.3 10 3.5 7.5 5 7.5 11.3 15 4.6 5 7.2 6 6.3 4 21.2 11.4 8.5 6.1 6 5 9.8 10 15.7 21.5 7.5 9 7.5 7.5 7.5 6 7.5 5 10 5.5 25 12 22.5 11.8 5 2.2 5 1.4 2.5 .1 2.5-.5 2.5-1.1 2.5-1.7 3.3-3.7 1.7-3.1 1.5-4.4 1-5 .4-7.5-1.5-30 .3-12.5 2.3-15 4.5-15 4-8.9 5-8.2 25-31.2 0 243.3-487.5 0z"/><path fill="#e0f3b5" class="l" d="M70 80l228.6 0-3.7 10-2.9 10-1.6 10-.2 7.5 3 17.5 2.2 17.5 2.1 6.2 4.1 6.3 10.9 12.3 9.9 12.7 5.2 5 4.9 3.6 5 2.8 17.5 7.5 5 2.8 7.7 5.8 8 7.5 4.1 5 4.5 7.5 3.5 7.5 7.2 18.4 5.7 11.6 6.8 10.5 7.5 8.3 5 4.1 7.5 5 40 22.5 17.5 8.5 15 5.5 10 1.9 7.5 .2 7.5-1.1 7.5-2.5 5.2-2.9 6.1-5 4.1-5 4-7.5 1.7-5 1.3-7.5 .1-7.5-.8-7.5-2.8-12.5-9.1-27.5-1.6-7.5-.4-5 .1-2.5 1.3-5 3.3-7 5-7.3 7.5-8.5 0 200.3-487.5 0z"/><path fill="#f0f9ba" stroke="#2a2a2a" stroke-opacity=".85" stroke-width=".9" d="M70 80l220.2 0-5.7 17.5-1.4 7.5-.4 5 .5 10 3.3 12.5 .8 5 .7 17.5 1 5 1.2 2.5 3.4 5 4.7 5 9.2 8.5 10 13.4 5.7 5.6 4.3 3.1 5 2.5 17.5 5.5 7.5 3.3 6.9 5.6 4.8 5 3.8 5 3.3 7.5 1.7 7.5 .4 5-.1 20 .6 7.5 1.4 7.5 4 12.5 3.7 7.5 3.3 5 3.7 3.8 4.8 3.7 12.7 7.6 20 9.8 17.5 10 10 4.4 20 7.7 12.5 7.8 10 4.6 12.5 3.8 7.5 1.4 7.5 .8 7.5 .1 7.5-.5 12.5-2.6 0 35.1-487.5 0z"/><path fill="#ffffbf" class="l" d="M70 80l212.1 0-5.6 17.5-1.3 7.5-.1 5 1.5 10 4.6 15 .4 5-.7 15 .4 5 1.3 5 2.4 4.9 5 6.6 11 11 11.5 15 5 4.6 2.5 1.6 5 1.9 20 3 5 1.5 5 2.2 6.2 5.2 3.8 5 2.3 5 1 5-.7 7.5-2.9 7.5-4.7 7.1-2.5 2.7-5 3.7-5 1.8-5 .6-17.5-1.8-7.5 .3-7.5 2.2-5 3.3-4.2 5.1-1.3 2.5-1.4 5-.1 5 .5 2.5 2.1 5 4.1 5 2.8 2.2 7.5 3.6 5 1.1 5 .4 17.5-1.4 7.5 .4 7.5 2.6 7.5 5 7.5 6.9 16 16.7 6.7 7.5 5.8 7.5 5.5 10 2.8 7.5 4 15 1.7 4.2 2.7 3.3 4.8 1.9 5 .3 5-.8 17.5-4.7 5-.4 5 .3 5 1 7.5 2.6 26 12.3-428.5 0z"/><path fill="#fff0ae" class="l" d="M70 80l204.3 0-5.9 17.5-1.5 7.5-.1 5 .8 5 1.4 5 6.1 15 0 5-1.6 15 .2 7.5 .9 5 1.6 5 3.8 8.1 10.5 16.9 9.5 18.5 5 7 2.5 1.9 2.5 .5 2.5-.7 9.4-4.7 8.1-2.6 7.5-.9 7.5 .8 7.5 2.8 5 4.2 3.4 5.7 .9 5-1 5-1.2 2.5-2.1 2.8-2.4 2.2-5.1 2.9-2.5 .9-5 .8-7.5-.5-7.5-2.2-8.5-4.4-9-6.2-2.5-.5-2.5 .8-2.5 1.7-7.5 7.5-5 6.2-5 7.5-4 8-2.7 7.5-1.5 7.5-.1 7.5 1.1 5 3.6 7.5 6.1 7.9 4.8 4.6 5.2 4.2 10 6.3 7.5 3.5 7.5 2.2 7.5 .7 15-.3 3 .9 4.5 3.3 7.6 9.2 9.9 14.6 5 8.3 2.5 5.6 6.2 21.5 4.6 10-318.3 0z"/><path fill="#fee29d" class="l" d="M70 80l196.8 0-8.5 22.5-1.2 7.5 1.3 7.5 6.6 15 1.2 5 0 5-1.5 15 .3 10 1.8 10 5 17.5 1.7 7.5 1.1 10 .1 10-1 10-1.8 7.5-10 27.5-3.3 12.5-1.2 10 .2 5 1 5 2.9 7.5 3 5 3.9 5 7.3 7.5 19.7 17.5 9 10 4.9 7.5 5.7 11.3 2.5 3.8 5 4.3 12.5 8.6 7.5 6.1 5.9 5.9 6 7.5-284.4 0zM330.4 222.5l4.6-1.8 5-.6 5 .6 5 1.9 3.2 2.4 1.9 2.5 1.2 2.5 .5 2.5-.1 2.5-.7 2.5-1.5 2.5-2 2.1-2.5 1.7-2.5 1.1-5 1-5-.3-2.5-.7-5-2.4-2.9-2.5-1.8-2.5-1.1-2.5-.4-2.5 .3-2.5 1.1-2.5 1.8-2.5z"/><path fill="#fed38c" class="l" d="M70 80l189.4 0-5.3 12.5-8.4 15-.8 2.5 0 2.5 1.5 5 6.8 15 1.7 7.5 .2 5-.9 15 .1 7.5 3.4 35-.2 10-.8 7.5-2.8 12.5-3.9 10.6-10 21-11.3 20.9-1.8 7.5 .5 5 1.7 5 2.9 5 3.7 5 6.9 7.5 11.5 10 20.9 15.6 10 9.4 7.5 9.5 12.5 19.1 18.6 23.9-253.6 0zM177.5 284.9l-.4 .1 .4 .3zM334.9 225l2.6-.9 5-.4 4.5 1.3 3 2.2 1.7 2.8 .6 2.5-.4 2.5-1.4 2.5-3 2.4-5 1.4-5-.5-2.5-1.1-2.5-1.9-1.9-2.8-.6-2.5 .4-2.5 1.4-2.5z"/><path fill="#fec47b" stroke="#2a2a2a" stroke-opacity=".85" stroke-width=".9" d="M70 80l182.3 0-5.7 12.5-3.3 5-8.3 9.5-.8 3 0 2.5 .8 3.6 6.3 13.9 2.2 10 .3 7.5-.7 12.5 0 30-1.4 15-2.8 12.5-1.8 5-2.1 4.3-5 7.2-7.5 7.6-5 3.8-5 3-5 2.3-5 1.5-10 1.2-5-.4-5-1.5-25-10.5-12.5-4.5-10-2-10-.7-7.5-1.3-2.5 .3-5 1.9-5 3.1-5.6 4.7-4.4 5.1-3.1 4.9-3.1 7.5-1.3 7.5 .1 5 2.2 7.5 1.6 2.5 2.2 2.5 16.3 12.5 27.6 16.4 7.5 3.4 7.5 2.7 22.5 5.7 37.5 12.2 35 14.2 10 4.6 7.5 4.1 5 3.8 2.5 2.8 21.7 27.6 3.1 5 3.6 7.5-230.9 0zM337.1 230l2.9-1.6 2.5-.1 3.1 1.7 .8 2.5-1.4 2.7-2.5 .9-2.5-.1-2.2-1-1.3-2.5z"/><path fill="#fdb56a" class="l" d="M70 80l175.4 0-3 7.5-2.5 5-3.6 5-6.5 7.5-2.1 5-.3 2.5 .3 5 4.4 15 1.7 10 0 10-1 12.5-2 15-3.3 13-2.5 6.3-2.5 4.8-5 6.8-5 4.6-7.5 4.3-5 1.6-7.5 1.1-5-.1-7.5-1.2-22.5-6.6-12.5-2.4-12.5-1.3-12.5 .6-7.5 1.5-10 2.8-11.1 4.2-11.4 6.3-10 7.4zM70 347.5l0-1.6 8.6 4.1 8.9 2.2 35 2.9 27.5 4.2 25 5.6 26.4 7.6 18.6 6.6 12.5 6 10 7.2 16 15.2-188.5 0z"/><path fill="#faa05b" class="l" d="M70 80l168.3 0-2.5 7.5-2.2 5-1.6 2.5-7 7.5-1.7 2.5-2.1 5-.4 7.5 3.5 17.5 .9 7.5-.4 12.5-1.9 10-2.9 9.3-3.9 8.2-3.4 5-5.2 5.4-5 3.5-5 2.4-7.5 1.8-5 .5-7.5-.2-40-5.7-7.5-.6-7.5 .2-12.5 1.8-15 3.5-12.5 3.9-12.5 5.2zM70 407.5l0-.3 1.6 .3z"/><path fill="#f3854e" class="l" d="M70 80l160.5 0-1.4 5-2.2 5-1.7 2.5-5.2 5.5-3.5 4.5-2.4 5-.6 2.5-.1 5 3.3 17.5 1 12.5-.9 7.5-1.2 5-2.9 7.5-2.7 4.8-5 6.3-5 4.1-7.5 3.7-7.5 1.8-5 .4-7.5-.1-40-3.7-15-.2-12.5 1-12.5 1.9-12 2.5-10.5 2.9z"/><path fill="#ec6a42" class="l" d="M70 80l150 0-4.1 7.5-9.4 12.5-2.3 5-.5 2.5 .1 5 5.7 15 1.4 10-.1 5-.7 5-1.4 5-2.2 5-4 5.8-5 4.7-7.5 4-7.5 1.7-10 .3-25-1.4-25-2.4-12.5-.4-20 .9-20 2.9z"/><path fill="#e54f35" stroke="#2a2a2a" stroke-opacity=".85" stroke-width=".9" d="M70 80l134.6 0-7.1 11.2-2.5 4.7-2.3 6.6-.6 5 .6 5 .9 2.5 1.5 2.5 4.9 5 1.8 2.5 2 5 .8 5-.1 5-1 5-2 5-4 5.6-5 4.2-5 2.5-7.5 1.6-7.5-.1-12.5-1.7-5 .5-5-.4-30-4.2-15-1.4-17.5-.3-17.5 1.1z"/><path fill="#de3429" class="l" d="M70 80l117.5 0-3.2 7.5-1.8 5.9-1 6.6 .1 5 1.1 5 2.2 5 3.6 5 6.5 6.7 2 3.3 .7 2.5 .2 5-.4 2.5-2 5-3 4-5 3.7-5 1.8-7.5 .7-25-4-27.5-6.1-15-2.6-17.5-1.6-20-.2z"/><path fill="#d7191c" class="l" d="M70 80l99.9 0-1.8 7.5-.9 7.5 .4 7.5 1.2 5 2.1 5 3.4 5 4.9 5 8.6 7.5 1.4 2.5 .4 2.5-.3 2.5-1 2.5-2.1 2.5-3.7 2.2-5 .9-5-.4-9.1-2.7-23.4-8.9-20-5.8-12.5-2.4-12.5-1.7-12.5-.9-12.5-.4z"/></g>
<use href="#land"/>
<use href="#dots"/>
<rect x=".9" y="352.51" width="23.2" height="12.29" fill="#2c82c0"/><rect x=".9" y="340.52" width="23.2" height="12.29" fill="#4393bb"/><rect x=".9" y="328.53" width="23.2" height="12.29" fill="#5aa3b6"/><rect x=".9" y="316.53" width="23.2" height="12.29" fill="#71b4b1"/><rect x=".9" y="304.54" width="23.2" height="12.29" fill="#88c4ac"/><rect x=".9" y="292.55" width="23.2" height="12.29" fill="#9fd5a7"/><rect x=".9" y="280.56" width="23.2" height="12.29" fill="#b3e0a6"/><rect x=".9" y="268.57" width="23.2" height="12.29" fill="#c2e6ab"/><rect x=".9" y="256.58" width="23.2" height="12.29" fill="#d1ecb0"/><rect x=".9" y="244.59" width="23.2" height="12.29" fill="#e0f3b5"/><rect x=".9" y="232.60" width="23.2" height="12.29" fill="#f0f9ba"/><rect x=".9" y="220.60" width="23.2" height="12.29" fill="#ffffbf"/><rect x=".9" y="208.61" width="23.2" height="12.29" fill="#fff0ae"/><rect x=".9" y="196.62" width="23.2" height="12.29" fill="#fee29d"/><rect x=".9" y="184.63" width="23.2" height="12.29" fill="#fed38c"/><rect x=".9" y="172.64" width="23.2" height="12.29" fill="#fec47b"/><rect x=".9" y="160.65" width="23.2" height="12.29" fill="#fdb56a"/><rect x=".9" y="148.66" width="23.2" height="12.29" fill="#faa05b"/><rect x=".9" y="136.67" width="23.2" height="12.29" fill="#f3854e"/><rect x=".9" y="124.67" width="23.2" height="12.29" fill="#ec6a42"/><rect x=".9" y="112.68" width="23.2" height="12.29" fill="#e54f35"/><rect x=".9" y="100.69" width="23.2" height="12.29" fill="#de3429"/><rect x=".9" y="88.70" width="23.2" height="12.29" fill="#d7191c"/><line x1=".9" x2="24.1" y1="352.51" y2="352.51" stroke="#fff" stroke-opacity="0.35" stroke-width="0.8"/><line x1=".9" x2="24.1" y1="340.52" y2="340.52" stroke="#fff" stroke-opacity="0.35" stroke-width="0.8"/><line x1=".9" x2="24.1" y1="328.53" y2="328.53" stroke="#fff" stroke-opacity="0.35" stroke-width="0.8"/><line x1=".9" x2="24.1" y1="316.53" y2="316.53" stroke="#fff" stroke-opacity="0.35" stroke-width="0.8"/><line x1=".9" x2="24.1" y1="304.54" y2="304.54" stroke="#333" stroke-width="1"/><line x1=".9" x2="24.1" y1="292.55" y2="292.55" stroke="#fff" stroke-opacity="0.35" stroke-width="0.8"/><line x1=".9" x2="24.1" y1="280.56" y2="280.56" stroke="#fff" stroke-opacity="0.35" stroke-width="0.8"/><line x1=".9" x2="24.1" y1="268.57" y2="268.57" stroke="#fff" stroke-opacity="0.35" stroke-width="0.8"/><line x1=".9" x2="24.1" y1="256.58" y2="256.58" stroke="#fff" stroke-opacity="0.35" stroke-width="0.8"/><line x1=".9" x2="24.1" y1="244.59" y2="244.59" stroke="#333" stroke-width="1"/><line x1=".9" x2="24.1" y1="232.60" y2="232.60" stroke="#fff" stroke-opacity="0.35" stroke-width="0.8"/><line x1=".9" x2="24.1" y1="220.60" y2="220.60" stroke="#fff" stroke-opacity="0.35" stroke-width="0.8"/><line x1=".9" x2="24.1" y1="208.61" y2="208.61" stroke="#fff" stroke-opacity="0.35" stroke-width="0.8"/><line x1=".9" x2="24.1" y1="196.62" y2="196.62" stroke="#fff" stroke-opacity="0.35" stroke-width="0.8"/><line x1=".9" x2="24.1" y1="184.63" y2="184.63" stroke="#333" stroke-width="1"/><line x1=".9" x2="24.1" y1="172.64" y2="172.64" stroke="#fff" stroke-opacity="0.35" stroke-width="0.8"/><line x1=".9" x2="24.1" y1="160.65" y2="160.65" stroke="#fff" stroke-opacity="0.35" stroke-width="0.8"/><line x1=".9" x2="24.1" y1="148.66" y2="148.66" stroke="#fff" stroke-opacity="0.35" stroke-width="0.8"/><line x1=".9" x2="24.1" y1="136.67" y2="136.67" stroke="#fff" stroke-opacity="0.35" stroke-width="0.8"/><line x1=".9" x2="24.1" y1="124.67" y2="124.67" stroke="#333" stroke-width="1"/><line x1=".9" x2="24.1" y1="112.68" y2="112.68" stroke="#fff" stroke-opacity="0.35" stroke-width="0.8"/><line x1=".9" x2="24.1" y1="100.69" y2="100.69" stroke="#fff" stroke-opacity="0.35" stroke-width="0.8"/><rect x=".9" y="88.70" width="23.2" height="275.80" fill="none" stroke="#999" stroke-width="0.8"/>
<text x="33.5" y="121.0" font-family="'Liberation Serif','Times New Roman',serif" font-weight="bold" font-size="25">6.95</text>
<text x="33.5" y="204.9" font-family="'Liberation Serif','Times New Roman',serif" font-weight="bold" font-size="25">6.6</text>
<text x="33.5" y="288.9" font-family="'Liberation Serif','Times New Roman',serif" font-weight="bold" font-size="25">6.25</text>
<text x="33.5" y="372.8" font-family="'Liberation Serif','Times New Roman',serif" font-weight="bold" font-size="25">5.9</text>
<text x="46.0" y="51.9" font-family="'Liberation Serif','Times New Roman',serif" font-weight="bold" font-size="63">H</text>
<text x="261.3" y="51.1" font-family="'Liberation Serif','Times New Roman',serif" font-weight="bold" font-size="24.5" textLength="135" lengthAdjust="spacingAndGlyphs">Nanliu River</text>
<text x="192.8" y="422.6" font-family="'Liberation Serif','Times New Roman',serif" font-weight="bold" font-style="italic" font-size="25" fill="#666" textLength="146.6" lengthAdjust="spacingAndGlyphs">Lianzhou Bay</text>
<text x="2.6" y="466" font-family="'Liberation Serif','Times New Roman',serif" font-weight="bold" font-size="26" textLength="114.0" lengthAdjust="spacingAndGlyphs">DO (mg/L)</text>
</g>
</g>
<line x1="205.5" x2="2443" y1="12" y2="12" stroke="#999" stroke-width="1.4"/><line x1="206" x2="206" y1="12" y2="960" stroke="#999" stroke-width="1.3"/><line x1="2442.5" x2="2442.5" y1="12" y2="960" stroke="#8a8a8a" stroke-width="1.3"/><line x1="206" x2="2443" y1="485.5" y2="485.5" stroke="#555" stroke-width="1.2"/><line x1="206" x2="2443" y1="959.2" y2="959.2" stroke="#666" stroke-width="1.2"/><line x1="765" x2="765" y1="12" y2="959" stroke="#3a3a3a" stroke-width="1.2"/><line x1="1324" x2="1324" y1="12" y2="959" stroke="#3a3a3a" stroke-width="1.2"/><line x1="1883" x2="1883" y1="12" y2="959" stroke="#3a3a3a" stroke-width="1.2"/>
<line x1="188" x2="206" y1="67.8" y2="67.8" stroke="#777" stroke-width="1"/><text x="182.5" y="76.0" font-family="'Liberation Serif','Times New Roman',serif" font-weight="bold" font-size="26" text-anchor="end">21.63<tspan font-size="29" dy="2.8" dx="-0.5">°</tspan><tspan dy="-2.8" dx="-1.5">N</tspan></text><line x1="188" x2="206" y1="206.8" y2="206.8" stroke="#777" stroke-width="1"/><text x="182.5" y="215.0" font-family="'Liberation Serif','Times New Roman',serif" font-weight="bold" font-size="26" text-anchor="end">21.58<tspan font-size="29" dy="2.8" dx="-0.5">°</tspan><tspan dy="-2.8" dx="-1.5">N</tspan></text><line x1="188" x2="206" y1="345.8" y2="345.8" stroke="#777" stroke-width="1"/><text x="182.5" y="354.0" font-family="'Liberation Serif','Times New Roman',serif" font-weight="bold" font-size="26" text-anchor="end">21.53<tspan font-size="29" dy="2.8" dx="-0.5">°</tspan><tspan dy="-2.8" dx="-1.5">N</tspan></text><line x1="188" x2="206" y1="541.3" y2="541.3" stroke="#777" stroke-width="1"/><text x="182.5" y="549.5" font-family="'Liberation Serif','Times New Roman',serif" font-weight="bold" font-size="26" text-anchor="end">21.63<tspan font-size="29" dy="2.8" dx="-0.5">°</tspan><tspan dy="-2.8" dx="-1.5">N</tspan></text><line x1="188" x2="206" y1="680.3" y2="680.3" stroke="#777" stroke-width="1"/><text x="182.5" y="688.5" font-family="'Liberation Serif','Times New Roman',serif" font-weight="bold" font-size="26" text-anchor="end">21.58<tspan font-size="29" dy="2.8" dx="-0.5">°</tspan><tspan dy="-2.8" dx="-1.5">N</tspan></text><line x1="188" x2="206" y1="819.3" y2="819.3" stroke="#777" stroke-width="1"/><text x="182.5" y="827.5" font-family="'Liberation Serif','Times New Roman',serif" font-weight="bold" font-size="26" text-anchor="end">21.53<tspan font-size="29" dy="2.8" dx="-0.5">°</tspan><tspan dy="-2.8" dx="-1.5">N</tspan></text><line x1="188" x2="206" y1="485" y2="485" stroke="#777" stroke-width="1"/><line x1="188" x2="206" y1="959" y2="959" stroke="#777" stroke-width="1"/><text x="182.5" y="967.2" font-family="'Liberation Serif','Times New Roman',serif" font-weight="bold" font-size="26" text-anchor="end">21.48<tspan font-size="29" dy="2.8" dx="-0.5">°</tspan><tspan dy="-2.8" dx="-1.5">N</tspan></text><line x1="206.0" x2="206.0" y1="959" y2="976.5" stroke="#777" stroke-width="1"/><text x="208.5" y="1002.5" font-family="'Liberation Serif','Times New Roman',serif" font-weight="bold" font-size="26" text-anchor="middle">108.95<tspan font-size="29" dy="2.8" dx="1.5">°</tspan><tspan dy="-2.8" dx="-1">E</tspan></text><line x1="345.9" x2="345.9" y1="959" y2="976.5" stroke="#777" stroke-width="1"/><text x="348.4" y="1002.5" font-family="'Liberation Serif','Times New Roman',serif" font-weight="bold" font-size="26" text-anchor="middle">109<tspan font-size="29" dy="2.8" dx="1.5">°</tspan><tspan dy="-2.8" dx="-1">E</tspan></text><line x1="485.7" x2="485.7" y1="959" y2="976.5" stroke="#777" stroke-width="1"/><text x="488.2" y="1002.5" font-family="'Liberation Serif','Times New Roman',serif" font-weight="bold" font-size="26" text-anchor="middle">109.05<tspan font-size="29" dy="2.8" dx="1.5">°</tspan><tspan dy="-2.8" dx="-1">E</tspan></text><line x1="625.5" x2="625.5" y1="959" y2="976.5" stroke="#777" stroke-width="1"/><text x="628.0" y="1002.5" font-family="'Liberation Serif','Times New Roman',serif" font-weight="bold" font-size="26" text-anchor="middle">109.1<tspan font-size="29" dy="2.8" dx="1.5">°</tspan><tspan dy="-2.8" dx="-1">E</tspan></text><line x1="765.4" x2="765.4" y1="959" y2="976.5" stroke="#777" stroke-width="1"/><line x1="765.0" x2="765.0" y1="959" y2="976.5" stroke="#777" stroke-width="1"/><line x1="904.9" x2="904.9" y1="959" y2="976.5" stroke="#777" stroke-width="1"/><text x="907.4" y="1002.5" font-family="'Liberation Serif','Times New Roman',serif" font-weight="bold" font-size="26" text-anchor="middle">109<tspan font-size="29" dy="2.8" dx="1.5">°</tspan><tspan dy="-2.8" dx="-1">E</tspan></text><line x1="1044.7" x2="1044.7" y1="959" y2="976.5" stroke="#777" stroke-width="1"/><text x="1047.2" y="1002.5" font-family="'Liberation Serif','Times New Roman',serif" font-weight="bold" font-size="26" text-anchor="middle">109.05<tspan font-size="29" dy="2.8" dx="1.5">°</tspan><tspan dy="-2.8" dx="-1">E</tspan></text><line x1="1184.5" x2="1184.5" y1="959" y2="976.5" stroke="#777" stroke-width="1"/><text x="1187.0" y="1002.5" font-family="'Liberation Serif','Times New Roman',serif" font-weight="bold" font-size="26" text-anchor="middle">109.1<tspan font-size="29" dy="2.8" dx="1.5">°</tspan><tspan dy="-2.8" dx="-1">E</tspan></text><line x1="1324.4" x2="1324.4" y1="959" y2="976.5" stroke="#777" stroke-width="1"/><line x1="1324.0" x2="1324.0" y1="959" y2="976.5" stroke="#777" stroke-width="1"/><line x1="1463.8" x2="1463.8" y1="959" y2="976.5" stroke="#777" stroke-width="1"/><text x="1466.3" y="1002.5" font-family="'Liberation Serif','Times New Roman',serif" font-weight="bold" font-size="26" text-anchor="middle">109<tspan font-size="29" dy="2.8" dx="1.5">°</tspan><tspan dy="-2.8" dx="-1">E</tspan></text><line x1="1603.7" x2="1603.7" y1="959" y2="976.5" stroke="#777" stroke-width="1"/><text x="1606.2" y="1002.5" font-family="'Liberation Serif','Times New Roman',serif" font-weight="bold" font-size="26" text-anchor="middle">109.05<tspan font-size="29" dy="2.8" dx="1.5">°</tspan><tspan dy="-2.8" dx="-1">E</tspan></text><line x1="1743.5" x2="1743.5" y1="959" y2="976.5" stroke="#777" stroke-width="1"/><text x="1746.0" y="1002.5" font-family="'Liberation Serif','Times New Roman',serif" font-weight="bold" font-size="26" text-anchor="middle">109.1<tspan font-size="29" dy="2.8" dx="1.5">°</tspan><tspan dy="-2.8" dx="-1">E</tspan></text><line x1="1883.4" x2="1883.4" y1="959" y2="976.5" stroke="#777" stroke-width="1"/><line x1="1883.0" x2="1883.0" y1="959" y2="976.5" stroke="#777" stroke-width="1"/><line x1="2022.8" x2="2022.8" y1="959" y2="976.5" stroke="#777" stroke-width="1"/><text x="2025.3" y="1002.5" font-family="'Liberation Serif','Times New Roman',serif" font-weight="bold" font-size="26" text-anchor="middle">109<tspan font-size="29" dy="2.8" dx="1.5">°</tspan><tspan dy="-2.8" dx="-1">E</tspan></text><line x1="2162.7" x2="2162.7" y1="959" y2="976.5" stroke="#777" stroke-width="1"/><text x="2165.2" y="1002.5" font-family="'Liberation Serif','Times New Roman',serif" font-weight="bold" font-size="26" text-anchor="middle">109.05<tspan font-size="29" dy="2.8" dx="1.5">°</tspan><tspan dy="-2.8" dx="-1">E</tspan></text><line x1="2302.6" x2="2302.6" y1="959" y2="976.5" stroke="#777" stroke-width="1"/><text x="2305.1" y="1002.5" font-family="'Liberation Serif','Times New Roman',serif" font-weight="bold" font-size="26" text-anchor="middle">109.1<tspan font-size="29" dy="2.8" dx="1.5">°</tspan><tspan dy="-2.8" dx="-1">E</tspan></text><line x1="2442.4" x2="2442.4" y1="959" y2="976.5" stroke="#777" stroke-width="1"/><text x="2444.9" y="1002.5" font-family="'Liberation Serif','Times New Roman',serif" font-weight="bold" font-size="26" text-anchor="middle">109.15<tspan font-size="29" dy="2.8" dx="1.5">°</tspan><tspan dy="-2.8" dx="-1">E</tspan></text>
<text transform="translate(52,256.6) rotate(-90)" font-family="'Liberation Serif','Times New Roman',serif" font-weight="bold" font-size="64" text-anchor="middle" textLength="291" lengthAdjust="spacingAndGlyphs">Wet season</text>
<text transform="translate(52,705.3) rotate(-90)" font-family="'Liberation Serif','Times New Roman',serif" font-weight="bold" font-size="64" text-anchor="middle" textLength="284.6" lengthAdjust="spacingAndGlyphs">Dry season</text>
</svg>
</body></html>
